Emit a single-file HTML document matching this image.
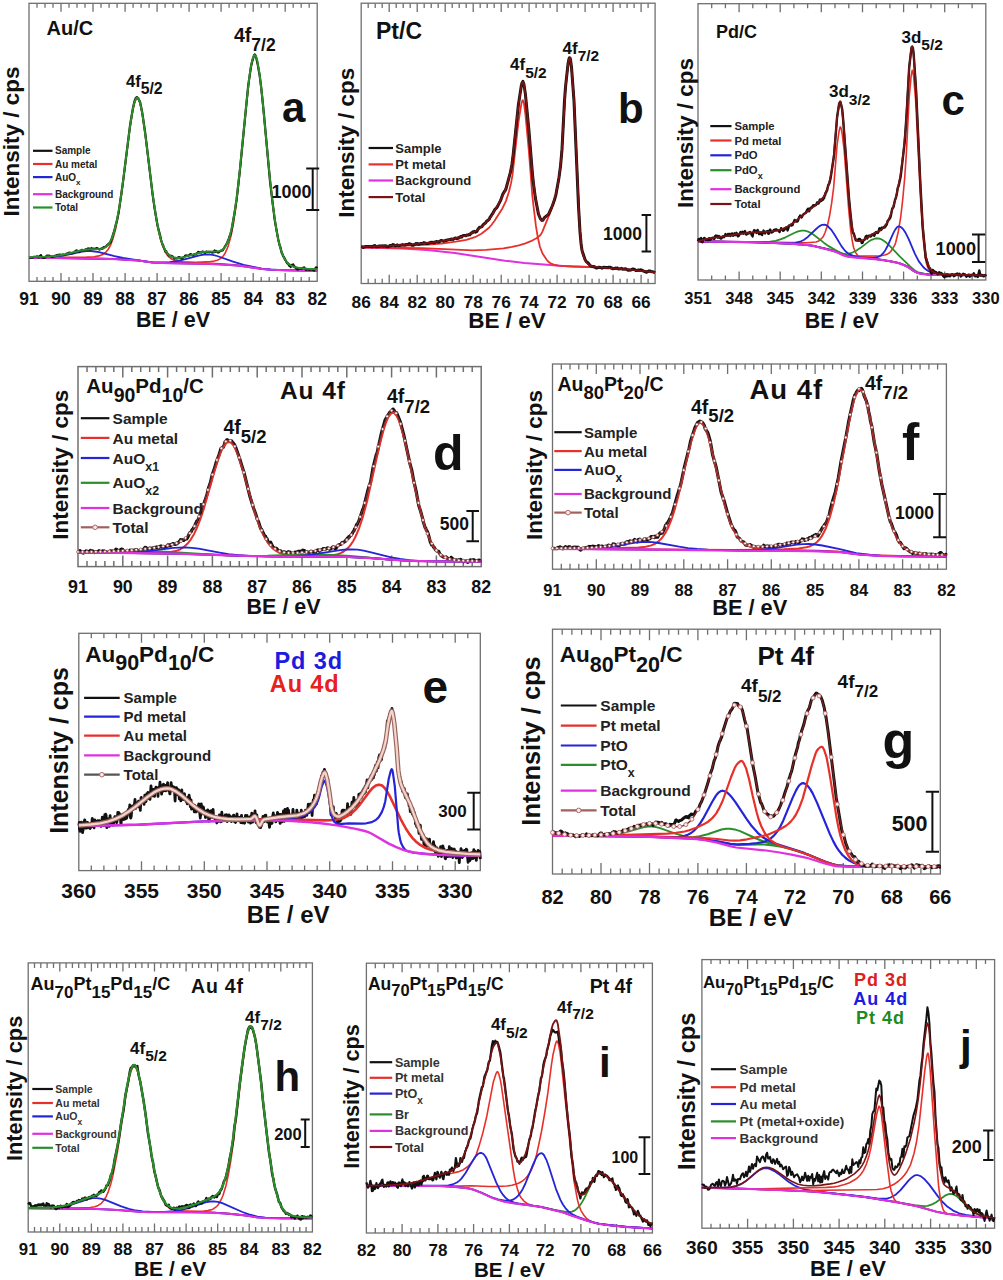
<!DOCTYPE html>
<html><head><meta charset="utf-8"><style>
html,body{margin:0;padding:0;background:#fff;}
svg{display:block;font-family:"Liberation Sans", sans-serif;}
</style></head><body>
<svg width="1003" height="1280" viewBox="0 0 1003 1280">
<rect width="1003" height="1280" fill="#fff"/>
<rect x="29.0" y="3.3" width="288.2" height="278.0" fill="none" stroke="#6f6f6f" stroke-width="1.3"/>
<path d="M309.2,281.3v-4.4M309.2,3.3v4.4M301.2,281.3v-4.4M301.2,3.3v4.4M293.2,281.3v-4.4M293.2,3.3v4.4M285.2,281.3v-8.4M285.2,3.3v8.4M277.2,281.3v-4.4M277.2,3.3v4.4M269.2,281.3v-4.4M269.2,3.3v4.4M261.2,281.3v-4.4M261.2,3.3v4.4M253.2,281.3v-8.4M253.2,3.3v8.4M245.1,281.3v-4.4M245.1,3.3v4.4M237.1,281.3v-4.4M237.1,3.3v4.4M229.1,281.3v-4.4M229.1,3.3v4.4M221.1,281.3v-8.4M221.1,3.3v8.4M213.1,281.3v-4.4M213.1,3.3v4.4M205.1,281.3v-4.4M205.1,3.3v4.4M197.1,281.3v-4.4M197.1,3.3v4.4M189.1,281.3v-8.4M189.1,3.3v8.4M181.1,281.3v-4.4M181.1,3.3v4.4M173.1,281.3v-4.4M173.1,3.3v4.4M165.1,281.3v-4.4M165.1,3.3v4.4M157.1,281.3v-8.4M157.1,3.3v8.4M149.1,281.3v-4.4M149.1,3.3v4.4M141.1,281.3v-4.4M141.1,3.3v4.4M133.1,281.3v-4.4M133.1,3.3v4.4M125.1,281.3v-8.4M125.1,3.3v8.4M117.1,281.3v-4.4M117.1,3.3v4.4M109.1,281.3v-4.4M109.1,3.3v4.4M101.0,281.3v-4.4M101.0,3.3v4.4M93.0,281.3v-8.4M93.0,3.3v8.4M85.0,281.3v-4.4M85.0,3.3v4.4M77.0,281.3v-4.4M77.0,3.3v4.4M69.0,281.3v-4.4M69.0,3.3v4.4M61.0,281.3v-8.4M61.0,3.3v8.4M53.0,281.3v-4.4M53.0,3.3v4.4M45.0,281.3v-4.4M45.0,3.3v4.4M37.0,281.3v-4.4M37.0,3.3v4.4" stroke="#6f6f6f" stroke-width="1.3" fill="none"/>
<text x="317.2" y="305.4" font-size="17.5" fill="#111" text-anchor="middle" font-weight="bold" >82</text>
<text x="285.2" y="305.4" font-size="17.5" fill="#111" text-anchor="middle" font-weight="bold" >83</text>
<text x="253.2" y="305.4" font-size="17.5" fill="#111" text-anchor="middle" font-weight="bold" >84</text>
<text x="221.1" y="305.4" font-size="17.5" fill="#111" text-anchor="middle" font-weight="bold" >85</text>
<text x="189.1" y="305.4" font-size="17.5" fill="#111" text-anchor="middle" font-weight="bold" >86</text>
<text x="157.1" y="305.4" font-size="17.5" fill="#111" text-anchor="middle" font-weight="bold" >87</text>
<text x="125.1" y="305.4" font-size="17.5" fill="#111" text-anchor="middle" font-weight="bold" >88</text>
<text x="93.0" y="305.4" font-size="17.5" fill="#111" text-anchor="middle" font-weight="bold" >89</text>
<text x="61.0" y="305.4" font-size="17.5" fill="#111" text-anchor="middle" font-weight="bold" >90</text>
<text x="29.0" y="305.4" font-size="17.5" fill="#111" text-anchor="middle" font-weight="bold" >91</text>
<path d="M29.0 257.6l86.1 1.3l23.0 1.4l15.0 2.0l20.5 .4l23.5-0.3l13.5-0.8l3.5-0.5l3.0-0.8l2.5-1.2l2.0-1.4l2.0-2.2l1.5-2.3l3.0-6.8l3.0-10.9l2.5-13.0l2.5-17.0l2.5-21.1l8.1-82.4l2.5-22.6l1.5-10.6l1.5-7.8l1.5-4.3l1.0-0.9l1.0 .9l1.5 4.3l2.5 14.7l2.5 21.8l7.0 74.4l3.5 32.5l2.0 15.2l2.0 12.4l2.0 10.0l2.0 7.6l2.0 5.7l2.5 4.9l2.5 3.2l3.5 2.6l3.5 1.3l5.0 1.0l7.5 .7l10.0 .4" stroke="#e8302a" stroke-width="1.60" fill="none" stroke-linejoin="round" />
<path d="M29.0 257.4l45.0-0.0l12.5-0.3l7.5-0.4l5.0-0.8l3.6-1.3l3.0-2.1l2.5-3.0l2.5-4.5l2.5-6.6l2.5-9.4l2.0-9.6l4.0-25.2l7.5-59.7l2.5-17.4l1.5-8.3l1.5-6.0l1.5-3.5l1.0-0.8l1.0 .6l1.5 3.1l1.5 5.9l1.5 8.2l3.0 21.4l7.5 61.1l2.5 16.8l2.0 11.1l2.5 11.1l2.5 8.2l3.0 6.6l1.5 2.3l2.0 2.2l2.5 1.9l3.0 1.4l3.5 .9l5.0 .6l35.5 1.8l16.0 1.2l10.5 1.3l17.1 2.6l8.0 .7l14.5 .6l32.5 .4" stroke="#e8302a" stroke-width="1.60" fill="none" stroke-linejoin="round" />
<path d="M29.0 257.5l16.0-0.1l10.5-0.7l9.0-1.3l17.5-3.8l4.5-0.5l4.5-0.1l8.0 1.2l15.6 4.0l8.5 1.8l29.5 4.6l15.0 .6l52.5 1.1l18.0 1.3l24.1 3.4l7.0 .6l15.0 .7l33.0 .3" stroke="#2424d8" stroke-width="1.80" fill="none" stroke-linejoin="round" />
<path d="M29.0 257.7l86.1 1.3l23.0 1.5l14.0 1.9l10.0 .1l7.5-0.3l7.0-1.0l7.0-1.5l16.0-4.4l4.5-0.8l4.0-0.1l4.5 .5l4.5 1.1l16.0 5.7l10.5 3.1l18.6 4.0l8.5 .7l11.0 .6l35.5 .4" stroke="#2424d8" stroke-width="1.80" fill="none" stroke-linejoin="round" />
<path d="M29.0 257.7l62.0 .8l26.1 .7l21.0 1.4l16.0 2.2l15.5 .5l42.0 .7l18.0 .9l12.5 1.2l20.6 3.0l9.0 .7l13.0 .5l32.5 .3" stroke="#e030e0" stroke-width="2.00" fill="none" stroke-linejoin="round" />
<path d="M29.0 257.5l.5 .0l.5-0.5l.5 .1l.5 .6l1.0-0.3l.5 .3l1.5-0.9l1.5 .1l2.0-0.5l1.0 1.2l1.0-1.6l.5 .1l1.0-1.0l1.0 2.5l1.0-0.3l.5 .6l.5 .2l.5-0.6l.5 .2l2.0-2.1l.5-0.1l.5 .5l1.0-0.5l1.0 .7l.5-0.2l1.0 .8l.5 .0l.5-0.3l.5 .4l1.5-1.1l.5 .6l1.5-1.2l.5 .4l1.0-0.7l1.0 .0l1.0-0.3l.5 .5l1.0-0.3l.5 .5l1.0-0.9l.5 .7l.5-0.1l1.0-0.3l1.5-1.2l1.5-0.2l.5-0.5l.5 .3l1.0-0.5l1.0 .9l1.0-0.3l.5 .2l1.0-0.6l.5 .1l.5-1.3l1.0-0.3l1.0-1.0l1.0 .7l.5-0.2l.5 .7l1.0 .5l1.0-1.4l.5 .3l1.0-1.1l1.0 .6l.5-0.4l1.0 .1l.5-0.3l.5 .1l.5-0.7l1.0 .6l.5-0.3l.5-1.2l1.0 1.3l.5-1.0l.5 .1l.5 1.1l1.0-1.7l1.0 .9l.5-0.4l1.0 .5l3.0-1.2l.5 .6l1.0 .3l1.0 .8l.5-0.7l1.0 .2l.6-0.7l.5 .4l.5-0.3l1.0-1.3l1.0 .1l.5-0.5l.5 .1l1.5-1.8l.5-0.2l.5-0.8l.5 .2l1.0-1.3l.5-0.1l.5-0.6l4.0-12.6l1.5-6.5l.5-1.2l2.0-9.2l4.5-31.6l7.0-56.3l3.0-17.7l1.5-6.4l1.0-2.5l1.0-1.2l.5 .1l1.0 .9l2.0 3.9l2.0 9.6l3.0 20.2l7.5 62.5l2.0 13.9l3.0 17.5l2.5 9.5l1.0 4.8l1.5 4.5l.5 .4l.5 2.0l1.5 3.3l.5 1.8l.5-1.0l1.0 2.4l1.0 .6l.5 1.3l.5-0.1l1.5 1.0l.5-0.5l.5 .5l.5-0.2l1.0 .9l.5 .9l1.0 .8l.5-0.6l1.0 .6l1.0-0.4l.5 .2l1.0-1.4l1.0 .2l.5 .6l1.5 .6l1.0-0.2l1.5-1.4l.5-0.0l.5-1.2l.5 .1l.5-0.4l.5 .5l1.0 .0l.5-0.4l.5 .3l1.5-1.5l1.0-0.0l1.0 .9l1.0 .3l1.5-1.3l1.0 .3l1.5-1.3l.5-0.1l.5-1.2l.5 .5l.5-0.1l.5 .5l.5-0.3l1.5 .1l1.0-1.1l1.0 .8l1.0-0.2l.5 .8l.5-0.7l.5-0.0l.5-0.6l.5 .4l1.0 .1l.5-0.2l1.0 .3l1.0-0.3l1.5 .8l.5-0.8l1.0 .6l1.0-2.0l1.0 1.4l.5-0.8l1.5 1.4l.5-0.4l.5 .5l1.5-1.6l.5 .2l1.0-0.6l1.0-0.0l1.0-1.7l.5-0.3l.5-1.5l2.5-4.0l1.0-2.9l.5-0.3l.5-2.3l1.5-3.6l1.0-4.2l3.0-17.3l2.0-13.0l3.5-31.1l8.1-82.6l3.0-20.3l1.5-5.8l1.5-4.6l.5-0.6l.5 .4l1.0 2.6l1.5 7.0l2.0 11.5l1.5 11.4l2.5 24.3l6.5 71.6l4.5 36.5l3.5 19.5l1.5 6.4l.5 .7l1.5 6.7l.5 .4l1.0 2.9l1.0 1.0l1.0 2.7l.5 .2l.5 1.5l1.0 1.5l.5 .4l.5-0.2l1.0 2.4l.5-0.3l.5 .2l.5 1.4l1.0-2.2l1.0 .0l.5-0.5l1.0 1.9l1.0 .7l.5 1.1l2.0 1.5l.5-1.0l1.0-0.4l.5 .5l1.5-0.3l.5 .5l1.0-1.1l.5 .2l.5-0.5l.5-0.1l.5 .9l1.5 1.6l1.0-1.0l1.5 .8l.5-0.2l.5 .3l.5-0.4l.5 .3l1.0-0.7l.5 .2l.5 .7l.5-0.4l.5 .3l.5 .8l1.5-2.9l.5-0.4l.5 .2l.5 1.0" stroke="#111" stroke-width="2.20" fill="none" stroke-linejoin="round" />
<path d="M29.0 257.1l15.5-0.3l10.5-0.7l9.5-1.6l15.0-3.7l5.5-1.0l5.0-0.6l11.0-0.3l2.6-0.7l2.0-1.0l2.0-1.8l1.5-1.9l2.5-4.7l2.0-5.5l2.0-7.3l2.0-9.2l2.0-11.3l2.5-16.9l7.0-55.3l2.5-17.3l1.5-8.2l1.5-6.0l1.5-3.4l1.0-0.8l1.0 .6l1.5 3.2l1.5 5.8l1.5 8.2l3.0 21.5l7.0 57.3l4.0 26.2l2.0 10.0l2.0 8.1l2.0 6.2l2.5 5.5l2.5 3.6l3.0 2.5l3.0 1.2l4.0 .4l7.0-1.0l13.5-3.7l5.0-1.1l4.5-0.4l8.0-0.1l3.0-0.2l2.5-0.9l2.0-1.3l1.5-1.6l1.5-2.3l1.5-3.0l1.5-4.1l2.5-9.3l2.5-13.1l2.5-17.2l2.5-21.3l7.6-76.7l2.5-22.4l1.5-10.5l1.5-7.6l1.5-4.3l1.0-0.8l1.0 .9l1.5 4.4l2.5 14.7l2.5 21.9l7.0 74.5l3.5 32.6l3.5 24.8l2.0 10.6l2.0 8.1l2.0 6.2l2.5 5.4l3.0 4.0l3.0 2.3l3.5 1.5l5.0 1.1l7.5 .7l10.5 .6" stroke="#2a8f2a" stroke-width="2.00" fill="none" stroke-linejoin="round" />
<line x1="33.0" y1="150.8" x2="52.5" y2="150.8" stroke="#111" stroke-width="2.2"/>
<text x="55.0" y="154.4" font-size="10.0" font-weight="bold" fill="#222">Sample</text>
<line x1="33.0" y1="164.0" x2="52.5" y2="164.0" stroke="#e8302a" stroke-width="2.2"/>
<text x="55.0" y="167.6" font-size="10.0" font-weight="bold" fill="#222">Au metal</text>
<line x1="33.0" y1="177.1" x2="52.5" y2="177.1" stroke="#2424d8" stroke-width="2.2"/>
<text x="55.0" y="180.7" font-size="10.0" font-weight="bold" fill="#222">AuO<tspan dy="4.5" font-size="8.0">x</tspan></text>
<line x1="33.0" y1="194.2" x2="52.5" y2="194.2" stroke="#e030e0" stroke-width="2.2"/>
<text x="55.0" y="197.8" font-size="10.0" font-weight="bold" fill="#222">Background</text>
<line x1="33.0" y1="207.5" x2="52.5" y2="207.5" stroke="#2a8f2a" stroke-width="2.2"/>
<text x="55.0" y="211.1" font-size="10.0" font-weight="bold" fill="#222">Total</text>
<text x="46.6" y="35.3" font-size="20.0" fill="#111" text-anchor="start" font-weight="bold" >Au/C</text>
<text x="126.0" y="87.2" font-weight="bold" fill="#111"><tspan dy="0.0" font-size="16.5">4f</tspan><tspan dy="7.2" font-size="15.8">5/2</tspan></text>
<text x="234.0" y="42.0" font-weight="bold" fill="#111"><tspan dy="0.0" font-size="19.5">4f</tspan><tspan dy="8.6" font-size="17.5">7/2</tspan></text>
<text x="282.0" y="121.8" font-size="42.0" fill="#111" text-anchor="start" font-weight="bold" >a</text>
<path d="M312.7,168.5V209.9M306.2,168.5h13.0M306.2,209.9h13.0" stroke="#111" stroke-width="2.0" fill="none"/>
<text x="311.5" y="198.2" font-size="18.0" fill="#111" text-anchor="end" font-weight="bold" >1000</text>
<text transform="translate(18.6,141.5) rotate(-90)" x="0" y="0" font-size="22.5" font-weight="bold" fill="#111" text-anchor="middle">Intensity / cps</text>
<text x="173.0" y="327.3" font-size="21.5" fill="#111" text-anchor="middle" font-weight="bold" >BE / eV</text>
<rect x="361.2" y="3.2" width="293.9" height="280.3" fill="none" stroke="#6f6f6f" stroke-width="1.3"/>
<path d="M648.1,283.5v-4.8M648.1,3.2v4.8M641.1,283.5v-8.8M641.1,3.2v8.8M634.1,283.5v-4.8M634.1,3.2v4.8M627.1,283.5v-4.8M627.1,3.2v4.8M620.1,283.5v-4.8M620.1,3.2v4.8M613.1,283.5v-8.8M613.1,3.2v8.8M606.1,283.5v-4.8M606.1,3.2v4.8M599.1,283.5v-4.8M599.1,3.2v4.8M592.1,283.5v-4.8M592.1,3.2v4.8M585.1,283.5v-8.8M585.1,3.2v8.8M578.1,283.5v-4.8M578.1,3.2v4.8M571.1,283.5v-4.8M571.1,3.2v4.8M564.1,283.5v-4.8M564.1,3.2v4.8M557.1,283.5v-8.8M557.1,3.2v8.8M550.1,283.5v-4.8M550.1,3.2v4.8M543.1,283.5v-4.8M543.1,3.2v4.8M536.1,283.5v-4.8M536.1,3.2v4.8M529.1,283.5v-8.8M529.1,3.2v8.8M522.1,283.5v-4.8M522.1,3.2v4.8M515.1,283.5v-4.8M515.1,3.2v4.8M508.1,283.5v-4.8M508.1,3.2v4.8M501.2,283.5v-8.8M501.2,3.2v8.8M494.2,283.5v-4.8M494.2,3.2v4.8M487.2,283.5v-4.8M487.2,3.2v4.8M480.2,283.5v-4.8M480.2,3.2v4.8M473.2,283.5v-8.8M473.2,3.2v8.8M466.2,283.5v-4.8M466.2,3.2v4.8M459.2,283.5v-4.8M459.2,3.2v4.8M452.2,283.5v-4.8M452.2,3.2v4.8M445.2,283.5v-8.8M445.2,3.2v8.8M438.2,283.5v-4.8M438.2,3.2v4.8M431.2,283.5v-4.8M431.2,3.2v4.8M424.2,283.5v-4.8M424.2,3.2v4.8M417.2,283.5v-8.8M417.2,3.2v8.8M410.2,283.5v-4.8M410.2,3.2v4.8M403.2,283.5v-4.8M403.2,3.2v4.8M396.2,283.5v-4.8M396.2,3.2v4.8M389.2,283.5v-8.8M389.2,3.2v8.8M382.2,283.5v-4.8M382.2,3.2v4.8M375.2,283.5v-4.8M375.2,3.2v4.8M368.2,283.5v-4.8M368.2,3.2v4.8" stroke="#6f6f6f" stroke-width="1.3" fill="none"/>
<text x="641.1" y="307.9" font-size="17.3" fill="#111" text-anchor="middle" font-weight="bold" >66</text>
<text x="613.1" y="307.9" font-size="17.3" fill="#111" text-anchor="middle" font-weight="bold" >68</text>
<text x="585.1" y="307.9" font-size="17.3" fill="#111" text-anchor="middle" font-weight="bold" >70</text>
<text x="557.1" y="307.9" font-size="17.3" fill="#111" text-anchor="middle" font-weight="bold" >72</text>
<text x="529.1" y="307.9" font-size="17.3" fill="#111" text-anchor="middle" font-weight="bold" >74</text>
<text x="501.2" y="307.9" font-size="17.3" fill="#111" text-anchor="middle" font-weight="bold" >76</text>
<text x="473.2" y="307.9" font-size="17.3" fill="#111" text-anchor="middle" font-weight="bold" >78</text>
<text x="445.2" y="307.9" font-size="17.3" fill="#111" text-anchor="middle" font-weight="bold" >80</text>
<text x="417.2" y="307.9" font-size="17.3" fill="#111" text-anchor="middle" font-weight="bold" >82</text>
<text x="389.2" y="307.9" font-size="17.3" fill="#111" text-anchor="middle" font-weight="bold" >84</text>
<text x="361.2" y="307.9" font-size="17.3" fill="#111" text-anchor="middle" font-weight="bold" >86</text>
<path d="M361.2 247.6l40.6 1.0l25.5 1.3l27.5 3.1l50.1 7.7l19.5 2.3l38.6 3.0l34.0 1.3l18.0 1.1l20.1 1.7l20.0 2.2" stroke="#e030e0" stroke-width="2.00" fill="none" stroke-linejoin="round" />
<path d="M361.2 247.5l60.6 .6l51.1 2.2l13.0-0.4l17.5-1.6l8.5-1.4l7.0-1.6l6.5-1.9l5.5-2.2l5.5-2.9l3.0-2.2l1.5-1.7l1.5-2.8l9.1-22.3l4.0-13.3l2.5-12.1l2.0-13.9l1.5-14.1l4.0-68.6l2.5-22.8l1.0-5.4l.5-1.2l.5 .1l.5 1.8l1.0 7.8l2.5 33.0l5.5 124.0l2.0 22.8l1.0 5.5l1.5 4.6l1.5 3.2l2.0 2.8l2.5 1.9l2.5 1.0l6.5 1.0l27.6 2.0l28.5 2.9" stroke="#e8302a" stroke-width="1.80" fill="none" stroke-linejoin="round" />
<path d="M361.2 246.9l35.0-0.8l32.1-1.4l13.0-1.1l14.5-1.9l10.5-1.9l8.6-2.6l6.5-3.5l7.0-5.4l3.0-3.3l3.0-4.0l8.0-12.6l3.5-7.3l3.0-9.1l2.0-8.1l1.5-8.2l6.0-53.3l3.0-18.7l1.0-3.2l.5-0.3l.5 .9l.5 2.0l1.5 11.1l3.5 37.3l3.5 45.1l3.5 29.3l2.0 11.9l2.0 9.0l2.5 6.5l4.1 6.2l2.0 2.3l2.0 1.6l4.5 1.6l3.5 .7l13.0 .8l26.0 .9l15.5 .9l21.1 1.7l21.0 2.3" stroke="#e8302a" stroke-width="1.80" fill="none" stroke-linejoin="round" />
<path d="M361.2 246.5l1.5 .4l.5 .5l.5-0.5l1.0-0.0l1.0-0.5l6.0 .1l.5 .4l1.0-0.9l1.0-0.1l.5-0.4l1.5 1.3l1.5-0.2l1.0-0.6l.5-0.0l.5 .4l.5-0.4l1.5 .1l.5-0.4l.5 .4l.5-0.2l.5 .3l1.5-0.5l.5 .6l1.0-0.3l.5 .8l.5-0.0l1.5-0.6l.5-0.6l1.0-0.1l.5 .3l1.5-1.2l.5 .3l.5-0.2l1.5 1.1l1.0-0.2l1.0-0.8l.5 .5l1.6 .2l3.5-0.9l1.5 .5l1.0-0.0l.5-0.5l2.5-0.4l1.0-0.5l2.0 .7l.5 .8l1.5 .0l1.5-1.0l.5 .1l.5-0.8l.5 .4l1.0-0.4l1.0 .8l1.0-0.4l.5 .2l.5-0.5l2.5-0.2l1.0-0.8l2.5 .9l1.0 .1l.5-0.3l.5 .2l1.5-0.9l1.5-0.4l.5 .3l.5-0.3l.5 .3l.5-0.2l.5 .5l.5-0.5l.5 .2l.5-0.6l1.0-0.3l2.5 .3l1.5-0.8l.5-0.7l2.0 .4l.5 .5l1.5-0.4l1.0-0.6l1.0 .2l.5-0.5l2.5-0.4l.5-0.3l.5 .2l.5-0.4l2.0 .3l1.0-0.9l1.5-0.5l1.0 .6l1.0-0.6l.5 .3l1.5-1.3l.5 .3l.5-0.7l.5 .6l.5-0.2l1.0-1.2l1.5-0.4l1.5 .4l1.5-0.9l1.0 .1l.5-0.6l1.0 .4l1.0-1.5l.5 .2l1.6-1.6l.5 .4l1.0-1.0l1.0 1.0l1.5-0.8l.5-1.3l2.0-2.9l.5 .2l2.0-0.9l1.5-2.2l2.0-1.3l1.5-2.2l1.0-0.4l1.5-1.6l.5-1.3l2.5-3.7l2.5-4.5l1.5-1.3l1.0-1.5l3.0-5.7l2.5-6.9l1.5-2.6l.5-0.3l1.0-2.1l4.5-16.6l1.5-7.6l1.0-7.5l5.5-52.6l3.0-19.4l.5-2.0l1.0-1.9l1.0 2.7l1.5 10.0l3.5 36.1l3.5 43.1l1.0 9.8l2.0 15.0l3.0 15.8l2.0 4.9l1.5 1.6l1.0-0.2l1.5-2.5l4.1-3.4l4.0-8.8l2.0-5.7l1.5-5.5l3.0-16.9l1.5-11.1l1.5-16.9l2.5-48.7l1.0-13.6l2.5-23.0l1.0-5.3l.5-1.1l.5 .3l.5 1.7l1.0 7.5l2.5 33.7l4.5 105.2l1.5 25.8l1.0 11.3l1.0 7.2l3.0 9.0l1.5 2.5l1.0 .4l3.0 3.6l2.5 .7l1.0-0.2l.5 .6l.5-0.0l.5 .6l.5-0.0l.5 .5l2.5-0.8l1.5 .2l1.5 .7l2.0-1.0l1.5 .2l.5 .3l1.5-0.3l.5 .4l.5-0.6l1.5 .2l.5-0.2l1.0 1.0l.5-0.1l1.0 .6l1.5-0.1l1.0-0.6l.5 .3l1.5-0.2l.5 .7l1.1 .1l1.0-0.1l1.5-0.5l1.0 .9l3.0-0.5l2.5 1.6l3.0-0.4l1.5-0.8l1.0 .0l1.0 .3l1.5 1.2l2.5-0.6l1.5 .2l.5-0.4l.5 .1l2.5 1.3l3.0 1.1l2.5-1.4l1.0 .1l1.5 .8l1.5 .0l2.0 .8" stroke="#111" stroke-width="3.00" fill="none" stroke-linejoin="round" />
<path d="M361.2 246.8l29.0-1.1l21.1-1.3l20.0-1.7l15.0-2.3l14.5-3.4l5.5-1.7l5.0-2.0l3.6-1.8l3.5-2.2l3.5-2.9l3.5-3.3l3.5-3.8l3.0-4.1l7.0-12.0l5.5-11.1l2.0-5.4l2.0-6.5l2.5-10.7l1.5-8.6l5.5-51.6l3.5-23.6l1.0-3.6l.5-0.5l.5 .7l.5 1.7l1.5 10.5l3.5 35.7l3.5 43.2l3.0 23.9l2.0 11.3l2.0 8.1l1.0 2.4l1.0 1.1l1.0 .1l1.0-0.6l5.1-5.7l1.5-2.7l2.0-4.7l3.5-11.0l1.5-6.4l1.5-8.4l1.5-10.8l1.5-14.1l4.0-68.6l2.5-22.8l1.0-5.4l.5-1.2l.5 .1l.5 1.8l1.0 7.8l2.5 33.0l5.5 124.0l2.0 22.8l1.0 5.5l1.5 4.6l1.5 3.2l2.0 2.8l2.5 1.9l2.5 1.0l6.5 1.0l27.6 2.0l28.5 2.9" stroke="#7a1414" stroke-width="1.80" fill="none" stroke-linejoin="round" />
<line x1="368.6" y1="148.0" x2="393.0" y2="148.0" stroke="#111" stroke-width="2.2"/>
<text x="395.3" y="152.7" font-size="13.0" font-weight="bold" fill="#222">Sample</text>
<line x1="368.6" y1="164.4" x2="393.0" y2="164.4" stroke="#e8302a" stroke-width="2.2"/>
<text x="395.3" y="169.1" font-size="13.0" font-weight="bold" fill="#222">Pt metal</text>
<line x1="368.6" y1="180.5" x2="393.0" y2="180.5" stroke="#e030e0" stroke-width="2.2"/>
<text x="395.3" y="185.2" font-size="13.0" font-weight="bold" fill="#222">Background</text>
<line x1="368.6" y1="197.1" x2="393.0" y2="197.1" stroke="#7a1414" stroke-width="2.2"/>
<text x="395.3" y="201.8" font-size="13.0" font-weight="bold" fill="#222">Total</text>
<text x="376.0" y="39.2" font-size="23.0" fill="#111" text-anchor="start" font-weight="bold" >Pt/C</text>
<text x="510.0" y="70.0" font-weight="bold" fill="#111"><tspan dy="0.0" font-size="17.0">4f</tspan><tspan dy="7.5" font-size="15.5">5/2</tspan></text>
<text x="562.5" y="53.8" font-weight="bold" fill="#111"><tspan dy="0.0" font-size="17.0">4f</tspan><tspan dy="7.5" font-size="15.5">7/2</tspan></text>
<text x="618.0" y="123.2" font-size="42.0" fill="#111" text-anchor="start" font-weight="bold" >b</text>
<path d="M646.4,215.0V251.5M641.6,215.0h9.5M641.6,251.5h9.5" stroke="#111" stroke-width="2.0" fill="none"/>
<text x="641.9" y="239.7" font-size="17.5" fill="#111" text-anchor="end" font-weight="bold" >1000</text>
<text transform="translate(353.5,142.7) rotate(-90)" x="0" y="0" font-size="22.5" font-weight="bold" fill="#111" text-anchor="middle">Intensity / cps</text>
<text x="507.0" y="328.2" font-size="22.5" fill="#111" text-anchor="middle" font-weight="bold" >BE / eV</text>
<rect x="698.0" y="3.7" width="287.8" height="276.3" fill="none" stroke="#6f6f6f" stroke-width="1.3"/>
<path d="M972.1,280.0v-4.5M972.1,3.7v4.5M958.4,280.0v-4.5M958.4,3.7v4.5M944.7,280.0v-8.5M944.7,3.7v8.5M931.0,280.0v-4.5M931.0,3.7v4.5M917.3,280.0v-4.5M917.3,3.7v4.5M903.6,280.0v-8.5M903.6,3.7v8.5M889.9,280.0v-4.5M889.9,3.7v4.5M876.2,280.0v-4.5M876.2,3.7v4.5M862.5,280.0v-8.5M862.5,3.7v8.5M848.8,280.0v-4.5M848.8,3.7v4.5M835.0,280.0v-4.5M835.0,3.7v4.5M821.3,280.0v-8.5M821.3,3.7v8.5M807.6,280.0v-4.5M807.6,3.7v4.5M793.9,280.0v-4.5M793.9,3.7v4.5M780.2,280.0v-8.5M780.2,3.7v8.5M766.5,280.0v-4.5M766.5,3.7v4.5M752.8,280.0v-4.5M752.8,3.7v4.5M739.1,280.0v-8.5M739.1,3.7v8.5M725.4,280.0v-4.5M725.4,3.7v4.5M711.7,280.0v-4.5M711.7,3.7v4.5" stroke="#6f6f6f" stroke-width="1.3" fill="none"/>
<text x="985.8" y="304.3" font-size="16.5" fill="#111" text-anchor="middle" font-weight="bold" >330</text>
<text x="944.7" y="304.3" font-size="16.5" fill="#111" text-anchor="middle" font-weight="bold" >333</text>
<text x="903.6" y="304.3" font-size="16.5" fill="#111" text-anchor="middle" font-weight="bold" >336</text>
<text x="862.5" y="304.3" font-size="16.5" fill="#111" text-anchor="middle" font-weight="bold" >339</text>
<text x="821.3" y="304.3" font-size="16.5" fill="#111" text-anchor="middle" font-weight="bold" >342</text>
<text x="780.2" y="304.3" font-size="16.5" fill="#111" text-anchor="middle" font-weight="bold" >345</text>
<text x="739.1" y="304.3" font-size="16.5" fill="#111" text-anchor="middle" font-weight="bold" >348</text>
<text x="698.0" y="304.3" font-size="16.5" fill="#111" text-anchor="middle" font-weight="bold" >351</text>
<path d="M698.0 241.4l58.6 .9l31.0 1.3l17.5 1.2l6.5 .8l17.5 3.7l7.0 1.9l9.1 3.7l2.0 .4l5.0 .5l10.5 .3l16.5-0.1l5.5-1.0l3.0-1.1l1.5-0.9l1.5-1.5l2.0-2.8l2.0-3.6l1.0-2.6l2.5-10.5l2.5-14.9l2.0-17.4l2.0-21.9l1.5-21.7l3.0-59.0l2.0-21.7l1.0-5.1l.5 .3l1.0 6.5l2.0 24.2l5.0 100.3l2.0 32.1l2.5 23.7l1.0 5.1l1.5 4.7l1.5 3.3l1.5 2.0l3.0 1.5l2.5 .7l49.6 .8" stroke="#e8302a" stroke-width="1.60" fill="none" stroke-linejoin="round" />
<path d="M698.0 241.4l108.6 1.3l9.5-0.7l2.0-0.7l2.0-1.3l3.0-3.2l2.0-4.3l2.5-7.7l2.0-9.3l2.0-12.1l2.0-15.5l3.5-42.9l2.0-14.1l1.0-3.8l.5-0.1l.5 1.2l1.1 5.6l2.0 16.9l4.5 58.8l2.0 21.0l1.5 10.1l1.5 7.4l2.0 4.6l2.0 2.9l2.0 1.3l4.0 1.2l10.5 .9l9.5 1.3l8.5 1.4l7.0 1.7l4.0 1.4l4.5 2.1l5.5 3.9l3.0 1.6l2.0 .8l4.0 .7l5.5 .7l6.5 .2l51.6 .8" stroke="#e8302a" stroke-width="1.60" fill="none" stroke-linejoin="round" />
<path d="M698.0 241.4l57.6 .9l31.5 1.2l17.0 1.1l5.5 .5l5.5 1.1l20.0 4.8l8.1 2.7l3.0 .4l4.5-0.9l5.0-2.2l4.5-2.9l8.5-6.5l3.0-1.8l3.5-1.3l3.0-0.1l2.0 .5l2.0 .9l4.0 2.8l3.5 3.3l10.0 10.4l13.0 12.5l3.0 2.3l2.5 1.2l6.0 1.4l7.0 .7l54.6 1.0" stroke="#2a8f2a" stroke-width="1.80" fill="none" stroke-linejoin="round" />
<path d="M698.0 241.4l61.1 .7l11.0-0.4l5.5-0.9l5.5-1.6l4.5-1.9l8.5-4.3l4.0-1.6l3.5-0.7l3.0 .0l3.5 .9l3.0 1.4l3.5 2.5l9.5 7.4l5.0 3.5l13.6 7.9l4.5 1.8l7.0 1.1l24.0 2.1l9.5 1.5l7.5 1.4l5.5 1.5l5.0 2.1l3.0 1.6l5.0 3.6l3.0 1.5l2.0 .7l4.5 .8l5.0 .5l7.5 .2l50.1 .8" stroke="#2a8f2a" stroke-width="1.80" fill="none" stroke-linejoin="round" />
<path d="M698.0 241.4l59.1 .9l31.0 1.3l17.5 1.2l7.5 1.1l17.5 4.2l5.5 1.7l7.6 3.4l3.5 1.1l14.0 1.4l12.5 .3l3.0-0.5l2.5-1.0l2.0-1.3l2.0-2.0l2.0-2.8l2.0-3.6l6.0-13.4l2.0-3.8l2.0-2.6l1.0-0.6l1.0-0.1l1.5 .7l1.5 1.2l1.5 1.8l2.0 3.1l3.0 6.0l6.0 14.3l4.0 7.7l4.5 5.9l2.5 2.3l2.5 1.7l2.5 1.2l3.0 1.0l7.6 1.1l44.5 1.1" stroke="#2424d8" stroke-width="1.80" fill="none" stroke-linejoin="round" />
<path d="M698.0 241.4l46.0 .5l41.6 1.2l9.5-0.3l5.0-1.1l4.0-1.9l4.0-3.1l8.0-7.7l3.0-2.6l3.0-1.6l2.5-0.2l1.5 .5l1.5 .9l3.5 3.6l3.5 5.2l7.0 11.6l3.6 4.6l3.5 2.9l4.5 2.0l7.0 1.5l13.5 1.3l10.0 1.4l13.5 2.6l4.5 1.4l5.0 2.1l2.5 1.5l4.5 3.3l3.0 1.5l2.0 .7l4.0 .7l5.5 .6l7.0 .2l50.6 .8" stroke="#2424d8" stroke-width="1.80" fill="none" stroke-linejoin="round" />
<path d="M698.0 241.4l33.0 .4l28.6 .6l31.0 1.3l17.5 1.4l6.5 1.1l17.0 4.3l4.5 1.4l7.6 3.5l3.5 1.1l6.5 .8l24.0 2.1l11.0 1.6l8.0 1.7l4.0 1.1l4.0 1.6l3.5 1.7l6.5 4.5l3.0 1.4l3.0 .6l6.0 .8l6.0 .3l53.1 .8" stroke="#e030e0" stroke-width="2.20" fill="none" stroke-linejoin="round" />
<path d="M698.0 241.2l.5-2.0l.5 1.4l1.0-1.8l.5-0.0l.5-0.7l.5 3.7l1.0 .4l.5-2.7l1.0-1.4l.5-0.2l1.5 2.0l.5-0.6l1.5 .8l.5-0.4l.5-1.3l.5-0.1l.5 1.6l.5-0.1l1.5-1.9l1.0-0.2l.5 1.0l.5 .2l.5-0.3l.5-2.4l.5 .6l.5-1.2l.5 .7l.5-0.6l1.0 2.0l1.0-1.6l.5 .2l.5 1.7l1.0 .6l.5-0.3l1.5-2.0l1.0 .9l.5-1.1l.5-0.3l.5-1.7l.5 1.0l1.0 .6l1.0-1.7l.5 1.6l.5-1.6l1.0-0.1l.5 2.1l1.5-2.6l1.0 2.4l.5-1.2l.5 .6l.5-1.9l.5 1.7l.5-0.3l.5 .4l.5-2.3l1.0 1.8l.5 1.7l1.0-0.8l1.5-3.4l.5 1.4l.5-0.5l.5 .1l.5-1.3l1.0 1.9l1.0-2.1l.5-0.5l1.1 3.4l.5 .1l.5-1.1l1.0-0.8l.5 .8l.5-0.9l.5 .3l.5-0.8l.5 .9l.5 .1l.5 1.8l1.0 1.5l.5-3.3l1.0-2.9l.5 1.8l.5-1.4l.5 1.3l1.0 1.0l1.0-2.9l1.0 2.1l.5 2.0l1.0-0.1l.5-1.3l.5 1.3l.5 .0l.5 .9l.5-2.1l.5-0.6l.5-1.6l.5 1.8l1.0 1.0l.5-1.5l2.0-0.8l.5 2.2l.5 .5l.5-0.8l.5-2.6l.5-0.8l1.5 3.0l1.0-0.8l.5-0.0l.5-1.4l.5-0.5l.5-0.1l.5 .4l.5-0.1l.5-0.8l.5 .2l.5 .9l1.5-0.0l1.0 1.7l.5-2.2l.5 .0l.5-1.7l.5 1.4l.5-0.2l1.0 1.4l.5-0.7l.5 .2l.5-1.2l1.5-1.7l.5 1.4l.5-0.1l.5 1.7l1.5-4.8l.5 .2l1.0-0.6l.5-0.8l.5 1.2l.5-1.1l.5 .4l.5-2.0l.5-0.6l1.0-2.4l1.5 1.7l1.0-0.0l.5-0.4l.5-0.7l1.0-3.5l.5 .0l.5-1.4l.5 1.2l.5-0.9l.5 1.6l2.0-3.5l.5 .1l.5-0.6l1.0-0.5l1.0-1.5l.5-1.7l.5 .0l.5-1.1l.5 1.9l.5 .7l1.5-3.5l.5 .3l.5-0.1l1.5-2.6l.5-0.2l.5 .9l.5-1.0l1.0 .1l.5-0.3l1.0-2.4l.5-0.1l.5 1.3l.5-0.3l.5-0.9l.5-2.3l.5-0.7l.5 1.8l1.0-0.5l.5-1.8l.5-0.4l.5 1.0l.5-1.5l.5-0.2l.5-2.5l.5-0.2l.5-2.4l.5-0.0l.5-1.8l.5-0.4l1.0-5.0l1.5-3.0l1.0-4.3l3.5-23.4l3.0-37.9l2.0-13.1l.5-1.3l1.0-0.1l1.6 6.7l.5 4.6l6.5 86.7l2.5 24.8l1.0 6.9l.5 1.0l.5-0.0l2.0 7.0l.5-0.3l.5 .6l.5-0.3l.5 .4l1.0-1.6l1.0-0.1l1.5 1.7l.5 2.5l.5 .0l.5-0.6l.5-1.7l.5-0.7l1.0-0.4l1.0-3.1l.5-0.6l.5-0.2l.5 2.8l.5-1.3l1.5-1.7l.5 .7l.5-0.4l.5 .6l.5-0.5l.5-1.3l.5 .3l.5-0.8l.5 .1l.5-0.5l.5 2.0l1.5-3.5l.5-0.3l.5 .7l.5-0.7l.5 .9l1.0-1.3l.5-2.9l.5-0.4l1.0 1.8l.5-0.2l.5-2.3l1.0 .6l1.5-1.5l.5 .8l.5-1.7l.5 .4l1.0-1.5l1.0-3.8l.5-0.3l.5-0.9l.5-0.2l.5-1.4l.5-0.2l.5-1.5l1.5-7.6l.5-0.9l.5-0.2l.5-1.4l1.5-7.2l.5-0.7l1.0-3.6l1.0-6.8l1.0-2.2l2.0-9.4l4.0-34.2l2.0-29.9l2.5-45.3l2.0-16.7l.5-3.1l.5-0.1l.5 .5l.5 2.2l.5 4.4l2.5 37.8l4.0 88.5l2.5 45.8l3.0 31.2l2.0 5.8l.5 2.3l1.0 2.2l1.0 .7l1.0 4.8l.5 .4l.5-0.8l.5-3.0l1.0 .9l1.0 1.8l.5-0.9l.5 .9l.5-0.3l1.5 1.9l.6-0.1l.5-1.5l.5-0.3l.5 1.1l.5 .1l.5-0.5l.5-0.1l1.5 2.0l.5 1.4l1.0 .7l.5-0.5l1.0 .1l.5-1.7l1.0-0.7l.5 2.0l.5-0.5l.5 .4l.5-0.9l.5 1.1l.5-0.2l1.5-1.8l.5 .3l.5-0.2l.5 .5l.5 1.3l1.0-0.5l.5-1.4l.5 .7l.5-0.8l1.0-0.8l.5 1.2l.5 .5l.5-0.3l.5-1.0l.5 .4l1.0 2.2l.5-0.2l1.0-1.6l1.0-0.8l.5 .9l.5 .2l.5-0.7l1.5 2.5l1.0-1.5l.5 .8l.5-1.3l.5 .9l.5-0.8l.5 1.9l.5-1.1l.5 .1l.5-1.0l.5 .6l1.0-0.5l1.0-1.5l1.5 3.1l.5-0.1l.5-1.0l.5-0.1l.5 .5l.5 1.3l1.5-6.5l1.0 4.4l.5 .6l1.0-0.6l1.0 .4l.5 1.0l.5 .1l.5-0.9l.5 .0l.5-0.6l.5 1.4" stroke="#111" stroke-width="2.40" fill="none" stroke-linejoin="round" />
<path d="M698.0 241.3l9.5-2.6l17.0-2.3l13.5-2.4l15.1-1.6l17.5-0.7l5.0-0.8l5.0-1.3l6.0-2.5l5.5-3.3l25.5-20.4l5.5-5.8l1.5-2.4l3.5-8.5l2.0-7.9l2.0-10.5l1.5-10.4l3.5-40.6l2.0-13.2l1.0-2.9l.5 .4l1.0 4.9l2.1 18.8l4.5 63.4l2.0 24.1l2.0 14.8l1.5 7.3l1.5 3.3l1.5 2.0l1.5 1.0l2.0-0.1l3.5-1.3l7.5-4.9l8.0-3.9l3.0-2.0l2.5-2.7l2.5-3.9l2.0-4.1l2.0-5.3l4.5-14.6l4.5-21.6l3.0-22.6l2.5-26.3l3.5-60.8l2.0-17.8l.5-2.4l.5-0.8l.5 1.3l1.0 8.4l2.0 27.8l5.0 107.8l1.5 27.3l1.5 18.7l1.5 14.2l1.0 5.9l1.5 5.6l1.5 4.1l1.5 2.6l3.0 2.5l3.0 1.2l4.6 .6l7.0 .4l37.5 .8" stroke="#7a1414" stroke-width="1.80" fill="none" stroke-linejoin="round" />
<line x1="710.3" y1="126.1" x2="731.5" y2="126.1" stroke="#111" stroke-width="2.2"/>
<text x="734.4" y="130.2" font-size="11.3" font-weight="bold" fill="#222">Sample</text>
<line x1="710.3" y1="140.5" x2="731.5" y2="140.5" stroke="#e8302a" stroke-width="2.2"/>
<text x="734.4" y="144.6" font-size="11.3" font-weight="bold" fill="#222">Pd metal</text>
<line x1="710.3" y1="155.3" x2="731.5" y2="155.3" stroke="#2424d8" stroke-width="2.2"/>
<text x="734.4" y="159.4" font-size="11.3" font-weight="bold" fill="#222">PdO</text>
<line x1="710.3" y1="170.2" x2="731.5" y2="170.2" stroke="#2a8f2a" stroke-width="2.2"/>
<text x="734.4" y="174.3" font-size="11.3" font-weight="bold" fill="#222">PdO<tspan dy="5.1" font-size="9.0">x</tspan></text>
<line x1="710.3" y1="189.2" x2="731.5" y2="189.2" stroke="#e030e0" stroke-width="2.2"/>
<text x="734.4" y="193.3" font-size="11.3" font-weight="bold" fill="#222">Background</text>
<line x1="710.3" y1="204.0" x2="731.5" y2="204.0" stroke="#7a1414" stroke-width="2.2"/>
<text x="734.4" y="208.1" font-size="11.3" font-weight="bold" fill="#222">Total</text>
<text x="716.0" y="37.7" font-size="18.0" fill="#111" text-anchor="start" font-weight="bold" >Pd/C</text>
<text x="829.0" y="97.4" font-weight="bold" fill="#111"><tspan dy="0.0" font-size="17.0">3d</tspan><tspan dy="7.2" font-size="15.5">3/2</tspan></text>
<text x="901.5" y="43.3" font-weight="bold" fill="#111"><tspan dy="0.0" font-size="17.0">3d</tspan><tspan dy="7.0" font-size="15.5">5/2</tspan></text>
<text x="941.5" y="115.0" font-size="42.0" fill="#111" text-anchor="start" font-weight="bold" >c</text>
<path d="M978.6,234.4V261.9M972.0,234.4h13.2M972.0,261.9h13.2" stroke="#111" stroke-width="2.0" fill="none"/>
<text x="976.0" y="254.7" font-size="18.2" fill="#111" text-anchor="end" font-weight="bold" >1000</text>
<text transform="translate(692.5,133.0) rotate(-90)" x="0" y="0" font-size="22.5" font-weight="bold" fill="#111" text-anchor="middle">Intensity / cps</text>
<text x="841.8" y="327.7" font-size="21.5" fill="#111" text-anchor="middle" font-weight="bold" >BE / eV</text>
<rect x="78.0" y="366.6" width="403.2" height="200.0" fill="none" stroke="#6f6f6f" stroke-width="1.5"/>
<path d="M472.2,566.6v-5.5M472.2,366.6v5.5M463.3,566.6v-5.5M463.3,366.6v5.5M454.3,566.6v-5.5M454.3,366.6v5.5M445.4,566.6v-5.5M445.4,366.6v5.5M436.4,566.6v-11.0M436.4,366.6v11.0M427.4,566.6v-5.5M427.4,366.6v5.5M418.5,566.6v-5.5M418.5,366.6v5.5M409.5,566.6v-5.5M409.5,366.6v5.5M400.6,566.6v-5.5M400.6,366.6v5.5M391.6,566.6v-11.0M391.6,366.6v11.0M382.6,566.6v-5.5M382.6,366.6v5.5M373.7,566.6v-5.5M373.7,366.6v5.5M364.7,566.6v-5.5M364.7,366.6v5.5M355.8,566.6v-5.5M355.8,366.6v5.5M346.8,566.6v-11.0M346.8,366.6v11.0M337.8,566.6v-5.5M337.8,366.6v5.5M328.9,566.6v-5.5M328.9,366.6v5.5M319.9,566.6v-5.5M319.9,366.6v5.5M311.0,566.6v-5.5M311.0,366.6v5.5M302.0,566.6v-11.0M302.0,366.6v11.0M293.0,566.6v-5.5M293.0,366.6v5.5M284.1,566.6v-5.5M284.1,366.6v5.5M275.1,566.6v-5.5M275.1,366.6v5.5M266.2,566.6v-5.5M266.2,366.6v5.5M257.2,566.6v-11.0M257.2,366.6v11.0M248.2,566.6v-5.5M248.2,366.6v5.5M239.3,566.6v-5.5M239.3,366.6v5.5M230.3,566.6v-5.5M230.3,366.6v5.5M221.4,566.6v-5.5M221.4,366.6v5.5M212.4,566.6v-11.0M212.4,366.6v11.0M203.4,566.6v-5.5M203.4,366.6v5.5M194.5,566.6v-5.5M194.5,366.6v5.5M185.5,566.6v-5.5M185.5,366.6v5.5M176.6,566.6v-5.5M176.6,366.6v5.5M167.6,566.6v-11.0M167.6,366.6v11.0M158.6,566.6v-5.5M158.6,366.6v5.5M149.7,566.6v-5.5M149.7,366.6v5.5M140.7,566.6v-5.5M140.7,366.6v5.5M131.8,566.6v-5.5M131.8,366.6v5.5M122.8,566.6v-11.0M122.8,366.6v11.0M113.8,566.6v-5.5M113.8,366.6v5.5M104.9,566.6v-5.5M104.9,366.6v5.5M95.9,566.6v-5.5M95.9,366.6v5.5M87.0,566.6v-5.5M87.0,366.6v5.5" stroke="#6f6f6f" stroke-width="1.5" fill="none"/>
<text x="481.2" y="592.5" font-size="17.8" fill="#111" text-anchor="middle" font-weight="bold" >82</text>
<text x="436.4" y="592.5" font-size="17.8" fill="#111" text-anchor="middle" font-weight="bold" >83</text>
<text x="391.6" y="592.5" font-size="17.8" fill="#111" text-anchor="middle" font-weight="bold" >84</text>
<text x="346.8" y="592.5" font-size="17.8" fill="#111" text-anchor="middle" font-weight="bold" >85</text>
<text x="302.0" y="592.5" font-size="17.8" fill="#111" text-anchor="middle" font-weight="bold" >86</text>
<text x="257.2" y="592.5" font-size="17.8" fill="#111" text-anchor="middle" font-weight="bold" >87</text>
<text x="212.4" y="592.5" font-size="17.8" fill="#111" text-anchor="middle" font-weight="bold" >88</text>
<text x="167.6" y="592.5" font-size="17.8" fill="#111" text-anchor="middle" font-weight="bold" >89</text>
<text x="122.8" y="592.5" font-size="17.8" fill="#111" text-anchor="middle" font-weight="bold" >90</text>
<text x="78.0" y="592.5" font-size="17.8" fill="#111" text-anchor="middle" font-weight="bold" >91</text>
<path d="M78.0 551.9l.5 .2l.5-0.1l1.0-1.4l.5 .7l.5 .1l.5 .7l.5 .1l.5 .7l.5-0.6l.5 .7l.5-1.2l.5 .3l.5-0.3l.5 .2l.5-1.1l.5 .5l1.0-0.2l.5 .8l.5-0.4l.5 .2l.5-0.4l.5 .3l.5-1.3l.5 .5l1.5-0.1l1.0 1.3l1.0 .5l.5-0.7l.5-0.1l2.0-0.0l1.5-1.1l.5 .2l.5 .9l1.5 .4l.5-0.3l.5-0.9l1.0 .6l.5-0.7l.5 .8l1.5 .1l.5 .7l1.0 .0l1.0-0.3l.5-0.6l.5 .1l1.0-0.9l1.0 .9l.5-0.8l.5 .9l.5 .3l1.0-0.7l.5 .4l.5-1.3l1.0-1.4l1.0 .6l.5 1.5l1.0 .9l1.0-0.5l.5-1.5l1.5-1.0l1.0 .2l.5 1.0l2.0 1.5l.5-0.5l1.5-0.3l1.5 .5l1.0-0.5l.5-0.8l.5 .3l.5-0.2l1.0 .2l.5 .4l.5-0.6l.5 .4l.5-0.1l.5-0.6l.5 .1l.5-0.5l1.0-0.1l1.0 .9l.5 1.4l.5-0.6l1.0 .5l.5-0.2l.5-0.9l1.0 .1l1.0-0.7l.5 .2l2.0-2.8l1.0 .2l1.0 1.9l.5-0.0l.5-0.5l.5 .3l1.0-1.3l2.0 .3l.5 .3l1.5-0.9l.5 .2l.5-0.4l.5 .3l1.5-0.8l.5 .3l.5-0.2l.5 .8l.5 .2l1.0-1.6l.5 .6l1.0-1.1l1.0 1.2l.5-0.3l.5 .2l.5 .2l.5 .7l.5-0.2l.5-0.9l1.0-0.3l.5-0.6l.5-0.1l.5 .3l.5-1.4l1.0 .7l1.0-0.7l.5 1.0l.5-1.1l1.5-0.7l.5-0.5l2.5 .9l1.5-0.7l.5-0.9l.5 .2l1.6-1.9l.5-0.2l.5-1.2l.5 .5l.5 .2l.5-0.6l.5 .6l1.0 .1l1.5-1.4l1.0-0.5l.5 .3l1.0-1.2l2.0-4.7l.5-0.6l1.0-0.5l1.0-2.3l1.0-0.9l.5-1.2l.5 .0l.5-0.8l1.0-3.3l.5-0.5l.5-1.5l1.5-1.7l1.0-2.3l2.5-7.1l1.5-3.1l1.5-5.9l.5-0.9l2.0-6.5l1.5-6.3l1.5-4.0l2.5-10.1l1.5-3.8l2.5-8.7l.5-0.6l.5-2.0l1.0-2.2l2.0-6.6l.5-1.3l.5-0.4l1.5-0.4l1.0-2.2l1.0-3.5l2.0-2.1l.5 .9l1.0-0.2l1.0 .8l1.0-0.5l.5 .5l.5-0.3l.5 .9l1.5 1.5l.5 1.1l.5 .3l.5 1.7l.5 .6l4.0 11.5l4.5 14.5l6.0 24.1l3.5 11.1l2.5 6.9l1.0 3.8l1.5 3.1l2.0 6.5l1.0 .8l3.0 6.5l1.0 .6l.5 1.5l.5 .7l.5 .2l1.0 2.9l1.5 1.2l1.0-0.7l2.5 5.3l1.0 .5l.5-0.1l.5 .9l.5 .2l.5-0.6l.5-0.0l2.5 3.4l.5-0.7l1.0-0.3l1.0 1.4l1.0 .4l.5-0.4l.5 .3l.5-0.6l.5 .3l.5-0.1l.5 1.1l1.5-0.6l.5 .1l.5-0.9l.5-0.1l.5 .2l.5 .7l.5-0.4l1.0 1.4l.5-0.5l.5 .2l.5 1.1l1.0-0.9l.5 .0l.5-0.4l.5-0.9l.5 .3l.5-0.5l.5 .1l1.5-0.8l1.5 .1l.5 .4l.5-0.6l1.0 .2l1.0-1.1l.5 .4l.5-0.3l.5 .3l.5-0.1l.5 .8l.5-0.1l1.0 .7l1.0-0.1l.5 1.0l1.0-0.6l.5 .3l1.0-1.3l.5-0.0l1.5 .2l1.0 1.0l.5-0.0l.5-0.7l.5 .6l.5-0.1l1.0-1.9l.5-0.0l.5-0.4l.5-0.1l1.5 1.3l.5-0.9l2.5-0.9l.5-0.7l1.5-0.2l.5 .7l.5 .1l2.0-1.4l2.0 1.4l1.0-0.3l2.5-2.2l1.0 .5l.5 1.0l1.5 .1l1.0-2.0l1.5-1.6l.5 .2l1.0-0.6l.5 .1l.5-0.3l.5-1.2l.5-0.4l2.0-0.5l1.0-0.6l.5-1.1l2.0-2.5l.5 .5l.5-1.5l.5 .4l1.5-2.0l.5 .1l.5-1.2l.5-0.3l1.0-2.2l1.0-1.3l.5-1.6l1.0-1.0l1.0-3.3l.5 .1l2.0-4.2l3.5-10.6l1.0-2.1l4.5-18.3l2.5-7.7l2.5-14.3l3.0-12.0l1.0-2.6l4.1-18.8l4.0-14.2l4.5-7.4l.5 .4l.5-1.2l1.0-0.7l1.0-1.7l.5-0.1l.5 1.3l.5 .1l.5 1.1l1.0 .8l.5-0.0l1.0 1.7l3.0 7.4l3.5 13.2l6.0 28.0l2.0 7.2l2.0 10.8l2.5 10.9l2.5 13.7l2.0 6.3l2.0 7.3l.5 2.7l2.0 6.1l.5 .4l.5 1.8l1.0 1.4l1.0 2.6l2.0 7.6l1.5 3.5l1.0 .3l1.0 2.1l.5-0.1l1.0 2.0l1.5 1.6l1.0 .5l1.0 .0l1.0 2.2l1.5 2.1l.5 .4l.5-0.2l.5 .8l1.5 .6l1.5 .0l.5-0.4l1.0 1.3l.5 .0l1.0 1.9l.5-0.9l1.0 .2l.5-0.4l.5-1.7l.5 .8l1.5 1.0l.5 1.1l1.0 .1l.5-0.4l1.0 .4l.5-0.4l1.5 1.2l.5-1.1l.5 .5l1.0-1.0l.5-0.1l1.0 .9l1.5 .8l.5 .7l1.0-0.9l1.5 .7l.5-0.6l1.0 1.4l1.5-0.8l1.0-1.6l.5-0.2l1.0 .6l1.0-0.2l.5-0.5l.5 .2l.5-0.1l1.0 1.2l1.0-0.0l.5 .4l1.0-1.1l1.0 .4l.5-0.6l1.0 .8l1.0-0.7" stroke="#111" stroke-width="3.20" fill="none" stroke-linejoin="round" />
<path d="M78.0 552.3l93.5 1.2l28.6 .7l42.5 1.6l28.0 .4l38.5-0.0l15.5-0.3l9.5-0.9l3.5-0.8l3.0-1.1l3.0-1.6l2.5-1.8l2.5-2.4l2.0-2.4l2.5-3.7l2.0-3.7l4.0-9.2l4.0-12.2l4.0-14.9l12.0-53.9l4.6-17.7l2.5-7.6l2.0-4.6l2.5-3.5l1.0-0.7l1.0-0.3l1.0 .1l1.0 .6l2.0 2.5l2.0 4.0l2.5 7.1l4.5 17.3l10.5 48.8l5.0 20.7l3.0 10.5l3.0 8.8l3.0 7.1l3.0 5.7l3.0 4.3l3.5 3.7l4.0 2.8l4.5 1.8l5.0 1.2l6.0 .7l22.0 .6" stroke="#e8302a" stroke-width="2.00" fill="none" stroke-linejoin="round" />
<path d="M78.0 552.2l70.5 .6l16.0-0.2l6.0-0.5l5.0-1.0l4.1-1.5l4.0-2.4l3.5-3.1l3.5-4.3l3.5-5.9l3.0-6.4l3.0-7.6l3.5-10.4l11.5-40.2l4.5-13.9l2.5-6.0l2.5-4.3l2.5-2.5l2.0-0.5l2.0 .8l2.5 2.8l2.0 3.6l2.5 6.0l4.5 14.0l12.0 42.6l4.0 11.9l3.5 8.5l3.5 6.9l4.0 5.9l4.0 4.1l2.5 1.8l2.5 1.4l3.5 1.4l4.0 1.0l5.0 .7l6.5 .4l56.5 1.1l17.5 1.0l25.1 2.0l16.5 .9l22.0 .4l46.0 .3" stroke="#e8302a" stroke-width="2.00" fill="none" stroke-linejoin="round" />
<path d="M78.0 552.1l23.0-0.1l35.5-0.8l16.0 .0l18.0 .8l51.6 3.1l20.5 .8l18.5 .4l87.5 .7l21.5 1.1l20.6 1.6l21.0 1.2l22.5 .5l47.0 .2" stroke="#2a8f2a" stroke-width="1.80" fill="none" stroke-linejoin="round" />
<path d="M78.0 552.3l94.5 1.3l76.1 2.3l19.0-0.2l36.5-1.2l17.5-0.0l28.5 1.4l39.6 3.6l20.0 1.3l24.0 .6l47.5 .2" stroke="#2a8f2a" stroke-width="1.80" fill="none" stroke-linejoin="round" />
<path d="M78.0 552.3l37.5 .2l18.0-0.4l14.5-1.0l25.5-3.2l11.6-0.5l6.5 .4l7.0 .9l21.0 3.9l9.0 1.5l10.0 1.0l10.5 .7l19.0 .5l81.0 .7l21.0 1.0l20.6 1.7l21.0 1.2l22.5 .5l47.0 .2" stroke="#2424d8" stroke-width="1.80" fill="none" stroke-linejoin="round" />
<path d="M78.0 552.3l89.5 1.2l32.1 .8l47.5 1.8l34.5 .2l14.5-0.4l11.5-0.8l10.5-1.4l22.0-3.6l6.0-0.6l5.5-0.2l6.0 .4l6.0 .9l7.5 1.7l20.1 5.1l9.0 1.6l9.0 1.2l10.0 .6l12.5 .4l49.5 .4" stroke="#2424d8" stroke-width="1.80" fill="none" stroke-linejoin="round" />
<path d="M78.0 552.3l97.5 1.4l78.1 2.5l95.0 .8l21.5 1.1l20.6 1.6l21.0 1.2l22.5 .5l47.0 .2" stroke="#e030e0" stroke-width="2.20" fill="none" stroke-linejoin="round" />
<path d="M78.0 551.9l21.5-0.2l18.0-0.6l15.5-1.0l14.5-1.5l15.0-2.1l9.5-1.9l6.5-2.2l3.1-1.5l2.5-1.7l3.5-3.1l3.5-4.4l3.0-4.8l3.0-5.9l3.0-7.2l3.5-9.9l11.5-38.2l4.5-13.2l2.5-5.6l2.0-3.4l2.5-2.6l2.0-0.7l2.0 .7l2.0 1.9l2.0 3.2l2.0 4.3l2.5 6.7l2.5 7.9l11.0 39.5l5.5 17.1l3.0 7.6l3.5 7.3l3.5 5.6l3.5 4.0l4.0 3.2l5.0 2.3l5.5 1.2l7.0 .3l12.0-0.8l14.0-1.9l11.5-2.4l8.0-2.6l3.0-1.5l3.0-2.0l2.5-2.1l2.5-2.7l4.5-6.6l4.5-9.4l4.0-11.2l4.0-14.0l4.0-16.2l8.5-37.1l4.6-16.8l2.5-7.2l2.0-4.2l1.5-2.2l1.0-0.9l1.0-0.6l1.0-0.1l1.0 .3l1.0 .7l2.0 2.7l2.0 4.3l2.5 7.3l4.5 17.7l10.5 49.3l5.0 20.8l3.0 10.5l2.5 7.5l3.0 7.5l3.0 5.9l3.0 4.6l3.5 3.8l4.0 3.0l4.5 2.0l5.0 1.3l6.0 .7l22.5 .7" stroke="#7a3030" stroke-width="1.20" fill="none" stroke-linejoin="round" />
<g fill="#fff6f4" stroke="#8a4040" stroke-width="0.70"><circle cx="78.0" cy="551.9" r="1.4"/><circle cx="82.5" cy="551.9" r="1.4"/><circle cx="87.0" cy="551.9" r="1.4"/><circle cx="91.4" cy="551.8" r="1.4"/><circle cx="95.9" cy="551.8" r="1.4"/><circle cx="100.4" cy="551.7" r="1.4"/><circle cx="104.9" cy="551.6" r="1.4"/><circle cx="109.4" cy="551.4" r="1.4"/><circle cx="113.8" cy="551.2" r="1.4"/><circle cx="118.3" cy="551.0" r="1.4"/><circle cx="122.8" cy="550.8" r="1.4"/><circle cx="127.3" cy="550.5" r="1.4"/><circle cx="131.8" cy="550.2" r="1.4"/><circle cx="136.2" cy="549.8" r="1.4"/><circle cx="140.7" cy="549.4" r="1.4"/><circle cx="145.2" cy="548.9" r="1.4"/><circle cx="149.7" cy="548.4" r="1.4"/><circle cx="154.2" cy="547.8" r="1.4"/><circle cx="158.6" cy="547.1" r="1.4"/><circle cx="163.1" cy="546.4" r="1.4"/><circle cx="167.6" cy="545.6" r="1.4"/><circle cx="172.1" cy="544.6" r="1.4"/><circle cx="176.6" cy="543.2" r="1.4"/><circle cx="181.0" cy="541.2" r="1.4"/><circle cx="185.5" cy="538.0" r="1.4"/><circle cx="190.0" cy="533.2" r="1.4"/><circle cx="194.5" cy="526.2" r="1.4"/><circle cx="199.0" cy="516.5" r="1.4"/><circle cx="203.4" cy="504.3" r="1.4"/><circle cx="207.9" cy="489.9" r="1.4"/><circle cx="212.4" cy="474.6" r="1.4"/><circle cx="216.9" cy="460.0" r="1.4"/><circle cx="221.4" cy="448.3" r="1.4"/><circle cx="225.8" cy="441.5" r="1.4"/><circle cx="230.3" cy="440.7" r="1.4"/><circle cx="234.8" cy="446.4" r="1.4"/><circle cx="239.3" cy="457.6" r="1.4"/><circle cx="243.8" cy="472.5" r="1.4"/><circle cx="248.2" cy="488.9" r="1.4"/><circle cx="252.7" cy="504.9" r="1.4"/><circle cx="257.2" cy="519.0" r="1.4"/><circle cx="261.7" cy="530.5" r="1.4"/><circle cx="266.2" cy="539.1" r="1.4"/><circle cx="270.6" cy="545.1" r="1.4"/><circle cx="275.1" cy="548.9" r="1.4"/><circle cx="279.6" cy="551.2" r="1.4"/><circle cx="284.1" cy="552.4" r="1.4"/><circle cx="288.6" cy="552.9" r="1.4"/><circle cx="293.0" cy="553.0" r="1.4"/><circle cx="297.5" cy="552.8" r="1.4"/><circle cx="302.0" cy="552.5" r="1.4"/><circle cx="306.5" cy="552.0" r="1.4"/><circle cx="311.0" cy="551.5" r="1.4"/><circle cx="315.4" cy="550.9" r="1.4"/><circle cx="319.9" cy="550.1" r="1.4"/><circle cx="324.4" cy="549.3" r="1.4"/><circle cx="328.9" cy="548.4" r="1.4"/><circle cx="333.4" cy="547.2" r="1.4"/><circle cx="337.8" cy="545.6" r="1.4"/><circle cx="342.3" cy="543.4" r="1.4"/><circle cx="346.8" cy="540.0" r="1.4"/><circle cx="351.3" cy="534.9" r="1.4"/><circle cx="355.8" cy="527.4" r="1.4"/><circle cx="360.2" cy="516.8" r="1.4"/><circle cx="364.7" cy="502.9" r="1.4"/><circle cx="369.2" cy="485.7" r="1.4"/><circle cx="373.7" cy="466.3" r="1.4"/><circle cx="378.2" cy="446.6" r="1.4"/><circle cx="382.6" cy="429.1" r="1.4"/><circle cx="387.1" cy="416.3" r="1.4"/><circle cx="391.6" cy="410.6" r="1.4"/><circle cx="396.1" cy="413.2" r="1.4"/><circle cx="400.6" cy="423.9" r="1.4"/><circle cx="405.0" cy="440.8" r="1.4"/><circle cx="409.5" cy="461.3" r="1.4"/><circle cx="414.0" cy="482.8" r="1.4"/><circle cx="418.5" cy="502.9" r="1.4"/><circle cx="423.0" cy="520.1" r="1.4"/><circle cx="427.4" cy="533.7" r="1.4"/><circle cx="431.9" cy="543.6" r="1.4"/><circle cx="436.4" cy="550.5" r="1.4"/><circle cx="440.9" cy="554.9" r="1.4"/><circle cx="445.4" cy="557.5" r="1.4"/><circle cx="449.8" cy="559.1" r="1.4"/><circle cx="454.3" cy="559.9" r="1.4"/><circle cx="458.8" cy="560.4" r="1.4"/><circle cx="463.3" cy="560.7" r="1.4"/><circle cx="467.8" cy="560.8" r="1.4"/><circle cx="472.2" cy="560.9" r="1.4"/><circle cx="476.7" cy="561.0" r="1.4"/></g>
<line x1="80.8" y1="418.2" x2="109.4" y2="418.2" stroke="#111" stroke-width="2.2"/>
<text x="112.6" y="423.8" font-size="15.5" font-weight="bold" fill="#222">Sample</text>
<line x1="80.8" y1="437.9" x2="109.4" y2="437.9" stroke="#e8302a" stroke-width="2.2"/>
<text x="112.6" y="443.5" font-size="15.5" font-weight="bold" fill="#222">Au metal</text>
<line x1="80.8" y1="458.0" x2="109.4" y2="458.0" stroke="#2424d8" stroke-width="2.2"/>
<text x="112.6" y="463.6" font-size="15.5" font-weight="bold" fill="#222">AuO<tspan dy="7.0" font-size="12.4">x1</tspan></text>
<line x1="80.8" y1="482.8" x2="109.4" y2="482.8" stroke="#2a8f2a" stroke-width="2.2"/>
<text x="112.6" y="488.4" font-size="15.5" font-weight="bold" fill="#222">AuO<tspan dy="7.0" font-size="12.4">x2</tspan></text>
<line x1="80.8" y1="508.0" x2="109.4" y2="508.0" stroke="#e030e0" stroke-width="2.2"/>
<text x="112.6" y="513.6" font-size="15.5" font-weight="bold" fill="#222">Background</text>
<line x1="80.8" y1="527.3" x2="109.4" y2="527.3" stroke="#a06060" stroke-width="2.2"/>
<circle cx="95.1" cy="527.3" r="2.3" fill="#fbeaea" stroke="#b06868" stroke-width="1"/>
<text x="112.6" y="532.9" font-size="15.5" font-weight="bold" fill="#222">Total</text>
<text x="86.3" y="393.4" font-weight="bold" fill="#111"><tspan dy="0.0" font-size="20.5">Au</tspan><tspan dy="9.0" font-size="19.5">90</tspan><tspan dy="-9.0" font-size="20.5">Pd</tspan><tspan dy="9.0" font-size="19.5">10</tspan><tspan dy="-9.0" font-size="20.5">/C</tspan></text>
<text x="280.0" y="399.2" font-size="24.5" fill="#111" text-anchor="start" font-weight="bold" letter-spacing="0.9">Au 4f</text>
<text x="223.4" y="434.4" font-weight="bold" fill="#111"><tspan dy="0.0" font-size="19.5">4f</tspan><tspan dy="8.3" font-size="18.5">5/2</tspan></text>
<text x="387.0" y="403.2" font-weight="bold" fill="#111"><tspan dy="0.0" font-size="19.5">4f</tspan><tspan dy="10.0" font-size="18.5">7/2</tspan></text>
<text x="433.0" y="469.7" font-size="50.0" fill="#111" text-anchor="start" font-weight="bold" >d</text>
<path d="M472.7,510.9V541.3M466.4,510.9h12.6M466.4,541.3h12.6" stroke="#111" stroke-width="2.0" fill="none"/>
<text x="469.0" y="530.3" font-size="17.5" fill="#111" text-anchor="end" font-weight="bold" >500</text>
<text transform="translate(67.5,464.7) rotate(-90)" x="0" y="0" font-size="22.5" font-weight="bold" fill="#111" text-anchor="middle">Intensity / cps</text>
<text x="283.6" y="613.9" font-size="21.5" fill="#111" text-anchor="middle" font-weight="bold" >BE / eV</text>
<rect x="552.5" y="364.0" width="393.9" height="205.2" fill="none" stroke="#6f6f6f" stroke-width="1.3"/>
<path d="M937.6,569.2v-5.5M937.6,364.0v5.5M928.9,569.2v-5.5M928.9,364.0v5.5M920.1,569.2v-5.5M920.1,364.0v5.5M911.4,569.2v-5.5M911.4,364.0v5.5M902.6,569.2v-10.0M902.6,364.0v10.0M893.9,569.2v-5.5M893.9,364.0v5.5M885.1,569.2v-5.5M885.1,364.0v5.5M876.4,569.2v-5.5M876.4,364.0v5.5M867.6,569.2v-5.5M867.6,364.0v5.5M858.9,569.2v-10.0M858.9,364.0v10.0M850.1,569.2v-5.5M850.1,364.0v5.5M841.4,569.2v-5.5M841.4,364.0v5.5M832.6,569.2v-5.5M832.6,364.0v5.5M823.9,569.2v-5.5M823.9,364.0v5.5M815.1,569.2v-10.0M815.1,364.0v10.0M806.3,569.2v-5.5M806.3,364.0v5.5M797.6,569.2v-5.5M797.6,364.0v5.5M788.8,569.2v-5.5M788.8,364.0v5.5M780.1,569.2v-5.5M780.1,364.0v5.5M771.3,569.2v-10.0M771.3,364.0v10.0M762.6,569.2v-5.5M762.6,364.0v5.5M753.8,569.2v-5.5M753.8,364.0v5.5M745.1,569.2v-5.5M745.1,364.0v5.5M736.3,569.2v-5.5M736.3,364.0v5.5M727.6,569.2v-10.0M727.6,364.0v10.0M718.8,569.2v-5.5M718.8,364.0v5.5M710.1,569.2v-5.5M710.1,364.0v5.5M701.3,569.2v-5.5M701.3,364.0v5.5M692.6,569.2v-5.5M692.6,364.0v5.5M683.8,569.2v-10.0M683.8,364.0v10.0M675.0,569.2v-5.5M675.0,364.0v5.5M666.3,569.2v-5.5M666.3,364.0v5.5M657.5,569.2v-5.5M657.5,364.0v5.5M648.8,569.2v-5.5M648.8,364.0v5.5M640.0,569.2v-10.0M640.0,364.0v10.0M631.3,569.2v-5.5M631.3,364.0v5.5M622.5,569.2v-5.5M622.5,364.0v5.5M613.8,569.2v-5.5M613.8,364.0v5.5M605.0,569.2v-5.5M605.0,364.0v5.5M596.3,569.2v-10.0M596.3,364.0v10.0M587.5,569.2v-5.5M587.5,364.0v5.5M578.8,569.2v-5.5M578.8,364.0v5.5M570.0,569.2v-5.5M570.0,364.0v5.5M561.3,569.2v-5.5M561.3,364.0v5.5" stroke="#6f6f6f" stroke-width="1.3" fill="none"/>
<text x="946.4" y="595.6" font-size="16.5" fill="#111" text-anchor="middle" font-weight="bold" >82</text>
<text x="902.6" y="595.6" font-size="16.5" fill="#111" text-anchor="middle" font-weight="bold" >83</text>
<text x="858.9" y="595.6" font-size="16.5" fill="#111" text-anchor="middle" font-weight="bold" >84</text>
<text x="815.1" y="595.6" font-size="16.5" fill="#111" text-anchor="middle" font-weight="bold" >85</text>
<text x="771.3" y="595.6" font-size="16.5" fill="#111" text-anchor="middle" font-weight="bold" >86</text>
<text x="727.6" y="595.6" font-size="16.5" fill="#111" text-anchor="middle" font-weight="bold" >87</text>
<text x="683.8" y="595.6" font-size="16.5" fill="#111" text-anchor="middle" font-weight="bold" >88</text>
<text x="640.0" y="595.6" font-size="16.5" fill="#111" text-anchor="middle" font-weight="bold" >89</text>
<text x="596.3" y="595.6" font-size="16.5" fill="#111" text-anchor="middle" font-weight="bold" >90</text>
<text x="552.5" y="595.6" font-size="16.5" fill="#111" text-anchor="middle" font-weight="bold" >91</text>
<path d="M552.5 548.0l1.0 .6l.5-0.2l1.5 .3l1.0-0.3l.5 .3l1.0-1.2l.5 .4l.5-0.0l.5-0.8l.5-0.3l1.5 1.0l.5 .0l1.0 .9l.5-0.8l1.5-0.4l.5-0.8l.5 .6l1.0 .3l.5-0.3l.5 .3l1.0-0.9l1.0 .2l1.0 1.2l1.5-0.3l1.0-0.6l1.0-0.2l1.0 .6l.5-0.4l.5 .9l1.0-0.3l.5-0.7l.5 .9l.5-0.0l.5 1.2l1.0 .9l1.0-0.6l.5-0.9l.5 .2l1.0-0.7l1.0 .4l.5-0.6l1.5 .1l.5-0.5l.5 .4l1.5-1.5l.5 .6l.5-0.4l1.0 .1l.5 .5l1.0-1.1l.5 .6l1.0-0.4l1.0 .6l.5-0.3l.5 .9l2.0-1.2l.5-0.7l1.5 .9l2.1-0.4l.5 .1l.5 .9l.5 .3l.5-0.7l.5 .7l.5 .0l.5-1.1l1.0 .6l.5-0.9l1.5-0.9l1.5 .7l.5 .9l1.0-0.9l.5-0.1l1.0-1.7l.5 .3l1.0-0.2l1.0 .9l3.0 .7l1.0-0.4l1.0-1.5l1.0 .1l1.0 .4l.5-0.5l1.0 .3l.5-1.0l1.0 .8l1.0-2.0l1.0 .0l.5-0.4l.5 .5l1.0-0.1l.5-1.0l1.5 .8l1.5-0.6l1.5-1.6l.5 1.0l.5 .2l.5-0.2l1.0 1.4l.5-1.6l.5-0.6l1.0-0.0l.5-0.6l2.0 1.9l1.0-0.6l.5 .9l1.0-2.1l1.0 .5l.5-0.7l.5 .4l1.5-0.3l.5 .2l1.0-0.5l.5-0.6l.5 .3l1.0-1.9l1.0 .4l1.0-0.6l1.0 1.1l1.0-1.2l.5 .8l.5 .1l.5-0.2l1.0 .2l1.5-2.9l1.0-1.4l.5 .6l.5-0.5l1.0 .2l.5-0.5l2.0-4.4l1.0-3.1l.5 .4l1.0-2.6l.5-0.2l.5-0.7l1.5-2.8l3.0-6.8l4.5-16.4l3.5-11.0l4.0-19.0l4.5-17.8l1.5-7.2l4.5-13.9l2.5-4.6l2.0-1.4l.5 .6l.6-0.4l.5 .3l1.0 1.1l.5-0.1l1.5 2.6l1.0 3.5l2.5 3.7l1.0 3.1l1.5 5.3l2.5 14.2l3.5 12.2l5.0 25.2l3.0 8.6l3.5 12.7l3.5 10.7l2.5 4.9l1.0 .6l.5 .8l1.0 2.4l1.0 3.7l.5 .5l1.5 .7l1.5 2.4l1.0 .9l1.5 .3l1.0 1.0l1.5 2.5l1.5-0.1l.5 .4l1.0-0.4l1.0 .4l.5-0.8l.5 1.0l1.0-0.2l1.0 1.4l.5-0.3l1.0 .9l.5-0.6l.5-0.1l1.5 .7l1.0-0.4l1.0 .3l1.0-0.2l.5 .5l1.5-0.7l.5 .0l1.0-0.8l.5-0.9l.5 .9l1.0 .5l.5-0.5l.5 .6l.5-0.0l.5-0.7l.5-0.1l.5 .6l1.0-0.5l1.0 .6l.5-0.1l1.5 1.0l.5-0.0l1.5-1.5l.5-0.1l.5-0.5l.5 .6l1.0-0.5l.5-0.8l.5 .0l.5-0.5l1.0-0.0l.5 .9l1.0-0.7l.5 .5l1.0-0.3l1.0 .5l.5-0.4l.5 .7l.5-0.5l1.0-0.0l1.0-1.8l1.5 .2l.5 .7l.5 .0l2.0-1.9l2.0 .1l1.5 .6l1.0-1.4l.5-0.0l1.0 .2l1.0 1.5l.6-0.6l.5-0.2l1.5-2.0l.5 .2l.5-0.3l.5-1.4l1.0 .6l1.0-0.2l.5 1.0l2.5-1.4l.5 .7l1.5-1.8l.5 .4l.5-0.8l1.5 .5l.5-1.6l1.0-0.2l1.0-1.0l.5 .1l1.0-0.7l1.0 1.2l1.0 .3l5.0-8.9l.5-0.3l1.0-1.8l2.0-2.5l3.0-7.8l1.0-5.1l2.5-9.4l2.5-8.0l3.0-14.1l2.5-15.2l5.5-27.9l2.5-14.1l4.5-20.7l1.5-5.1l1.0-1.2l.5-1.5l1.5-2.2l.5-0.2l.5 .5l1.0-0.5l.5-0.8l1.0-0.8l1.0 1.1l2.0 6.7l2.0 4.7l1.5 5.4l1.0 6.1l1.0 3.9l.5 4.1l1.5 6.0l2.5 16.1l2.5 11.9l2.5 16.5l2.5 13.5l7.0 31.4l1.5 5.8l1.0 1.7l2.5 7.4l1.5 2.0l.5 1.6l.5 .4l1.6 5.2l1.5 2.4l1.0 .2l3.5 6.0l.5-0.7l.5-0.1l1.5 .5l2.5 2.8l1.0 .3l.5 .6l1.0-0.3l1.0 1.7l1.0-0.7l.5 .5l.5-0.4l1.5 .7l.5-0.3l.5 .6l1.0-0.3l.5 .3l1.0-0.6l.5 .3l.5 1.2l1.5 .3l1.0-1.0l1.0 .1l.5-0.3l1.0 .2l.5-0.3l2.5 1.7l2.0-1.0l.5 .3l.5-0.5l1.5 .6l.5-0.2l.5 1.1l1.0-0.9l.5-0.1l.5 .4l.5-0.1l1.5 .8l1.0-1.9l1.5-1.3l.5 .1l1.5 1.8l.5 .2l.5 1.0l.5 .2l.5-0.3l.5 .4l.5-0.3l.5-1.2l.5 .7" stroke="#111" stroke-width="3.20" fill="none" stroke-linejoin="round" />
<path d="M552.5 548.7l180.2 1.2l28.0-0.1l23.5-0.5l14.0-0.8l8.1-1.2l3.0-0.8l3.0-1.3l2.5-1.5l2.5-2.0l2.5-2.7l2.0-2.8l4.0-7.7l4.0-11.1l3.5-12.7l3.5-15.7l11.5-63.0l4.0-19.2l2.0-7.5l2.0-5.5l2.0-3.3l1.0-0.8l1.0-0.1l1.5 .9l2.0 3.4l1.5 4.1l2.0 7.2l4.0 19.1l9.5 54.3l5.0 25.0l3.0 12.2l2.5 8.5l2.5 7.1l3.0 6.6l3.1 5.0l3.5 4.0l3.5 2.7l4.5 2.2l5.0 1.3l6.5 .9l9.5 .6l14.0 .6" stroke="#e8302a" stroke-width="2.00" fill="none" stroke-linejoin="round" />
<path d="M552.5 548.5l57.6-0.2l28.5-0.8l7.0-0.7l5.0-1.2l4.5-1.8l3.5-2.4l3.5-3.6l3.5-5.2l3.0-5.9l3.0-7.6l3.0-9.2l3.5-12.9l10.5-45.4l4.0-15.0l2.0-5.9l2.0-4.3l2.0-2.7l1.0-0.6l1.1-0.1l1.0 .4l1.0 .8l2.0 3.1l2.0 4.7l2.0 6.2l3.5 13.5l11.0 47.7l3.5 12.6l3.5 10.5l3.5 8.1l4.0 6.8l4.0 4.5l4.5 3.2l3.5 1.5l3.5 1.0l9.5 1.3l15.5 .8l39.6 1.0l19.5 .9l6.5 .6l15.5 2.0l15.5 1.1l24.1 .8l47.5 .3" stroke="#e8302a" stroke-width="2.00" fill="none" stroke-linejoin="round" />
<path d="M552.5 548.7l28.5-0.0l16.5-0.7l13.6-1.4l24.5-4.0l6.0-0.5l5.5-0.1l5.5 .2l6.0 .8l20.5 3.7l9.0 1.4l9.0 .9l10.6 .7l29.0 .8l81.6 .7l22.0 1.0l19.0 2.3l20.0 1.3l21.6 .5l45.5 .2" stroke="#2424d8" stroke-width="1.80" fill="none" stroke-linejoin="round" />
<path d="M552.5 548.8l193.2 1.5l10.5-0.4l9.5-0.7l9.5-1.1l21.5-3.4l6.6-0.6l5.5-0.1l6.5 .5l7.0 1.0l17.5 3.6l16.5 4.0l14.5 1.9l10.0 .7l15.0 .4l50.6 .4" stroke="#2424d8" stroke-width="1.80" fill="none" stroke-linejoin="round" />
<path d="M552.5 548.8l79.1 .5l107.1 1.3l73.1 .5l28.0 1.1l19.5 2.3l20.0 1.3l21.6 .5l45.5 .2" stroke="#e030e0" stroke-width="2.20" fill="none" stroke-linejoin="round" />
<path d="M552.5 548.3l34.0-0.5l11.0-0.6l9.6-1.1l8.5-1.4l34.5-6.6l5.5-1.8l4.5-2.9l3.5-3.7l3.0-4.4l3.0-6.0l3.0-7.6l3.0-9.2l3.0-10.9l10.0-42.0l3.5-13.1l2.0-6.0l2.0-4.6l2.0-3.0l1.0-0.7l1.0-0.4l1.1 .2l1.0 .7l2.0 2.7l2.0 4.4l2.0 5.9l4.0 15.2l10.5 45.8l3.0 11.2l3.0 9.6l2.5 6.8l3.0 6.5l3.0 5.0l3.0 3.7l2.0 1.9l2.5 1.8l5.0 2.2l6.0 1.1l7.5 .1l10.5-0.9l12.5-2.0l19.6-3.9l4.0-1.1l3.5-1.5l2.5-1.5l2.5-2.0l2.5-2.7l2.0-2.8l4.0-7.8l3.5-9.7l3.5-12.6l3.5-15.4l11.0-59.0l3.5-16.6l2.0-7.7l2.0-5.9l2.0-3.7l1.0-1.0l1.0-0.4l1.5 .6l2.0 2.9l2.0 5.3l2.0 7.3l4.0 19.2l9.5 54.5l4.5 22.8l3.0 12.6l2.5 8.9l3.0 8.6l3.0 6.6l3.1 5.0l3.5 4.1l3.5 2.7l4.5 2.2l5.0 1.3l6.5 .9l9.5 .7l14.0 .5" stroke="#7a3030" stroke-width="1.20" fill="none" stroke-linejoin="round" />
<g fill="#fff6f4" stroke="#8a4040" stroke-width="0.70"><circle cx="552.5" cy="548.3" r="1.4"/><circle cx="556.9" cy="548.3" r="1.4"/><circle cx="561.3" cy="548.3" r="1.4"/><circle cx="565.6" cy="548.2" r="1.4"/><circle cx="570.0" cy="548.2" r="1.4"/><circle cx="574.4" cy="548.1" r="1.4"/><circle cx="578.8" cy="548.1" r="1.4"/><circle cx="583.1" cy="548.0" r="1.4"/><circle cx="587.5" cy="547.8" r="1.4"/><circle cx="591.9" cy="547.6" r="1.4"/><circle cx="596.3" cy="547.3" r="1.4"/><circle cx="600.6" cy="546.9" r="1.4"/><circle cx="605.0" cy="546.4" r="1.4"/><circle cx="609.4" cy="545.8" r="1.4"/><circle cx="613.8" cy="545.1" r="1.4"/><circle cx="618.1" cy="544.2" r="1.4"/><circle cx="622.5" cy="543.4" r="1.4"/><circle cx="626.9" cy="542.4" r="1.4"/><circle cx="631.3" cy="541.6" r="1.4"/><circle cx="635.7" cy="540.7" r="1.4"/><circle cx="640.0" cy="540.0" r="1.4"/><circle cx="644.4" cy="539.2" r="1.4"/><circle cx="648.8" cy="538.4" r="1.4"/><circle cx="653.2" cy="537.2" r="1.4"/><circle cx="657.5" cy="535.2" r="1.4"/><circle cx="661.9" cy="531.7" r="1.4"/><circle cx="666.3" cy="525.8" r="1.4"/><circle cx="670.7" cy="516.9" r="1.4"/><circle cx="675.0" cy="504.4" r="1.4"/><circle cx="679.4" cy="488.5" r="1.4"/><circle cx="683.8" cy="470.2" r="1.4"/><circle cx="688.2" cy="451.4" r="1.4"/><circle cx="692.6" cy="435.2" r="1.4"/><circle cx="696.9" cy="424.5" r="1.4"/><circle cx="701.3" cy="422.1" r="1.4"/><circle cx="705.7" cy="428.6" r="1.4"/><circle cx="710.1" cy="442.5" r="1.4"/><circle cx="714.4" cy="460.8" r="1.4"/><circle cx="718.8" cy="480.4" r="1.4"/><circle cx="723.2" cy="498.7" r="1.4"/><circle cx="727.6" cy="514.2" r="1.4"/><circle cx="731.9" cy="526.1" r="1.4"/><circle cx="736.3" cy="534.5" r="1.4"/><circle cx="740.7" cy="540.0" r="1.4"/><circle cx="745.1" cy="543.4" r="1.4"/><circle cx="749.4" cy="545.3" r="1.4"/><circle cx="753.8" cy="546.3" r="1.4"/><circle cx="758.2" cy="546.6" r="1.4"/><circle cx="762.6" cy="546.7" r="1.4"/><circle cx="767.0" cy="546.4" r="1.4"/><circle cx="771.3" cy="546.0" r="1.4"/><circle cx="775.7" cy="545.5" r="1.4"/><circle cx="780.1" cy="544.8" r="1.4"/><circle cx="784.5" cy="544.0" r="1.4"/><circle cx="788.8" cy="543.2" r="1.4"/><circle cx="793.2" cy="542.3" r="1.4"/><circle cx="797.6" cy="541.5" r="1.4"/><circle cx="802.0" cy="540.6" r="1.4"/><circle cx="806.3" cy="539.7" r="1.4"/><circle cx="810.7" cy="538.3" r="1.4"/><circle cx="815.1" cy="536.2" r="1.4"/><circle cx="819.5" cy="532.5" r="1.4"/><circle cx="823.9" cy="526.4" r="1.4"/><circle cx="828.2" cy="516.7" r="1.4"/><circle cx="832.6" cy="502.7" r="1.4"/><circle cx="837.0" cy="484.1" r="1.4"/><circle cx="841.4" cy="461.7" r="1.4"/><circle cx="845.7" cy="437.5" r="1.4"/><circle cx="850.1" cy="414.7" r="1.4"/><circle cx="854.5" cy="397.2" r="1.4"/><circle cx="858.9" cy="388.8" r="1.4"/><circle cx="863.2" cy="391.8" r="1.4"/><circle cx="867.6" cy="405.7" r="1.4"/><circle cx="872.0" cy="427.4" r="1.4"/><circle cx="876.4" cy="452.6" r="1.4"/><circle cx="880.7" cy="477.8" r="1.4"/><circle cx="885.1" cy="500.0" r="1.4"/><circle cx="889.5" cy="517.9" r="1.4"/><circle cx="893.9" cy="531.2" r="1.4"/><circle cx="898.3" cy="540.2" r="1.4"/><circle cx="902.6" cy="546.1" r="1.4"/><circle cx="907.0" cy="549.6" r="1.4"/><circle cx="911.4" cy="551.7" r="1.4"/><circle cx="915.8" cy="552.9" r="1.4"/><circle cx="920.1" cy="553.6" r="1.4"/><circle cx="924.5" cy="554.0" r="1.4"/><circle cx="928.9" cy="554.4" r="1.4"/><circle cx="933.3" cy="554.6" r="1.4"/><circle cx="937.6" cy="554.8" r="1.4"/><circle cx="942.0" cy="555.0" r="1.4"/></g>
<line x1="554.3" y1="432.2" x2="581.7" y2="432.2" stroke="#111" stroke-width="2.2"/>
<text x="583.9" y="437.6" font-size="15.0" font-weight="bold" fill="#222">Sample</text>
<line x1="554.3" y1="451.1" x2="581.7" y2="451.1" stroke="#e8302a" stroke-width="2.2"/>
<text x="583.9" y="456.5" font-size="15.0" font-weight="bold" fill="#222">Au metal</text>
<line x1="554.3" y1="469.9" x2="581.7" y2="469.9" stroke="#2424d8" stroke-width="2.2"/>
<text x="583.9" y="475.3" font-size="15.0" font-weight="bold" fill="#222">AuO<tspan dy="6.8" font-size="12.0">x</tspan></text>
<line x1="554.3" y1="494.0" x2="581.7" y2="494.0" stroke="#e030e0" stroke-width="2.2"/>
<text x="583.9" y="499.4" font-size="15.0" font-weight="bold" fill="#222">Background</text>
<line x1="554.3" y1="512.6" x2="581.7" y2="512.6" stroke="#a06060" stroke-width="2.2"/>
<circle cx="568.0" cy="512.6" r="2.3" fill="#fbeaea" stroke="#b06868" stroke-width="1"/>
<text x="583.9" y="518.0" font-size="15.0" font-weight="bold" fill="#222">Total</text>
<text x="557.5" y="390.8" font-weight="bold" fill="#111"><tspan dy="0.0" font-size="19.5">Au</tspan><tspan dy="8.2" font-size="18.5">80</tspan><tspan dy="-8.2" font-size="19.5">Pt</tspan><tspan dy="8.2" font-size="18.5">20</tspan><tspan dy="-8.2" font-size="19.5">/C</tspan></text>
<text x="749.5" y="399.2" font-size="27.5" fill="#111" text-anchor="start" font-weight="bold" letter-spacing="1.0">Au 4f</text>
<text x="691.0" y="413.8" font-weight="bold" fill="#111"><tspan dy="0.0" font-size="19.5">4f</tspan><tspan dy="8.1" font-size="18.5">5/2</tspan></text>
<text x="865.0" y="390.1" font-weight="bold" fill="#111"><tspan dy="0.0" font-size="19.5">4f</tspan><tspan dy="8.8" font-size="18.5">7/2</tspan></text>
<text x="902.0" y="460.3" font-size="52.0" fill="#111" text-anchor="start" font-weight="bold" >f</text>
<path d="M939.6,494.0V537.2M933.1,494.0h13.0M933.1,537.2h13.0" stroke="#111" stroke-width="2.0" fill="none"/>
<text x="934.0" y="518.8" font-size="17.5" fill="#111" text-anchor="end" font-weight="bold" >1000</text>
<text transform="translate(541.5,465.0) rotate(-90)" x="0" y="0" font-size="22.5" font-weight="bold" fill="#111" text-anchor="middle">Intensity / cps</text>
<text x="749.7" y="614.6" font-size="21.8" fill="#111" text-anchor="middle" font-weight="bold" >BE / eV</text>
<rect x="78.8" y="633.3" width="401.5" height="237.3" fill="none" stroke="#6f6f6f" stroke-width="1.3"/>
<path d="M467.8,870.6v-5.0M467.8,633.3v5.0M455.2,870.6v-9.4M455.2,633.3v9.4M442.7,870.6v-5.0M442.7,633.3v5.0M430.1,870.6v-5.0M430.1,633.3v5.0M417.6,870.6v-5.0M417.6,633.3v5.0M405.0,870.6v-5.0M405.0,633.3v5.0M392.5,870.6v-9.4M392.5,633.3v9.4M379.9,870.6v-5.0M379.9,633.3v5.0M367.4,870.6v-5.0M367.4,633.3v5.0M354.8,870.6v-5.0M354.8,633.3v5.0M342.3,870.6v-5.0M342.3,633.3v5.0M329.7,870.6v-9.4M329.7,633.3v9.4M317.2,870.6v-5.0M317.2,633.3v5.0M304.6,870.6v-5.0M304.6,633.3v5.0M292.1,870.6v-5.0M292.1,633.3v5.0M279.6,870.6v-5.0M279.6,633.3v5.0M267.0,870.6v-9.4M267.0,633.3v9.4M254.5,870.6v-5.0M254.5,633.3v5.0M241.9,870.6v-5.0M241.9,633.3v5.0M229.4,870.6v-5.0M229.4,633.3v5.0M216.8,870.6v-5.0M216.8,633.3v5.0M204.3,870.6v-9.4M204.3,633.3v9.4M191.7,870.6v-5.0M191.7,633.3v5.0M179.2,870.6v-5.0M179.2,633.3v5.0M166.6,870.6v-5.0M166.6,633.3v5.0M154.1,870.6v-5.0M154.1,633.3v5.0M141.5,870.6v-9.4M141.5,633.3v9.4M129.0,870.6v-5.0M129.0,633.3v5.0M116.4,870.6v-5.0M116.4,633.3v5.0M103.9,870.6v-5.0M103.9,633.3v5.0M91.3,870.6v-5.0M91.3,633.3v5.0" stroke="#6f6f6f" stroke-width="1.3" fill="none"/>
<text x="455.2" y="898.4" font-size="21.0" fill="#111" text-anchor="middle" font-weight="bold" >330</text>
<text x="392.5" y="898.4" font-size="21.0" fill="#111" text-anchor="middle" font-weight="bold" >335</text>
<text x="329.7" y="898.4" font-size="21.0" fill="#111" text-anchor="middle" font-weight="bold" >340</text>
<text x="267.0" y="898.4" font-size="21.0" fill="#111" text-anchor="middle" font-weight="bold" >345</text>
<text x="204.3" y="898.4" font-size="21.0" fill="#111" text-anchor="middle" font-weight="bold" >350</text>
<text x="141.5" y="898.4" font-size="21.0" fill="#111" text-anchor="middle" font-weight="bold" >355</text>
<text x="78.8" y="898.4" font-size="21.0" fill="#111" text-anchor="middle" font-weight="bold" >360</text>
<path d="M78.8 825.8l.5-3.4l.2 6.7l.6 2.2l.2-1.9l.3-0.1l.7-7.1l.2 .3l1.1 10.1l.2-2.2l.2 .1l.8-8.3l.3 2.1l.5-4.5l.2 .1l.2 1.2l.3 5.1l.2 .0l.3 2.0l.3-1.7l.2 .8l.3-0.8l.2 1.5l.7-5.7l.3 2.0l.3 .4l.2-0.3l.3 2.3l.2-0.7l.2 1.3l.3-2.8l.2 3.6l.3-0.1l.3 .5l.5-5.1l.2 .1l.5 3.7l1.0-8.7l.5 5.4l1.3 3.9l.2-2.3l.3 .2l.2-5.7l.2 2.8l.3-0.9l.2 2.2l.6-3.1l.2 .2l.3 2.0l.2-1.5l.2 1.6l.3-2.0l.2 1.0l.3-1.6l.3 3.9l.2-2.1l.5-0.2l.2 1.4l.5-3.1l.6 4.1l.2-2.1l.3 .8l.2-0.3l.2 3.3l.3-2.3l.2 1.2l.8-8.2l.7 6.1l.6 1.6l.2-1.3l.3 2.2l.7-11.0l.2 1.6l.6-2.1l.5 1.0l.7 12.4l.8-8.5l.2 1.1l.3-1.4l.2 2.5l.2-1.0l.8 6.1l.8-10.7l.4 5.4l.3-0.3l.5 2.1l.5 .7l.3-3.2l.2 2.0l.2-0.7l.3 3.3l.2-2.5l.3 1.9l.5-2.0l1.0-5.7l.2 .9l.3-0.8l.3 4.2l.2-1.6l.3 1.1l.4 .5l.3 1.7l.2-3.2l.3 .7l.5-7.8l.3 .2l.2 3.1l.2-1.2l.3 .2l.2-2.0l.3 5.1l.5-0.4l.3-2.4l.2-0.4l.5 9.4l.2 .4l.6-6.3l.2-0.7l.3 .8l.4-0.6l.5-3.1l.8 5.0l.5-0.6l.2 .2l.3-3.7l.2 2.1l.3 .1l.3 1.3l.5-4.0l.4 3.5l.8-2.8l.5-4.7l.5-1.3l.2 .8l.3-1.4l.2 3.7l.8-7.9l.7 13.0l.3 .2l.5-2.0l.3-5.6l.5-3.8l.2 2.2l.2-2.9l.5 3.6l.8-2.8l.3 .5l.9-7.8l.8 9.0l.5-5.0l.2-0.6l.3 3.0l.5-2.7l.8 2.9l.4-4.9l.5 5.9l.3 .2l.3-5.1l.2 1.0l.5 7.3l.7-12.3l.3-0.7l.5 5.0l.5-2.9l.5 .3l.2 1.0l.3-0.7l.8 4.3l.7-9.2l.2 3.4l.3-1.5l.7 4.5l.8-8.0l.5 4.0l.7-5.3l.5 5.3l.3-0.2l.2 1.2l.3-4.7l.7 5.5l1.0-13.6l.8 8.8l.2-0.5l.5 1.8l.3-0.3l.5-6.3l.7 6.5l.3-0.1l.2 .6l.5-7.3l.3 2.3l.7-4.2l.8 2.4l.2 .4l.3-0.3l.7 6.7l.5-9.0l.8 3.1l.7-8.2l.5 6.3l.6-3.2l.5 8.8l.2-5.7l.5-2.7l.2 5.8l.8-7.1l.3-0.2l.4 5.8l.5 .6l.8-5.3l.7 5.5l.5-1.3l1.1-6.8l.4 7.2l.5-0.8l.3 .2l.3 2.1l.2-1.0l.5 3.5l.2-0.1l1.1-11.2l.7 6.5l.5-3.1l.5 4.5l.3-0.4l.2 .4l.3-1.0l.2 .4l.5-2.8l.8 13.9l.5-10.5l.4 .5l.5-3.3l.3 1.3l.3-0.4l.9 6.2l.8-4.9l.5 9.0l.3-0.4l.4-7.3l.8 9.6l.5-7.4l.5-3.4l.2 3.3l.8 2.3l.5 3.9l.5-1.2l.2-3.2l.5-1.3l.3 2.9l.3 .8l.2-0.0l.3 2.9l.2-0.5l.2 1.5l.3-1.3l.2 .2l.8 3.6l.7-6.7l.3 1.4l.8-3.4l.2 2.2l.3 .1l.7 9.2l.8-6.7l.4 9.2l.5-1.9l.3 1.0l.2-0.5l.6-2.4l.2 3.2l.2-1.2l.5 1.3l.3 3.1l.5-6.3l.7 6.3l.3-2.6l.2 2.0l.3-1.6l.2 2.2l.6-2.9l.2 1.1l.2-2.5l.3 .6l.2-2.2l.3-0.0l.5-2.0l1.5 14.1l.2-3.3l.3 .7l.5-11.6l.7 7.8l.8 1.5l.5-6.2l.2 .5l.5 6.6l.8-2.9l.7 6.5l.8-6.8l.2 .0l.8 1.6l.5-2.6l1.0 11.4l.5-4.6l.2 2.4l.5-2.3l.3-5.5l.8 1.7l.4-2.2l.3 1.9l.2-1.3l.3 6.2l.2-4.9l.3 .6l.3-3.8l.4 7.4l.3 .5l.2-0.3l.8 1.7l.5-1.5l.2 1.1l.3-0.0l1.0 4.7l.3-3.4l.2-0.1l.2-1.1l.8 3.1l1.0-6.5l1.0 6.2l.2-1.4l.3 2.1l.5-0.3l.5-9.5l.5 6.4l.2-0.3l.3 .3l.3-1.3l.2 .8l.2-0.4l.5 1.5l1.1-4.1l.4 3.7l.3 .6l.2 .0l.3-4.2l.2-0.5l.8 7.0l1.2-6.5l.3 2.6l.3-2.9l.2 4.3l.2-1.6l.5 2.3l.3-1.0l.3 .2l.2-2.3l.7 4.8l.5-2.4l.3 .6l.3-0.8l.2 .9l.2-0.7l.5-4.0l.3 .0l.5 6.4l.3-4.5l.2 .4l.3-0.2l.4 5.3l.3-1.8l.2-0.3l.3 .2l.7-6.7l.5 6.5l.3-0.3l.2 .8l.3-0.9l.2 .3l.3-0.6l.5-2.2l.2-0.0l.5 2.6l.3-1.0l.5 3.5l.7-7.1l.8 7.3l.2-0.5l.3 .6l.2-3.4l.5-0.9l.5 3.8l.3-0.3l.3 1.1l.9-7.9l.3 4.4l.2-1.2l.3 .9l.7-4.1l.8 6.1l.2-0.4l.3 1.1l.5-3.4l.5 1.2l.5-3.0l.8 6.3l.7-7.6l.2 .4l.3-2.8l.2 5.2l.6 3.7l.2-3.9l.2 .7l.3-1.2l.2 1.6l.8-0.8l.3-5.4l.2 1.5l.2-3.8l1.0 11.7l.8-7.6l.2 6.3l.5 2.2l.5-2.3l.3 1.1l.3-1.1l.2 3.6l.2-1.2l.3 3.6l.2-3.7l.3 1.7l.2-1.4l.6 4.0l.7-4.9l.2 2.9l.3-2.9l.2 .1l.3-3.0l.3-0.2l.4-3.3l.3 3.8l.2-1.2l.3 2.7l.2-2.8l.3 2.8l.3-4.8l.4-1.4l.3 1.3l.5-1.6l.5 5.6l.7-1.8l.5 3.0l.3-1.5l.2 .2l.3-0.8l.3 2.6l.2-0.6l.2 1.2l.5 4.3l.5-3.9l.3-5.7l.3 1.9l.2-1.1l.2 4.5l.3-3.1l.7 3.5l.3-4.9l1.0-5.7l.2 5.5l.6 .6l.2-3.7l.3 4.1l.4-3.3l.3-0.2l.5 5.9l.5-4.3l.3-0.6l.2 2.2l.7-6.7l.6 1.6l.4 6.7l.3-0.2l.5-6.0l.2 .6l.6 8.3l.5-8.9l.4 4.6l.5-2.3l.3 .5l.2 4.5l1.5-11.0l.8 10.5l.7-12.0l.5 7.1l.6 .2l.4-7.0l.3-0.2l.5 2.8l.2-3.9l.3 3.3l.2-1.3l.3 3.9l.2-4.0l.8 7.5l.2 .8l.3-0.8l.3 .5l.2 2.1l.2-4.0l.3 1.4l.2-2.3l.3 .7l.2-1.3l.8 3.0l.7-8.5l.8 8.9l.5-3.9l.2 1.9l.3 .2l.5-2.3l.8 5.0l.4-2.7l.3-6.3l.5 3.0l.2 4.3l.3-1.2l.7 4.6l1.0-7.3l.8 4.9l.2-0.4l.8-7.9l1.2 7.4l.8-5.0l.2 2.9l.6-3.1l.2 .4l.5 4.0l.7-6.5l.8 4.6l.2-0.5l.3 1.1l.2-2.3l.3 .2l1.0-9.2l.7 8.5l.5-1.9l.6-4.2l.2-0.0l.2-2.6l.3 1.9l.2-1.2l.3 .7l.8 10.2l.7-11.8l.5-3.9l.2 1.1l.3-1.3l.3 .3l.4-4.8l.5 3.7l.3-1.7l.5 .1l.3 6.0l.4 .6l.8-10.4l.2-0.9l.6 .2l.2 3.1l.2-1.7l.3 .1l.5-8.4l.5-1.2l.2 2.6l.3-3.8l.2-1.5l.3 .1l.2-2.5l.3-0.2l.2-3.3l.3 3.1l.3-1.9l.2 2.1l.7-7.1l.3-0.6l.2 2.9l1.0-5.2l.3 3.0l.2-0.8l.3 3.1l.2-0.2l.3 1.0l.3-1.6l.2 1.2l.7 9.2l.3-1.2l.2 1.1l.3-5.1l.2 3.4l.3 .2l.2 8.9l.3-1.1l.2 .9l.3-1.1l1.7 24.2l.3 .6l.2-6.3l.3-0.2l.7 6.2l.3-4.9l.2-0.3l.3-2.8l.3 5.2l.4 .6l.3 1.9l.2-0.9l.3 2.7l.2-0.5l.3 2.2l.5-4.3l.2-0.4l.3 .3l.5 1.9l.2 6.8l.6 2.4l.2-4.4l.5 2.4l.5-5.1l.2 1.0l.3-0.1l.3 1.7l.2-0.8l.2 .2l.3 1.7l.7-5.7l.3 3.9l.3-2.9l.2-0.2l.2-5.2l.3 1.1l.2-2.1l.3-0.0l.5 7.7l.3 .1l.4-7.8l.5 5.5l.3-3.0l.5-1.8l.3 4.5l.4-3.1l.8 1.7l.8-10.2l.2 4.8l.5 1.8l.2-1.3l.3-0.0l.5 1.5l.3 2.1l.7-5.4l.5 7.2l.5-2.7l.3-5.8l.4-3.7l.3 3.2l.2-0.3l.3 .3l.2 1.4l.3-1.2l.5-8.3l.2 4.4l.3 .2l.2 2.4l.3-3.8l.2 1.4l.3-0.3l.3 1.6l.2 .1l.2 3.0l.8-5.7l.2-0.3l.6 3.7l.2-0.7l.2 2.4l.3-3.7l.2 1.4l.3-9.0l.5-0.4l.3 3.6l.2 .7l.2-0.5l.3 .7l.8-5.5l.5 4.5l1.2-6.9l.8-0.4l.2-1.5l.5 4.9l.8-7.3l.4 5.5l.5-6.5l.3-1.2l.2-0.1l.6-4.1l.2 5.3l.5 2.6l.2-3.7l.5-0.7l.6-3.2l.2-0.9l.5 2.6l.2-1.6l.3 .5l.8-5.4l.5 4.2l.2-3.4l.2 .4l.3-0.1l.2 1.8l.6-2.9l.2 2.7l.7-4.8l.3 1.8l.8-7.5l.4-2.3l.8 6.0l.8-5.1l.2-4.3l.2 2.9l.3-2.1l.2 5.2l.8-10.7l.3 1.3l.4-3.7l.5 1.4l.5 4.5l.6-4.6l.2-0.4l.2 3.8l.5-5.3l.3 .4l.8-4.5l.2 2.0l.7-6.7l.3 1.2l.2-0.2l.3 1.9l.3-4.7l.4-1.9l.3 2.4l.2-5.8l.8-5.9l.5-11.6l.7 3.4l.5-3.7l.3 3.6l.7-9.9l.3 4.3l.2-0.4l.8-7.2l.5-0.9l.2 .2l.3-0.5l.2-1.2l.8 8.8l.3-1.2l.2 .2l1.0 4.6l.8 14.2l.2-0.5l1.0 6.0l.8 16.4l1.2 15.1l.5 .4l.5 2.5l1.2 8.9l.3 .3l.3-2.8l.4 1.3l1.0 8.4l.6-2.4l.4 3.0l.3-2.1l.2 .5l.3-1.6l1.0 8.8l.2-0.2l.3 .8l.2-3.1l.3 .3l.2-0.5l.6 2.4l.2-3.2l.5 3.8l.2 .9l.3-0.4l.2 1.1l.6 6.7l.4-3.0l.8 8.6l.2-2.7l.3 1.5l.2-0.8l.3 2.2l.2-3.0l.3 3.3l.2-0.1l.3 2.2l.5-5.8l.7 7.4l.8-3.3l.5 4.9l.5 2.0l.2 4.7l.3-1.1l.2 .7l.3-0.8l.2 3.0l.6 1.3l.7-3.7l.2 2.9l.3-0.9l.7 8.0l.3-3.1l.2-0.3l.3-2.1l.2 .3l.3-3.1l1.2 14.2l.3-1.7l.5 1.8l.7-5.2l1.0 10.0l.3-0.6l1.0 3.6l.2-0.1l.3 .3l.8-8.7l.4 5.4l.5-4.4l.3 .5l.2 5.6l.3-3.6l.3 2.6l.4-1.4l.5-4.3l.3 5.4l.5 3.7l.3-0.1l.2-1.2l.2 2.0l.5 .4l.5-2.4l.3 .9l.5-3.9l.7-2.3l.8 8.4l.5-4.3l.7 6.6l.3-2.0l.2 2.4l.3-2.1l.7-2.8l.3 2.8l.2-1.2l.5 3.0l.3 4.0l1.0-6.2l.2 2.7l.3-0.8l.2 2.9l.6-8.3l.9 9.9l1.3-10.6l.2 .2l.5 7.5l.5-4.8l.3 2.0l.3 .2l.4 6.8l.5 .9l.3-2.7l.2 .1l1.0-2.6l.3-3.2l.2 .3l.5 5.9l.3-2.1l.3 .7l.2-3.3l.2 1.3l.3-6.6l.8 9.9l.2-3.1l.5 1.2l.5-6.0l.2-0.1l.3 5.4l.2-0.3l.3 1.5l.2-1.4l.3 3.9l.2-1.2l.3-0.0l.5-7.0l.2 1.0l.3-1.4l.7 4.8l.3 .0l.2-2.5l.3 .1l.2 5.7l.3 .9l.7-5.9l.5 .5l.6 3.7l.5-3.9l.7 10.3l.5-8.7l.2-2.0l.3 4.7l.2-1.5l.3-0.1l.2-6.5l.3 1.6l.2-0.1l.3 4.4l.5 3.0l.5-4.1l.2 2.5l.3 .3l.5-5.3l.5 .8l.2-1.4l.3 1.6l.2 .1l.3 2.5l.2-1.4l.3 .7l.3-0.0l.2-4.7l.2 .6l.3-0.1l1.3 12.8l.9-8.0l.8 6.3l.3-1.8l.2 1.0l.2-4.3l.3 1.2l.2-4.0l.3 3.3l.2-1.9l.3 4.0l.3-5.5l.2 4.1l.2-2.3l.3 4.1l1.0-8.9l.3 2.7l.2-1.6l.5 .2l.5 7.0l.5-2.6l.5 4.9l.7-8.4l.3 3.4l.2-0.2l.6-4.8l.2 .6l.2 4.2l.3-2.2l.2 3.0l.5-1.1l.3-3.3l.5 7.6" stroke="#111" stroke-width="2.80" fill="none" stroke-linejoin="round" />
<path d="M78.8 825.3l12.0-0.8l9.5-1.2l8.0-1.9l7.5-2.6l6.5-3.2l6.5-4.1l6.0-4.4l13.0-10.3l6.0-4.2l3.5-1.9l3.0-1.2l3.0-0.8l3.0-0.4l2.5 .2l2.5 .6l2.5 1.1l3.0 1.7l5.0 3.8l13.5 11.4l8.0 5.4l7.0 3.2l8.0 2.2l8.0 1.0l11.0 .5l39.5-0.1l48.0 1.1l6.0-0.2l5.0-0.5l4.5-0.9l4.0-1.3l4.0-2.0l3.5-2.5l3.5-3.2l3.5-3.9l10.0-13.5l3.0-3.6l2.0-1.8l2.0-1.4l2.0-0.7l1.5-0.2l2.0 .5l1.5 1.0l1.5 1.4l2.0 2.6l4.0 7.0l10.5 22.1l5.0 9.2l3.5 5.4l3.0 3.9l3.5 3.6l3.5 2.9l4.0 2.4l4.5 2.0l5.0 1.6l6.0 1.2l8.0 1.1l10.5 .9l23.0 1.1" stroke="#e8302a" stroke-width="2.60" fill="none" stroke-linejoin="round" />
<path d="M78.8 826.2l61.5-1.6l64.0-3.2l29.0-0.7l33.5-0.3l13.0-1.9l14.0-0.9l4.5-0.5l5.5-1.5l3.5-1.8l4.0-2.9l3.0-3.3l2.0-3.2l1.5-3.3l1.0-2.9l3.0-12.0l2.0-4.6l.5-0.7l.5-0.1l1.0 1.9l1.5 5.4l2.0 11.8l2.0 14.6l1.5 4.7l1.5 2.7l2.5 1.6l2.0 .6l10.0-0.8l13.0 .4l4.5-0.4l5.5-1.2l4.0-2.1l3.0-2.9l3.0-5.0l2.0-5.2l1.5-5.7l3.5-22.7l2.0-7.7l.5-1.2l.5-0.4l.5 .9l.5 2.1l2.0 14.1l3.5 42.8l.5 3.6l1.5 7.7l1.0 3.2l2.0 3.8l2.0 2.6l1.5 1.0l7.0 1.6l14.5 1.6l23.5 1.1l28.5 .5" stroke="#2424d8" stroke-width="2.20" fill="none" stroke-linejoin="round" />
<path d="M78.8 826.2l58.0-1.4l62.0-3.2l30.5-0.8l43.5-0.4l15.0 .5l20.0 1.1l13.0 1.3l16.0 2.1l19.0 3.5l9.0 2.1l3.5 1.1l3.0 1.4l17.5 10.1l7.5 3.6l7.5 2.9l9.5 2.4l10.0 1.3l14.0 1.0l24.0 .8l19.0 .2" stroke="#e030e0" stroke-width="2.40" fill="none" stroke-linejoin="round" />
<path d="M78.8 825.3l11.8-0.8l9.5-1.2l8.0-1.8l7.5-2.6l6.5-3.2l6.7-4.2l6.0-4.4l13.2-10.5l6.3-4.3l3.3-1.7l3.2-1.3l3.0-0.7l3.0-0.3l2.3 .2l2.2 .6l5.0 2.5l5.0 3.6l10.7 9.3l5.3 4.1l6.0 3.9l5.8 2.7l5.5 1.8l6.0 1.2l6.7 .8l8.8 .3l14.0-0.1l1.7-0.7l2.5-2.3l.7-0.1l1.3 1.6l2.5 7.0l.5 .7l.5 .0l.8-0.8l2.0-3.9l1.5-1.3l16.0-2.4l17.2-1.6l6.3-2.0l4.0-2.5l2.5-2.3l2.0-2.5l2.0-3.1l2.0-3.9l2.4-7.0l2.3-10.5l1.3-4.3l1.5-3.6l.9-1.4l.6 .2l.5 1.0l1.7 6.4l2.3 13.8l1.5 11.9l1.4 5.6l1.3 2.9l1.0 1.1l2.5 1.3l2.3-0.0l4.2-2.2l4.2-3.1l4.6-4.1l3.9-4.6l3.5-4.8l3.6-5.6l9.2-17.8l6.7-14.1l4.0-10.5l2.3-9.3l2.0-14.7l1.3-6.8l1.7-6.4l.5-1.2l.5-0.4l.5 .9l.5 2.1l1.5 9.6l2.3 23.5l1.7 23.5l1.0 6.5l1.3 5.8l.7 2.4l2.5 5.8l6.3 13.0l9.4 25.2l2.6 5.4l2.5 4.5l2.9 4.2l3.3 3.2l3.8 2.3l4.4 1.7l6.6 1.3l9.4 1.1l12.3 1.0l13.0 .5" stroke="#9a645c" stroke-width="4.60" fill="none" stroke-linejoin="round" />
<path d="M78.8 825.3l11.8-0.8l9.5-1.2l8.0-1.8l7.5-2.6l6.5-3.2l6.7-4.2l6.0-4.4l13.2-10.5l6.3-4.3l3.3-1.7l3.2-1.3l3.0-0.7l3.0-0.3l2.3 .2l2.2 .6l5.0 2.5l5.0 3.6l10.7 9.3l5.3 4.1l6.0 3.9l5.8 2.7l5.5 1.8l6.0 1.2l6.7 .8l8.8 .3l14.0-0.1l1.7-0.7l2.5-2.3l.7-0.1l1.3 1.6l2.5 7.0l.5 .7l.5 .0l.8-0.8l2.0-3.9l1.5-1.3l16.0-2.4l17.2-1.6l6.3-2.0l4.0-2.5l2.5-2.3l2.0-2.5l2.0-3.1l2.0-3.9l2.4-7.0l2.3-10.5l1.3-4.3l1.5-3.6l.9-1.4l.6 .2l.5 1.0l1.7 6.4l2.3 13.8l1.5 11.9l1.4 5.6l1.3 2.9l1.0 1.1l2.5 1.3l2.3-0.0l4.2-2.2l4.2-3.1l4.6-4.1l3.9-4.6l3.5-4.8l3.6-5.6l9.2-17.8l6.7-14.1l4.0-10.5l2.3-9.3l2.0-14.7l1.3-6.8l1.7-6.4l.5-1.2l.5-0.4l.5 .9l.5 2.1l1.5 9.6l2.3 23.5l1.7 23.5l1.0 6.5l1.3 5.8l.7 2.4l2.5 5.8l6.3 13.0l9.4 25.2l2.6 5.4l2.5 4.5l2.9 4.2l3.3 3.2l3.8 2.3l4.4 1.7l6.6 1.3l9.4 1.1l12.3 1.0l13.0 .5" stroke="#f2d4cd" stroke-width="2.30" fill="none" stroke-linejoin="round" />
<line x1="84.1" y1="697.9" x2="119.7" y2="697.9" stroke="#111" stroke-width="2.2"/>
<text x="123.6" y="703.3" font-size="15.0" font-weight="bold" fill="#222">Sample</text>
<line x1="84.1" y1="716.6" x2="119.7" y2="716.6" stroke="#2424d8" stroke-width="2.2"/>
<text x="123.6" y="722.0" font-size="15.0" font-weight="bold" fill="#222">Pd metal</text>
<line x1="84.1" y1="735.6" x2="119.7" y2="735.6" stroke="#e8302a" stroke-width="2.2"/>
<text x="123.6" y="741.0" font-size="15.0" font-weight="bold" fill="#222">Au metal</text>
<line x1="84.1" y1="755.4" x2="119.7" y2="755.4" stroke="#e030e0" stroke-width="2.2"/>
<text x="123.6" y="760.8" font-size="15.0" font-weight="bold" fill="#222">Background</text>
<line x1="84.1" y1="774.7" x2="119.7" y2="774.7" stroke="#555" stroke-width="2.2"/>
<circle cx="101.9" cy="774.7" r="2.3" fill="#fbeaea" stroke="#b06868" stroke-width="1"/>
<text x="123.6" y="780.1" font-size="15.0" font-weight="bold" fill="#222">Total</text>
<text x="85.2" y="661.5" font-weight="bold" fill="#111"><tspan dy="0.0" font-size="22.5">Au</tspan><tspan dy="8.5" font-size="21.5">90</tspan><tspan dy="-8.5" font-size="22.5">Pd</tspan><tspan dy="8.5" font-size="21.5">10</tspan><tspan dy="-8.5" font-size="22.5">/C</tspan></text>
<text x="274.5" y="669.3" font-size="23.5" fill="#1c1ce0" text-anchor="start" font-weight="bold" letter-spacing="0.9">Pd 3d</text>
<text x="269.8" y="692.1" font-size="23.5" fill="#e82020" text-anchor="start" font-weight="bold" letter-spacing="0.9">Au 4d</text>
<text x="422.5" y="703.0" font-size="46.0" fill="#111" text-anchor="start" font-weight="bold" >e</text>
<path d="M473.7,792.8V829.4M467.2,792.8h13.0M467.2,829.4h13.0" stroke="#111" stroke-width="2.0" fill="none"/>
<text x="466.6" y="817.4" font-size="17.0" fill="#111" text-anchor="end" font-weight="bold" >300</text>
<text transform="translate(67.5,750.5) rotate(-90)" x="0" y="0" font-size="25.0" font-weight="bold" fill="#111" text-anchor="middle">Intensity / cps</text>
<text x="288.2" y="923.4" font-size="24.0" fill="#111" text-anchor="middle" font-weight="bold" >BE / eV</text>
<rect x="552.5" y="629.2" width="387.8" height="244.8" fill="none" stroke="#6f6f6f" stroke-width="1.3"/>
<path d="M930.6,874.0v-5.5M930.6,629.2v5.5M920.9,874.0v-5.5M920.9,629.2v5.5M911.2,874.0v-5.5M911.2,629.2v5.5M901.5,874.0v-5.5M901.5,629.2v5.5M891.8,874.0v-11.0M891.8,629.2v11.0M882.1,874.0v-5.5M882.1,629.2v5.5M872.4,874.0v-5.5M872.4,629.2v5.5M862.7,874.0v-5.5M862.7,629.2v5.5M853.0,874.0v-5.5M853.0,629.2v5.5M843.3,874.0v-11.0M843.3,629.2v11.0M833.7,874.0v-5.5M833.7,629.2v5.5M824.0,874.0v-5.5M824.0,629.2v5.5M814.3,874.0v-5.5M814.3,629.2v5.5M804.6,874.0v-5.5M804.6,629.2v5.5M794.9,874.0v-11.0M794.9,629.2v11.0M785.2,874.0v-5.5M785.2,629.2v5.5M775.5,874.0v-5.5M775.5,629.2v5.5M765.8,874.0v-5.5M765.8,629.2v5.5M756.1,874.0v-5.5M756.1,629.2v5.5M746.4,874.0v-11.0M746.4,629.2v11.0M736.7,874.0v-5.5M736.7,629.2v5.5M727.0,874.0v-5.5M727.0,629.2v5.5M717.3,874.0v-5.5M717.3,629.2v5.5M707.6,874.0v-5.5M707.6,629.2v5.5M697.9,874.0v-11.0M697.9,629.2v11.0M688.2,874.0v-5.5M688.2,629.2v5.5M678.5,874.0v-5.5M678.5,629.2v5.5M668.8,874.0v-5.5M668.8,629.2v5.5M659.1,874.0v-5.5M659.1,629.2v5.5M649.5,874.0v-11.0M649.5,629.2v11.0M639.8,874.0v-5.5M639.8,629.2v5.5M630.1,874.0v-5.5M630.1,629.2v5.5M620.4,874.0v-5.5M620.4,629.2v5.5M610.7,874.0v-5.5M610.7,629.2v5.5M601.0,874.0v-11.0M601.0,629.2v11.0M591.3,874.0v-5.5M591.3,629.2v5.5M581.6,874.0v-5.5M581.6,629.2v5.5M571.9,874.0v-5.5M571.9,629.2v5.5M562.2,874.0v-5.5M562.2,629.2v5.5" stroke="#6f6f6f" stroke-width="1.3" fill="none"/>
<text x="940.3" y="904.0" font-size="20.0" fill="#111" text-anchor="middle" font-weight="bold" >66</text>
<text x="891.8" y="904.0" font-size="20.0" fill="#111" text-anchor="middle" font-weight="bold" >68</text>
<text x="843.3" y="904.0" font-size="20.0" fill="#111" text-anchor="middle" font-weight="bold" >70</text>
<text x="794.9" y="904.0" font-size="20.0" fill="#111" text-anchor="middle" font-weight="bold" >72</text>
<text x="746.4" y="904.0" font-size="20.0" fill="#111" text-anchor="middle" font-weight="bold" >74</text>
<text x="697.9" y="904.0" font-size="20.0" fill="#111" text-anchor="middle" font-weight="bold" >76</text>
<text x="649.5" y="904.0" font-size="20.0" fill="#111" text-anchor="middle" font-weight="bold" >78</text>
<text x="601.0" y="904.0" font-size="20.0" fill="#111" text-anchor="middle" font-weight="bold" >80</text>
<text x="552.5" y="904.0" font-size="20.0" fill="#111" text-anchor="middle" font-weight="bold" >82</text>
<path d="M552.5 835.7l42.0 .0l15.5-0.6l6.5-0.8l6.1-1.2l20.5-5.8l5.0-0.7l4.5 .0l3.5 .5l4.0 1.0l16.0 5.8l9.0 2.5l32.0 5.1l14.0 2.7l7.5 .7l18.1-0.5l7.5 .2l9.0 .9l9.5 1.6l8.5 2.1l9.5 2.9l8.0 2.9l16.0 6.8l8.5 2.7l4.5 1.0l10.5 .8l12.0 .4l80.1 .1" stroke="#2a8f2a" stroke-width="2.00" fill="none" stroke-linejoin="round" />
<path d="M552.5 835.7l74.6 .6l24.5 .5l23.0 1.0l11.5-0.0l7.0-0.6l6.5-1.0l8.0-2.0l14.0-4.7l4.5-0.8l4.0 .0l4.5 .7l5.5 1.7l16.1 7.4l8.0 3.2l7.5 2.3l17.5 4.4l9.0 2.8l10.0 3.5l16.5 7.0l8.0 2.6l4.0 1.0l10.0 .9l12.5 .4l81.1 .2" stroke="#2a8f2a" stroke-width="2.00" fill="none" stroke-linejoin="round" />
<path d="M552.5 835.7l87.6 .8l13.5 .3l40.0 1.8l11.5 1.0l12.5 1.8l13.0 2.4l6.0 .6l13.1-0.5l7.0-0.7l5.0-0.8l4.5-1.3l4.0-2.2l3.5-3.0l3.5-4.3l3.0-4.9l3.0-6.0l9.5-23.1l3.5-7.5l2.0-3.4l1.5-1.8l2.0-1.5l1.5-0.3l2.0 .7l2.5 2.0l2.5 3.3l2.5 4.3l4.5 9.7l12.5 30.5l3.5 7.5l3.0 5.5l2.5 3.8l3.5 4.3l3.5 3.3l3.5 2.6l4.0 2.0l4.5 1.5l5.5 1.0l6.5 .7l20.1 .5l50.5 .3" stroke="#2424d8" stroke-width="2.20" fill="none" stroke-linejoin="round" />
<path d="M552.5 835.6l75.6 .6l23.0 .4l20.5 .6l7.0-0.2l5.5-0.9l3.5-1.2l3.5-1.9l3.0-2.4l3.0-3.2l3.0-4.0l3.0-4.7l9.0-16.7l3.5-5.9l2.0-2.6l1.5-1.4l2.0-1.1l1.5-0.3l2.0 .5l2.0 1.0l2.0 1.6l2.5 2.6l4.5 5.9l11.1 16.9l5.0 6.9l6.0 6.7l6.0 5.0l4.5 2.7l5.5 2.5l30.5 9.9l22.0 9.2l7.0 2.2l4.0 1.0l13.5 1.0l24.0 .3l65.6 .1" stroke="#2424d8" stroke-width="2.20" fill="none" stroke-linejoin="round" />
<path d="M552.5 835.7l62.0 .4l56.6 1.3l27.5 .1l18.5 1.5l12.5 1.5l5.0 .2l5.5-0.4l7.1-1.0l20.0-4.4l11.5-4.9l6.5-3.7l3.0-2.3l2.5-2.4l2.5-3.0l2.5-3.6l3.0-5.9l4.0-10.5l9.0-33.0l4.0-12.4l1.0-2.2l1.5-2.0l2.0-1.8l1.5-0.5l1.0 .5l1.5 2.9l2.0 6.0l1.0 4.4l2.5 14.1l6.5 41.1l2.0 10.8l2.0 8.6l2.5 8.3l2.5 6.6l3.0 5.5l3.5 4.6l4.0 3.1l3.5 1.8l4.0 1.0l5.0 .6l72.1 .2" stroke="#e8302a" stroke-width="2.20" fill="none" stroke-linejoin="round" />
<path d="M552.5 835.7l44.0-0.2l38.1-0.9l32.5-1.0l9.0-0.8l8.5-1.3l4.5-1.2l7.0-2.6l7.0-3.1l5.0-2.9l4.5-3.9l3.5-4.2l3.0-5.2l3.5-7.4l8.5-24.0l4.0-9.8l1.5-2.5l2.0-2.1l1.5-1.2l1.5-0.5l1.0 .6l1.0 1.5l2.5 5.4l3.1 11.4l3.5 16.3l4.0 16.4l2.0 7.0l2.5 6.5l3.5 7.0l3.5 4.7l3.5 3.3l5.5 3.5l6.5 2.5l13.5 4.0l9.0 3.0l19.5 8.1l7.5 2.4l4.5 1.0l10.5 .8l12.0 .4l80.1 .1" stroke="#e8302a" stroke-width="2.20" fill="none" stroke-linejoin="round" />
<path d="M552.5 835.7l56.0 .4l36.6 .6l52.0 2.5l7.5 1.0l11.5 2.2l15.0 4.0l5.0 1.1l30.1 3.0l13.5 2.0l13.0 2.3l14.0 3.0l18.0 5.7l8.5 2.1l4.0 .7l16.5 .5l86.6-0.0" stroke="#e030e0" stroke-width="2.20" fill="none" stroke-linejoin="round" />
<path d="M552.5 832.1l1.0-0.5l.5 .6l1.0 .2l.5 .6l.5 .2l1.0-0.5l1.0 .5l.5-0.6l1.5-0.7l.5-0.8l.5 .5l.5-0.2l1.5 2.3l.5-0.8l.5 .4l1.0 .0l.5-0.4l.5 .9l1.0-0.3l1.5 .9l.5 .8l.5 .1l.5-0.4l1.0 .5l.5-0.7l1.0 .8l.5-0.6l1.0 .8l.5-0.2l.5 .2l.5 .9l.5-0.8l.5 .0l.5 .5l.5-0.8l.5-0.1l1.5 1.0l2.0-0.7l.5-1.0l1.0-0.1l1.0 .8l1.0-0.1l.5 .3l1.0-1.7l1.0 1.2l.5-0.0l.5 .6l1.5 .0l.5-0.4l1.5 .3l.5-0.7l1.5-0.5l2.0 1.4l1.5-0.3l.5 .2l.5-0.8l.5 .3l1.0-1.9l.5-0.3l1.0-0.0l.5 1.4l.5 .4l.5-0.1l1.0 .4l.5-0.9l1.5 .7l.5-0.6l1.0-0.0l.5-0.7l.5-0.2l2.0 .7l.5-0.4l.5 .2l.5-1.1l.5-0.6l.5 .0l.5-0.6l1.0 .2l.5 .7l.5-0.6l.5 1.0l1.0-0.4l.6 .1l.5 .7l1.0-0.7l.5 .4l.5-0.9l2.5-1.0l.5-1.0l.5 .5l.5-0.2l.5 .5l1.0 .2l1.5-1.6l1.0-0.3l1.0-0.9l.5 .5l1.0-0.8l1.0 1.1l.5-1.3l1.0-0.0l1.0-1.4l.5 .3l1.0-0.3l.5 .7l2.0-1.9l1.5 .0l1.0 .4l.5-0.8l.5 .2l1.0-0.5l.5 .0l.5 .5l1.0 .0l1.0-0.9l1.5-0.4l1.0 1.0l1.5-0.3l.5 .3l.5-0.8l1.0-0.2l1.0 .6l.5 1.1l1.0-1.6l.5 .0l1.0-1.6l.5 .8l.5 .1l.5-1.1l.5 .6l.5 .1l.5-0.4l1.0 1.3l.5-0.6l1.0-0.2l.5-0.5l1.0 1.2l1.5 .9l1.0-0.7l1.0 .1l1.0 1.0l.5 1.1l.5-0.5l.5 .6l1.0-0.3l.5-1.3l.5 .3l1.5-0.3l1.0 .8l1.5-2.0l1.0-2.8l.5-0.5l.5 1.0l1.0-0.1l1.0 .8l1.0-1.2l1.0 .1l1.5-0.9l.5-0.7l.5-0.1l.5-0.8l.5-0.0l.5-0.8l.5 .1l1.0-0.8l.5 .1l.5 .8l.5-0.3l1.0 .7l.5-1.8l.5-0.6l.5-0.1l.5-0.4l.5-0.8l.5 .6l.5-0.4l.5 .1l1.0-0.2l.5 .2l.5-0.6l1.0-2.5l.5-0.1l.5-0.9l1.5-0.6l2.0-5.5l1.5-2.6l3.0-8.2l3.5-11.1l2.5-9.5l1.5-3.6l2.0-8.4l1.0-2.3l2.0-7.5l1.0-5.1l1.5-4.3l1.0-1.8l.5-1.9l.5-0.5l1.5-6.6l4.0-12.7l1.0-1.7l2.5-5.8l.5-0.2l.5-0.7l1.5-2.8l1.0-3.4l.5-0.3l.5 .5l.5-0.4l.5-0.0l.5 .4l.5-0.3l.5 .2l1.0 2.3l1.5 .9l.5-0.3l.5 .3l1.5 4.2l2.0 8.8l2.6 9.2l5.5 35.4l2.5 12.4l2.5 14.5l3.0 11.6l.5-0.0l1.5 3.6l1.0 3.4l1.0 1.2l.5 1.2l1.0 .6l1.0 1.3l1.0 .2l1.0 1.4l.5-0.2l1.0 .7l1.0-0.5l1.0 .6l.5-0.4l.5 .2l1.5-2.1l1.5-1.4l2.0-3.3l2.0-4.4l1.5-4.8l.5-0.2l2.5-8.3l2.0-5.4l2.0-8.2l.5-0.9l.5-2.1l1.5-4.1l3.5-15.8l2.5-8.4l.5-3.3l1.5-4.7l.5-2.8l.5-0.9l1.0-4.4l2.0-5.9l2.0-8.2l2.0-5.8l1.5-2.7l2.0-7.4l1.0-2.3l1.5-1.6l1.5-2.6l1.0-1.1l.5 .1l1.5 1.2l1.0 .4l1.5 1.7l1.5 3.7l2.0 7.5l2.0 10.7l2.0 13.8l8.0 65.2l5.5 32.5l1.0 3.7l1.5 3.6l1.5 5.9l3.0 7.9l1.0 1.7l.5 .4l.5-0.2l2.5 3.8l1.0 .4l.5-0.4l3.0 5.4l.5-1.0l.5 .1l1.5 1.9l.5 1.7l1.5 .7l1.0-1.0l1.0 1.1l.5-0.2l1.5 .8l.5-0.6l.5 .7l1.0-0.3l.5-0.5l.5 .4l1.5-0.5l.5 .2l1.0-1.5l1.0 1.6l1.0 .1l.5 1.0l.5-0.5l.6 .3l.5-0.5l2.0-0.7l.5 .4l2.0 .2l.5-0.3l1.0 .6l1.0 1.4l1.5 .7l1.0-2.0l1.0 .1l1.0-1.4l.5-0.2l.5 .2l.5-0.4l.5 .2l1.0 1.5l.5-0.3l.5 .4l1.0-0.5l.5-0.6l.5 .6l1.5-0.1l.5 .3l1.0-0.8l1.0-0.1l.5 1.1l.5 .1l1.5 2.1l1.0-1.5l.5 .5l1.5-0.7l.5 .8l1.5 .3l1.5-1.8l1.0-0.0l.5 .6l.5-0.8l.5 .2l1.0-0.8l.5-0.1l.5 .5l.5-1.0l1.5 1.6l1.0 1.7l2.0-3.3l1.0-0.1l.5 .5l1.5 .1l.5 .7l.5-0.2l.5 .4l1.0-1.0l.5 .2l2.0 3.2l1.0-0.4l1.5-1.6l.5 .3l.5-0.7l1.0-0.4l.5-0.0l.5 .8l1.0 .1l1.0 1.0l.5-1.3l.5-0.0l.5 .4l1.0-0.3l.5 1.0l1.5-0.8l.5 .5l.5-1.3l1.0-0.2l.5 .4l.5-0.3l.5 1.3l.5-0.4" stroke="#111" stroke-width="3.00" fill="none" stroke-linejoin="round" />
<path d="M552.5 832.5l4.0 .4l9.5 1.8l6.5 .7l13.0-0.0l15.5-0.6l10.0-1.0l8.6-1.6l7.0-2.0l14.5-5.0l7.5-1.7l4.5-0.2l4.0 .2l14.0 2.6l5.5 .5l3.0-0.1l3.0-0.6l2.5-0.9l2.0-1.2l3.5-3.1l3.5-4.5l3.5-6.0l3.5-7.8l3.0-7.9l3.5-10.6l12.5-43.7l6.0-18.6l3.5-8.9l2.0-4.1l2.5-3.4l1.0-0.9l1.0-0.4l1.5 .6l1.5 1.1l1.5 1.7l1.0 1.6l1.5 4.1l2.0 7.5l2.1 9.8l5.5 33.6l3.0 16.6l2.5 12.1l2.5 9.0l3.0 8.0l2.5 4.3l2.0 2.0l1.5 .8l1.5 .1l1.5-0.5l3.0-2.5l2.5-3.4l2.5-5.0l2.5-6.3l5.5-17.6l12.0-46.1l6.5-22.6l3.0-8.7l2.0-4.8l3.0-4.4l1.5-0.9l1.0 .6l1.5 1.4l2.0 2.9l1.5 3.6l1.5 6.2l3.0 16.7l8.0 63.9l2.5 17.8l2.0 11.8l3.0 13.5l2.5 8.8l3.0 7.7l3.5 6.4l4.0 4.6l3.5 2.7l4.5 1.8l5.0 1.1l19.1 .7l52.5 .3" stroke="#7a2020" stroke-width="1.40" fill="none" stroke-linejoin="round" />
<g fill="#fbeaea" stroke="#b06868" stroke-width="0.90"><circle cx="552.5" cy="832.5" r="2.0"/><circle cx="558.6" cy="833.2" r="2.0"/><circle cx="564.6" cy="834.4" r="2.0"/><circle cx="570.7" cy="835.2" r="2.0"/><circle cx="576.7" cy="835.5" r="2.0"/><circle cx="582.8" cy="835.4" r="2.0"/><circle cx="588.9" cy="835.3" r="2.0"/><circle cx="594.9" cy="835.1" r="2.0"/><circle cx="601.0" cy="834.8" r="2.0"/><circle cx="607.0" cy="834.3" r="2.0"/><circle cx="613.1" cy="833.5" r="2.0"/><circle cx="619.2" cy="832.3" r="2.0"/><circle cx="625.2" cy="830.7" r="2.0"/><circle cx="631.3" cy="828.6" r="2.0"/><circle cx="637.3" cy="826.4" r="2.0"/><circle cx="643.4" cy="824.5" r="2.0"/><circle cx="649.5" cy="823.4" r="2.0"/><circle cx="655.5" cy="823.4" r="2.0"/><circle cx="661.6" cy="824.2" r="2.0"/><circle cx="667.6" cy="825.5" r="2.0"/><circle cx="673.7" cy="826.5" r="2.0"/><circle cx="679.7" cy="826.5" r="2.0"/><circle cx="685.8" cy="824.6" r="2.0"/><circle cx="691.9" cy="819.2" r="2.0"/><circle cx="697.9" cy="809.5" r="2.0"/><circle cx="704.0" cy="794.9" r="2.0"/><circle cx="710.0" cy="775.7" r="2.0"/><circle cx="716.1" cy="754.4" r="2.0"/><circle cx="722.2" cy="733.7" r="2.0"/><circle cx="728.2" cy="716.1" r="2.0"/><circle cx="734.3" cy="705.0" r="2.0"/><circle cx="740.3" cy="706.9" r="2.0"/><circle cx="746.4" cy="726.2" r="2.0"/><circle cx="752.5" cy="762.7" r="2.0"/><circle cx="758.5" cy="794.1" r="2.0"/><circle cx="764.6" cy="811.5" r="2.0"/><circle cx="770.6" cy="816.8" r="2.0"/><circle cx="776.7" cy="812.6" r="2.0"/><circle cx="782.8" cy="800.2" r="2.0"/><circle cx="788.8" cy="781.1" r="2.0"/><circle cx="794.9" cy="757.9" r="2.0"/><circle cx="800.9" cy="734.5" r="2.0"/><circle cx="807.0" cy="713.5" r="2.0"/><circle cx="813.1" cy="697.9" r="2.0"/><circle cx="819.1" cy="695.9" r="2.0"/><circle cx="825.2" cy="713.4" r="2.0"/><circle cx="831.2" cy="757.2" r="2.0"/><circle cx="837.3" cy="804.2" r="2.0"/><circle cx="843.3" cy="834.8" r="2.0"/><circle cx="849.4" cy="851.3" r="2.0"/><circle cx="855.5" cy="859.6" r="2.0"/><circle cx="861.5" cy="863.6" r="2.0"/><circle cx="867.6" cy="865.3" r="2.0"/><circle cx="873.6" cy="865.8" r="2.0"/><circle cx="879.7" cy="866.0" r="2.0"/><circle cx="885.8" cy="866.1" r="2.0"/><circle cx="891.8" cy="866.2" r="2.0"/><circle cx="897.9" cy="866.3" r="2.0"/><circle cx="903.9" cy="866.3" r="2.0"/><circle cx="910.0" cy="866.4" r="2.0"/><circle cx="916.1" cy="866.4" r="2.0"/><circle cx="922.1" cy="866.4" r="2.0"/><circle cx="928.2" cy="866.5" r="2.0"/><circle cx="934.2" cy="866.5" r="2.0"/></g>
<line x1="560.8" y1="705.5" x2="596.6" y2="705.5" stroke="#111" stroke-width="2.2"/>
<text x="600.3" y="711.1" font-size="15.5" font-weight="bold" fill="#222">Sample</text>
<line x1="560.8" y1="725.7" x2="596.6" y2="725.7" stroke="#e8302a" stroke-width="2.2"/>
<text x="600.3" y="731.3" font-size="15.5" font-weight="bold" fill="#222">Pt metal</text>
<line x1="560.8" y1="745.5" x2="596.6" y2="745.5" stroke="#2424d8" stroke-width="2.2"/>
<text x="600.3" y="751.1" font-size="15.5" font-weight="bold" fill="#222">PtO</text>
<line x1="560.8" y1="764.8" x2="596.6" y2="764.8" stroke="#2a8f2a" stroke-width="2.2"/>
<text x="600.3" y="770.4" font-size="15.5" font-weight="bold" fill="#222">PtO<tspan dy="7.0" font-size="12.4">x</tspan></text>
<line x1="560.8" y1="790.7" x2="596.6" y2="790.7" stroke="#e030e0" stroke-width="2.2"/>
<text x="600.3" y="796.3" font-size="15.5" font-weight="bold" fill="#222">Background</text>
<line x1="560.8" y1="810.4" x2="596.6" y2="810.4" stroke="#a06060" stroke-width="2.2"/>
<circle cx="578.7" cy="810.4" r="2.3" fill="#fbeaea" stroke="#b06868" stroke-width="1"/>
<text x="600.3" y="816.0" font-size="15.5" font-weight="bold" fill="#222">Total</text>
<text x="559.7" y="661.7" font-weight="bold" fill="#111"><tspan dy="0.0" font-size="22.5">Au</tspan><tspan dy="9.8" font-size="21.5">80</tspan><tspan dy="-9.8" font-size="22.5">Pt</tspan><tspan dy="9.8" font-size="21.5">20</tspan><tspan dy="-9.8" font-size="22.5">/C</tspan></text>
<text x="757.5" y="665.0" font-size="26.0" fill="#111" text-anchor="start" font-weight="bold" >Pt 4f</text>
<text x="741.0" y="692.4" font-weight="bold" fill="#111"><tspan dy="0.0" font-size="19.0">4f</tspan><tspan dy="9.9" font-size="17.0">5/2</tspan></text>
<text x="837.6" y="688.0" font-weight="bold" fill="#111"><tspan dy="0.0" font-size="19.0">4f</tspan><tspan dy="8.8" font-size="17.0">7/2</tspan></text>
<text x="882.5" y="758.0" font-size="52.0" fill="#111" text-anchor="start" font-weight="bold" >g</text>
<path d="M932.4,791.8V851.7M925.8,791.8h13.2M925.8,851.7h13.2" stroke="#111" stroke-width="2.0" fill="none"/>
<text x="927.5" y="831.3" font-size="21.5" fill="#111" text-anchor="end" font-weight="bold" >500</text>
<text transform="translate(539.9,741.0) rotate(-90)" x="0" y="0" font-size="25.4" font-weight="bold" fill="#111" text-anchor="middle">Intensity / cps</text>
<text x="750.9" y="926.0" font-size="24.5" fill="#111" text-anchor="middle" font-weight="bold" >BE / eV</text>
<rect x="28.2" y="962.9" width="284.2" height="269.1" fill="none" stroke="#6f6f6f" stroke-width="1.3"/>
<path d="M306.1,1232.0v-5.0M306.1,962.9v5.0M299.8,1232.0v-5.0M299.8,962.9v5.0M293.5,1232.0v-5.0M293.5,962.9v5.0M287.1,1232.0v-5.0M287.1,962.9v5.0M280.8,1232.0v-8.6M280.8,962.9v8.6M274.5,1232.0v-5.0M274.5,962.9v5.0M268.2,1232.0v-5.0M268.2,962.9v5.0M261.9,1232.0v-5.0M261.9,962.9v5.0M255.6,1232.0v-5.0M255.6,962.9v5.0M249.2,1232.0v-8.6M249.2,962.9v8.6M242.9,1232.0v-5.0M242.9,962.9v5.0M236.6,1232.0v-5.0M236.6,962.9v5.0M230.3,1232.0v-5.0M230.3,962.9v5.0M224.0,1232.0v-5.0M224.0,962.9v5.0M217.7,1232.0v-8.6M217.7,962.9v8.6M211.4,1232.0v-5.0M211.4,962.9v5.0M205.0,1232.0v-5.0M205.0,962.9v5.0M198.7,1232.0v-5.0M198.7,962.9v5.0M192.4,1232.0v-5.0M192.4,962.9v5.0M186.1,1232.0v-8.6M186.1,962.9v8.6M179.8,1232.0v-5.0M179.8,962.9v5.0M173.5,1232.0v-5.0M173.5,962.9v5.0M167.1,1232.0v-5.0M167.1,962.9v5.0M160.8,1232.0v-5.0M160.8,962.9v5.0M154.5,1232.0v-8.6M154.5,962.9v8.6M148.2,1232.0v-5.0M148.2,962.9v5.0M141.9,1232.0v-5.0M141.9,962.9v5.0M135.6,1232.0v-5.0M135.6,962.9v5.0M129.2,1232.0v-5.0M129.2,962.9v5.0M122.9,1232.0v-8.6M122.9,962.9v8.6M116.6,1232.0v-5.0M116.6,962.9v5.0M110.3,1232.0v-5.0M110.3,962.9v5.0M104.0,1232.0v-5.0M104.0,962.9v5.0M97.7,1232.0v-5.0M97.7,962.9v5.0M91.4,1232.0v-8.6M91.4,962.9v8.6M85.0,1232.0v-5.0M85.0,962.9v5.0M78.7,1232.0v-5.0M78.7,962.9v5.0M72.4,1232.0v-5.0M72.4,962.9v5.0M66.1,1232.0v-5.0M66.1,962.9v5.0M59.8,1232.0v-8.6M59.8,962.9v8.6M53.5,1232.0v-5.0M53.5,962.9v5.0M47.1,1232.0v-5.0M47.1,962.9v5.0M40.8,1232.0v-5.0M40.8,962.9v5.0M34.5,1232.0v-5.0M34.5,962.9v5.0" stroke="#6f6f6f" stroke-width="1.3" fill="none"/>
<text x="312.4" y="1255.0" font-size="16.8" fill="#111" text-anchor="middle" font-weight="bold" >82</text>
<text x="280.8" y="1255.0" font-size="16.8" fill="#111" text-anchor="middle" font-weight="bold" >83</text>
<text x="249.2" y="1255.0" font-size="16.8" fill="#111" text-anchor="middle" font-weight="bold" >84</text>
<text x="217.7" y="1255.0" font-size="16.8" fill="#111" text-anchor="middle" font-weight="bold" >85</text>
<text x="186.1" y="1255.0" font-size="16.8" fill="#111" text-anchor="middle" font-weight="bold" >86</text>
<text x="154.5" y="1255.0" font-size="16.8" fill="#111" text-anchor="middle" font-weight="bold" >87</text>
<text x="122.9" y="1255.0" font-size="16.8" fill="#111" text-anchor="middle" font-weight="bold" >88</text>
<text x="91.4" y="1255.0" font-size="16.8" fill="#111" text-anchor="middle" font-weight="bold" >89</text>
<text x="59.8" y="1255.0" font-size="16.8" fill="#111" text-anchor="middle" font-weight="bold" >90</text>
<text x="28.2" y="1255.0" font-size="16.8" fill="#111" text-anchor="middle" font-weight="bold" >91</text>
<path d="M28.2 1208.2l43.0 .3l27.0 .5l17.6 .7l24.5 2.0l12.0 .3l29.5-0.4l22.0-0.6l4.0-0.4l3.0-0.7l2.5-1.0l2.5-1.7l2.0-2.0l2.0-2.8l3.0-6.4l3.0-9.7l2.5-11.2l2.5-14.5l2.5-17.6l8.6-72.7l3.0-22.4l1.5-8.6l1.5-6.5l1.5-3.9l1.0-1.0l.5-0.1l1.0 .8l1.5 3.6l1.5 6.2l1.5 8.5l3.0 22.2l7.0 62.0l3.5 27.4l4.0 24.0l2.0 8.9l2.0 7.0l2.0 5.4l2.5 4.8l3.0 3.8l3.0 2.1l3.5 1.4l4.0 .8l6.0 .5l10.5 .4" stroke="#e8302a" stroke-width="1.60" fill="none" stroke-linejoin="round" />
<path d="M28.2 1208.1l47.5-0.1l14.5-0.5l4.5-0.8l3.5-1.3l3.1-2.1l2.5-2.8l2.5-4.2l2.0-4.7l2.5-7.7l2.0-7.9l4.5-23.4l8.0-53.0l3.0-17.3l1.5-6.8l1.5-5.0l1.5-3.1l1.0-0.9l.5-0.1l.5 .2l1.0 1.0l1.5 3.3l1.5 5.2l1.5 6.9l3.0 17.7l8.0 53.9l2.5 14.1l2.5 11.8l2.5 9.3l3.0 8.2l3.0 5.4l3.0 3.4l2.0 1.5l2.5 1.2l3.0 .9l3.5 .5l45.0 2.1l18.1 1.9l19.0 2.6l18.5 .7l33.0 .1" stroke="#e8302a" stroke-width="1.60" fill="none" stroke-linejoin="round" />
<path d="M28.2 1208.2l21.0-0.3l12.0-1.0l9.5-2.1l17.5-5.7l4.5-0.9l4.0-0.1l4.1 .5l4.5 1.2l16.0 6.5l7.5 2.5l7.0 1.7l7.0 1.0l9.5 .5l40.0 .3l21.5 .4l17.5 1.3l14.6 1.6l11.0 1.7l8.0 .6l16.5 .5l31.0-0.0" stroke="#2424d8" stroke-width="1.80" fill="none" stroke-linejoin="round" />
<path d="M28.2 1208.3l66.5 .7l20.1 .8l26.5 2.0l10.0 .3l13.0-0.2l9.5-0.7l8.0-1.2l7.5-2.0l16.0-5.6l4.5-0.9l4.0-0.2l4.0 .5l4.5 1.3l20.1 8.9l6.5 2.3l8.5 2.3l8.0 1.0l9.5 .5l37.5 .2" stroke="#2424d8" stroke-width="1.80" fill="none" stroke-linejoin="round" />
<path d="M28.2 1208.3l43.0 .3l27.5 .5l15.6 .7l24.5 2.0l10.0 .5l42.0 .0l22.5 .5l18.0 1.2l14.6 1.6l11.5 1.8l8.0 .6l16.0 .4l31.0 .0" stroke="#e030e0" stroke-width="2.00" fill="none" stroke-linejoin="round" />
<path d="M28.2 1202.8l.5 .8l.5-0.6l.5 .7l.5-0.4l.5 1.9l1.0 2.0l.5-0.1l1.0-0.9l.5 .5l1.0-0.5l.5-0.9l.5 1.2l.5-0.9l.5-0.1l.5-0.6l.5 .6l.5-0.8l1.0-0.2l.5 .8l.5-0.3l.5 .2l.5-0.9l.5 1.0l1.0-0.8l.5-0.9l1.5 3.4l1.0-0.0l1.0-3.8l1.0 2.3l.5-0.0l.5-1.4l2.0 3.6l1.0-1.0l.5-1.2l.5 .6l.5-0.5l.5-0.0l1.5 2.9l1.0 .6l.5-0.4l1.0-2.4l.5 .6l.5-0.3l.5 1.4l.5-0.9l.5-0.0l.5-1.4l1.0 .7l.5 1.0l.5-0.8l2.0 .3l.5-0.3l.5 .4l.5-0.8l.5-2.3l1.0 1.5l.5 1.8l.5-1.8l.5 .6l.5-0.5l.5 .1l.5-1.7l1.0-0.7l.5 .2l.5-1.3l1.5-0.1l1.5 .6l1.0-1.5l.5 .6l.5-0.8l.5 .0l.5-0.9l.5 .7l.5-0.0l.5-0.6l.5 .9l.5-0.1l.5-0.3l.5-1.9l.5-0.2l.5 .9l.5-0.4l.5 .1l.5-1.3l1.0 .0l.5 1.6l.5 .2l1.5-2.0l.5 .2l.5-0.8l.5 1.1l.5-0.2l1.0-0.8l.5-1.0l.5 .5l.5-0.9l.5-0.1l.5-0.8l.5 .3l.5 .7l2.0 .1l.5-1.2l1.0-0.3l1.0-2.2l.6-0.4l1.0 .0l.5-1.4l1.5 1.4l.5 .1l1.0-1.7l.5-0.4l.5-1.2l.5-0.2l.5-2.7l1.5-0.3l2.0-5.5l1.0-4.7l1.5-2.5l1.5-7.5l.5-4.2l3.0-13.9l1.5-8.3l2.5-17.0l2.5-13.1l1.5-13.2l3.0-14.5l1.5-9.4l1.0-3.7l1.5-1.1l.5-1.2l.5-0.4l1.0 .8l.5-0.8l1.5 2.1l1.0-1.3l1.5 10.0l1.5 5.7l3.5 20.3l2.0 13.6l2.0 16.7l3.0 17.6l.5 4.6l1.0 5.5l.5 .9l1.5 10.5l1.5 5.3l2.5 11.2l.5 .5l1.0 2.4l1.0 3.9l1.0 2.6l.5 .1l.5 1.8l.5 .1l.5 1.3l.5 .3l1.5 4.2l.5-0.3l.5 .2l.5 .8l1.0-0.3l.5-0.7l.5 2.3l1.0 1.2l1.0 .5l.5-0.3l1.0 .1l1.0-0.8l.5 .1l.5 1.4l.5-0.1l1.5-1.5l1.0 1.1l1.5-2.4l.5 1.4l1.0-0.4l.5-0.9l1.0-0.0l.5-0.3l1.0 .8l.5-0.0l1.0-1.2l1.5-0.9l1.0 .7l.5 2.4l.5-0.7l.5 .6l.5-2.9l.5 .1l.5-0.7l1.0 1.4l.5 .1l1.5-2.4l2.0 2.5l1.0-1.5l.5-1.7l1.0-1.3l.5 1.1l1.0 1.0l.5-1.0l1.5 .8l1.0-1.8l2.5-1.0l1.0-2.5l.5 .7l.5-0.1l.5 1.0l.5-1.0l.5 .8l.5-0.9l.5 .2l1.0-0.1l.5-1.6l1.5-1.1l1.0 .5l.5 .9l1.0-1.2l.5-0.2l.5-0.0l.5 1.1l1.5-3.6l1.0 .5l1.0-3.8l.5 .2l1.0-1.7l2.0-7.2l1.0-1.7l.5-0.3l3.5-14.9l.5-4.4l2.0-9.1l2.0-12.4l1.0-11.7l1.5-7.9l4.0-36.2l4.6-34.3l3.5-19.0l1.5-3.0l.5-0.1l.5 1.2l1.0-0.8l.5 .1l1.0 2.7l2.0 7.1l1.5 8.3l5.0 39.0l1.5 16.8l6.0 50.9l1.5 8.7l1.5 11.9l1.0 5.0l.5 1.3l.5 3.8l1.0 5.1l2.5 7.6l1.5 6.9l.5-0.1l1.0 1.2l1.0 3.9l1.0 1.8l.5 .3l.5 1.3l1.5 1.4l1.0 1.9l1.5-0.7l.5 .7l.5-0.1l.5 1.2l.5-0.5l1.0 .4l.5 .6l.5 1.9l1.0-0.2l.5-0.9l.5 .0l1.5 2.3l.5-1.2l1.0-0.9l.5 .4l.5-1.1l1.5 2.7l.5-0.2l.5 .3l.5 1.0l.5-0.1l.5-2.6l.5-0.7l.5-0.0l.5 2.1l1.0-1.4l.5-0.1l.5 .2l.5 .6l1.0 .3l.5-0.9l.5 .1l.5-0.3l.5 .7l.5-0.1l.5-0.5l.5-0.1l.5-1.2l1.0 .8l.5 1.0l.5 .2" stroke="#111" stroke-width="2.40" fill="none" stroke-linejoin="round" />
<path d="M28.2 1207.9l15.5-0.2l9.0-0.4l7.5-0.8l6.5-1.3l7.0-2.1l13.0-4.9l11.0-3.7l4.1-2.3l3.0-3.2l2.5-4.1l2.0-4.6l2.5-7.8l2.0-7.9l4.0-20.5l7.5-47.7l2.5-14.2l1.5-7.0l1.5-5.3l1.5-3.5l1.5-1.5l.5-0.1l1.0 .7l1.5 2.7l1.5 4.8l2.0 9.0l3.0 17.7l7.5 51.0l4.5 24.6l2.0 8.4l2.0 6.9l2.0 5.3l2.5 5.0l3.0 3.8l3.5 2.5l2.0 .8l2.5 .5l5.5-0.1l6.0-1.2l7.0-2.3l18.0-7.0l3.0-1.5l2.0-1.4l2.0-1.9l2.0-2.6l3.0-6.0l3.0-9.4l2.5-10.9l2.5-14.1l2.5-17.2l8.1-66.2l3.0-21.6l1.5-8.3l1.5-6.1l1.5-3.6l1.0-1.0l.5 .1l1.0 .9l1.5 3.8l1.5 6.3l1.5 8.7l3.0 22.4l7.0 62.3l3.5 27.5l4.0 24.0l2.0 8.9l2.0 7.1l2.0 5.4l2.5 4.9l3.0 3.7l3.0 2.2l3.5 1.4l4.0 .8l6.0 .5l10.5 .4" stroke="#2a8f2a" stroke-width="2.20" fill="none" stroke-linejoin="round" />
<line x1="32.3" y1="1089.0" x2="52.9" y2="1089.0" stroke="#111" stroke-width="2.2"/>
<text x="55.3" y="1092.8" font-size="10.5" font-weight="bold" fill="#333">Sample</text>
<line x1="32.3" y1="1103.0" x2="52.9" y2="1103.0" stroke="#e8302a" stroke-width="2.2"/>
<text x="55.3" y="1106.8" font-size="10.5" font-weight="bold" fill="#333">Au metal</text>
<line x1="32.3" y1="1116.4" x2="52.9" y2="1116.4" stroke="#2424d8" stroke-width="2.2"/>
<text x="55.3" y="1120.2" font-size="10.5" font-weight="bold" fill="#333">AuO<tspan dy="4.7" font-size="8.4">x</tspan></text>
<line x1="32.3" y1="1133.8" x2="52.9" y2="1133.8" stroke="#e030e0" stroke-width="2.2"/>
<text x="55.3" y="1137.6" font-size="10.5" font-weight="bold" fill="#333">Background</text>
<line x1="32.3" y1="1147.8" x2="52.9" y2="1147.8" stroke="#2a8f2a" stroke-width="2.2"/>
<text x="55.3" y="1151.6" font-size="10.5" font-weight="bold" fill="#333">Total</text>
<text x="30.5" y="990.4" font-weight="bold" fill="#111"><tspan dy="0.0" font-size="18.0">Au</tspan><tspan dy="7.2" font-size="17.0">70</tspan><tspan dy="-7.2" font-size="18.0">Pt</tspan><tspan dy="7.2" font-size="17.0">15</tspan><tspan dy="-7.2" font-size="18.0">Pd</tspan><tspan dy="7.2" font-size="17.0">15</tspan><tspan dy="-7.2" font-size="18.0">/C</tspan></text>
<text x="191.0" y="993.2" font-size="19.5" fill="#111" text-anchor="start" font-weight="bold" letter-spacing="0.8">Au 4f</text>
<text x="130.1" y="1054.0" font-weight="bold" fill="#111"><tspan dy="0.0" font-size="17.0">4f</tspan><tspan dy="6.6" font-size="15.5">5/2</tspan></text>
<text x="245.1" y="1022.7" font-weight="bold" fill="#111"><tspan dy="0.0" font-size="17.0">4f</tspan><tspan dy="7.2" font-size="15.5">7/2</tspan></text>
<text x="274.5" y="1090.9" font-size="42.0" fill="#111" text-anchor="start" font-weight="bold" >h</text>
<path d="M305.2,1119.4V1147.0M300.7,1119.4h9.0M300.7,1147.0h9.0" stroke="#111" stroke-width="2.0" fill="none"/>
<text x="301.7" y="1139.8" font-size="16.5" fill="#111" text-anchor="end" font-weight="bold" >200</text>
<text transform="translate(22.3,1088.4) rotate(-90)" x="0" y="0" font-size="21.8" font-weight="bold" fill="#111" text-anchor="middle">Intensity / cps</text>
<text x="170.1" y="1275.6" font-size="21.0" fill="#111" text-anchor="middle" font-weight="bold" >BE / eV</text>
<rect x="366.4" y="963.2" width="286.0" height="269.8" fill="none" stroke="#6f6f6f" stroke-width="1.3"/>
<path d="M643.5,1233.0v-5.0M643.5,963.2v5.0M634.5,1233.0v-5.0M634.5,963.2v5.0M625.6,1233.0v-5.0M625.6,963.2v5.0M616.6,1233.0v-9.0M616.6,963.2v9.0M607.7,1233.0v-5.0M607.7,963.2v5.0M598.8,1233.0v-5.0M598.8,963.2v5.0M589.8,1233.0v-5.0M589.8,963.2v5.0M580.9,1233.0v-9.0M580.9,963.2v9.0M572.0,1233.0v-5.0M572.0,963.2v5.0M563.0,1233.0v-5.0M563.0,963.2v5.0M554.1,1233.0v-5.0M554.1,963.2v5.0M545.1,1233.0v-9.0M545.1,963.2v9.0M536.2,1233.0v-5.0M536.2,963.2v5.0M527.3,1233.0v-5.0M527.3,963.2v5.0M518.3,1233.0v-5.0M518.3,963.2v5.0M509.4,1233.0v-9.0M509.4,963.2v9.0M500.5,1233.0v-5.0M500.5,963.2v5.0M491.5,1233.0v-5.0M491.5,963.2v5.0M482.6,1233.0v-5.0M482.6,963.2v5.0M473.6,1233.0v-9.0M473.6,963.2v9.0M464.7,1233.0v-5.0M464.7,963.2v5.0M455.8,1233.0v-5.0M455.8,963.2v5.0M446.8,1233.0v-5.0M446.8,963.2v5.0M437.9,1233.0v-9.0M437.9,963.2v9.0M429.0,1233.0v-5.0M429.0,963.2v5.0M420.0,1233.0v-5.0M420.0,963.2v5.0M411.1,1233.0v-5.0M411.1,963.2v5.0M402.1,1233.0v-9.0M402.1,963.2v9.0M393.2,1233.0v-5.0M393.2,963.2v5.0M384.3,1233.0v-5.0M384.3,963.2v5.0M375.3,1233.0v-5.0M375.3,963.2v5.0" stroke="#6f6f6f" stroke-width="1.3" fill="none"/>
<text x="652.4" y="1256.1" font-size="17.0" fill="#111" text-anchor="middle" font-weight="bold" >66</text>
<text x="616.6" y="1256.1" font-size="17.0" fill="#111" text-anchor="middle" font-weight="bold" >68</text>
<text x="580.9" y="1256.1" font-size="17.0" fill="#111" text-anchor="middle" font-weight="bold" >70</text>
<text x="545.1" y="1256.1" font-size="17.0" fill="#111" text-anchor="middle" font-weight="bold" >72</text>
<text x="509.4" y="1256.1" font-size="17.0" fill="#111" text-anchor="middle" font-weight="bold" >74</text>
<text x="473.6" y="1256.1" font-size="17.0" fill="#111" text-anchor="middle" font-weight="bold" >76</text>
<text x="437.9" y="1256.1" font-size="17.0" fill="#111" text-anchor="middle" font-weight="bold" >78</text>
<text x="402.1" y="1256.1" font-size="17.0" fill="#111" text-anchor="middle" font-weight="bold" >80</text>
<text x="366.4" y="1256.1" font-size="17.0" fill="#111" text-anchor="middle" font-weight="bold" >82</text>
<path d="M366.4 1185.8l73.0 .2l11.5 .6l13.0 1.2l6.5 1.0l3.5 1.0l8.5 3.4l10.0 4.6l6.0 2.1l7.0 1.9l8.5 1.5l26.5 3.4l14.0 3.2l11.5 1.9l3.5 .2l2.5-0.4l2.5-1.0l2.5-1.9l2.5-2.7l2.5-3.6l2.5-4.4l7.0-14.6l3.0-5.5l1.5-2.1l1.5-1.5l1.5-0.8l1.5-0.0l2.5 .7l3.0 1.7l2.5 1.9l3.0 3.0l5.0 6.1l13.5 18.6l4.0 4.9l3.5 3.7l3.5 3.1l4.0 3.0l3.5 2.1l4.0 1.9" stroke="#2a8f2a" stroke-width="1.80" fill="none" stroke-linejoin="round" />
<path d="M366.4 1185.8l73.0-0.1l20.5 .4l11.5-0.4l17.0 .8l9.0-0.1l9.5-0.4l5.0-0.8l6.0-1.8l3.0-1.4l2.0-1.3l2.0-1.7l2.5-2.8l3.5-5.3l3.0-6.9l2.5-8.4l5.0-23.6l3.5-20.0l3.0-19.3l3.5-27.7l1.5-9.7l2.5-11.0l1.0-2.7l.5-0.6l.5 .2l1.0 2.9l1.5 7.4l1.0 7.3l13.0 121.6l3.5 19.2l1.5 5.8l2.0 4.9l3.0 5.0l2.5 3.0l4.5 3.0l4.0 1.7l10.0 1.7l19.0 2.0l13.0 1.1l15.5 .7" stroke="#e8302a" stroke-width="1.60" fill="none" stroke-linejoin="round" />
<path d="M366.4 1185.7l19.0-0.2l12.5-0.5l6.0-0.5l8.0-1.2l11.0-2.8l8.5-2.7l7.0-1.9l13.5-2.6l6.0-1.4l5.5-2.2l4.5-3.2l3.5-3.6l3.0-4.6l2.0-4.3l2.5-7.4l4.0-14.0l4.0-16.9l6.5-34.0l2.5-7.8l1.0-1.8l.5-0.4l.5 .3l1.0 2.4l1.5 5.7l1.0 5.7l12.0 84.5l1.5 8.8l2.5 9.8l2.0 5.9l1.5 2.7l3.0 3.6l3.5 2.6l5.0 1.9l10.0 1.8l20.0 4.8l25.5 8.8l9.0 2.4l10.0 1.6l19.0 1.9l26.5 1.6" stroke="#e8302a" stroke-width="1.60" fill="none" stroke-linejoin="round" />
<path d="M366.4 1185.8l72.5 .1l9.0 .4l13.0 1.0l8.0 1.1l4.5 1.1l9.0 3.5l8.5 4.0l7.0 2.3l7.0 1.4l5.0-0.1l3.0-0.9l3.0-1.9l2.5-2.4l2.5-3.3l2.0-3.4l2.5-5.2l7.5-18.6l3.0-6.5l1.5-2.5l1.5-1.7l1.5-0.9l1.0-0.1l1.0 .3l1.5 1.5l2.5 4.8l2.5 6.9l7.0 22.1l4.5 11.1l2.5 4.6l2.5 3.6l3.0 3.3l3.0 2.3l5.0 2.6l10.5 4.0l7.0 2.1l5.0 1.2l10.0 1.4l18.5 1.9l25.0 1.5" stroke="#2424d8" stroke-width="1.80" fill="none" stroke-linejoin="round" />
<path d="M366.4 1185.7l76.0-0.1l6.0-0.3l4.0-0.8l4.5-2.0l2.5-1.9l2.0-2.0l4.0-5.3l7.0-12.1l3.0-4.5l3.0-3.0l1.5-0.7l1.5-0.0l1.5 .6l1.0 .9l1.5 2.0l1.5 2.8l9.5 23.5l4.5 9.0l2.0 2.9l2.5 2.9l2.5 2.1l3.0 1.7l3.5 1.2l4.0 .9l23.5 3.6l19.0 4.6l27.0 9.3l10.0 2.6l10.0 1.4l19.0 2.0l25.5 1.5" stroke="#2424d8" stroke-width="1.80" fill="none" stroke-linejoin="round" />
<path d="M366.4 1185.8l73.0 .2l15.5 .9l11.0 1.2l5.0 .9l3.5 1.0l8.0 3.3l9.0 4.3l10.0 3.3l10.0 2.1l26.5 3.6l5.5 1.0l20.0 4.9l8.5 3.2l16.0 5.3l9.0 2.4l10.0 1.6l19.0 1.9l26.5 1.6" stroke="#e030e0" stroke-width="2.00" fill="none" stroke-linejoin="round" />
<path d="M366.4 1182.4l1.5 5.2l.5-0.4l.5-1.3l.5 .1l1.0-5.2l.5 2.6l.5 1.2l.5 6.6l.5-0.8l.5 .4l.5-4.6l.5 .8l.5-1.1l.5 3.2l.5-2.6l.5 1.0l.5-4.5l.5 4.0l.5-0.5l.5 1.7l1.0-3.4l.5 1.6l.5-2.9l.5 2.1l.5-2.6l1.0-2.7l.5-0.6l.5 3.5l.5 .9l.5 2.8l1.5-1.9l.5 1.4l.5 .2l.5-1.2l.5-2.9l.5-0.1l.5 .0l.5 4.1l.5-1.4l.5-0.5l.5-3.2l.5 2.7l.5 1.1l1.0-3.1l.5-0.1l.5 2.8l.5-0.3l.5 .3l.5-2.3l.5 1.9l.5 .7l.5-1.3l.5 3.0l.5-0.4l.5 1.4l.5-4.8l.5-0.7l.5 .8l.5 2.1l1.0 1.0l.5-3.3l1.0-3.4l1.0 4.3l1.0-1.3l.5 .3l.5 3.4l.5-1.4l.5-0.3l.5-1.0l1.0 2.9l.5-2.2l.5 .2l.5-2.3l.5 1.9l.5 .1l1.5 4.4l.5-0.7l1.0-5.4l.5 1.6l.5-1.4l.5 4.8l.5-3.5l.5 1.6l.5-3.6l.5 1.5l.5-1.2l.5 2.8l.5-0.8l.5 .9l.5-3.7l1.0-0.9l.5 3.4l.5 .8l.5-2.4l.5-0.7l.5-4.9l.5 4.3l.5-5.1l.5 3.3l.5-1.2l.5 2.5l.5-1.7l.5 .4l.5-2.8l.5-0.7l.5 .1l.5 1.1l.5 2.3l.5-1.0l.5 .9l.5-0.1l.5-1.2l.5 .3l1.0 2.2l.5 .0l.5-0.5l1.5-7.0l1.5 6.5l1.0-7.4l.5 .4l.5 3.1l1.5 2.2l1.5-5.8l1.0 3.2l.5 3.6l.5 .6l1.0-6.0l1.0-1.3l1.0 .3l.5 2.6l1.0-1.1l1.0 1.2l1.0-5.2l.5-0.3l.5 1.6l.5-0.5l.5-2.8l.5 2.1l.5 .2l.5 1.0l.5-1.8l1.0-1.7l1.0-9.4l1.5 8.6l.5-2.7l.5 .5l.5 1.5l.5-2.9l.5 .6l.5-5.5l.5 1.6l.5-0.7l.5 2.7l1.0-3.2l1.0-0.5l1.5-7.4l.5-0.3l.5-2.6l.5-0.1l1.0-2.7l1.0-4.5l1.0-1.7l.5-0.3l1.5-6.5l.5-3.7l.5-0.5l.5-2.9l.5-0.7l1.0-3.4l1.0-5.1l1.0-1.9l.5-2.2l1.5-11.1l3.0-13.4l.5-0.1l.5-0.6l1.5-9.7l3.0-6.9l1.0-6.4l.5-1.6l1.0-1.1l2.0-15.0l1.0-4.7l.5 2.6l1.0 .3l1.0-3.2l.5 1.4l.5 .0l.5 .8l.5-0.9l1.0 2.8l2.0 7.8l3.0 24.1l.5 1.3l1.0 7.4l3.0 25.3l1.0 4.5l1.5 12.1l1.5 6.6l1.5 14.8l2.0 8.0l.5 .1l1.0 2.4l.5 2.4l.5-0.6l.5 .9l.5 .1l.5 1.8l.5-2.3l.5-0.2l1.0-3.2l.5-0.5l1.0 2.2l1.0-1.8l.5-0.2l.5-0.6l1.0 .0l.5-1.5l3.0-16.6l1.0-1.8l.5-1.9l1.0-6.7l.5 .0l3.0-19.2l.5-1.1l2.0-11.6l1.5-6.1l1.5-12.6l.5-0.6l.5-1.4l.5-2.7l1.0-8.7l1.0-4.1l2.0-5.2l.5-4.6l2.0-7.3l1.5-8.1l.5-0.9l.5-2.0l.5-0.6l.5-2.4l.5 1.2l.5-0.5l.5 1.2l1.5 1.2l2.0-0.9l1.0 4.0l1.0 7.2l.5 .6l1.0 4.9l1.0 12.2l1.5 9.5l1.0 10.1l2.0 24.1l2.0 20.1l1.5 11.9l1.5 19.3l1.5 8.6l1.0 9.9l1.0 6.6l.5 .1l.5 2.1l.5 .2l.5 2.9l.5 .7l.5 3.2l1.5 4.3l1.0 4.3l.5-3.0l1.0-3.2l.5 1.3l1.0-1.0l.5 .8l.5-0.1l1.0-3.8l.5-0.1l.5-1.0l.5 1.3l.5-1.4l.5 .3l1.0-2.1l.5 .2l1.0-4.5l1.0 .6l1.0-2.7l.5-2.3l.5 3.4l.5-0.6l.5 1.3l1.0-5.8l1.0-1.5l.5 1.3l1.5-4.8l.5 .1l1.0 1.7l.5-0.9l.5 2.1l.5-0.5l.5 1.5l.5-2.9l1.0 2.6l.5 2.4l.5-0.8l.5-1.9l.5 .3l.5 1.1l1.0-0.2l.5 .4l1.0 1.9l.5-0.3l.5 2.5l.5-1.2l.5 1.2l.5-0.7l.5 .0l1.0-1.1l.5 3.2l1.0 2.5l.5-0.1l.5 3.3l.5 .4l.5 2.3l1.5-4.3l.5-0.2l.5 1.8l.5 .1l.5 1.0l1.5 6.9l.5 .6l.5-1.0l.5 .9l.5-1.4l.5 2.2l.5-0.4l.5 1.2l1.0 4.3l1.0 1.1l1.0-3.7l.5 .9l1.0 7.4l1.0-2.1l.5 1.3l.5 .2l.5 .6l.5 .1l.5 .7l.5 2.4l.5 .8l.5 3.0l.5-2.3l.5-0.0l.5 .4l1.0 3.4l.5-2.6l.5 .0l.5-2.5l1.0 2.6l.5 2.1l.5-0.2l.5 .4l2.5 5.9l1.0-0.9l.5-1.3l1.5 2.2l.5-0.1l.5-1.2l.5 .9l1.0 3.8l1.0-0.9l.5 .3l.5 1.7l.5-1.1l.5-0.0l.5-1.5l.5 .3" stroke="#111" stroke-width="2.20" fill="none" stroke-linejoin="round" />
<path d="M366.4 1185.6l19.5-0.3l13.5-0.6l6.5-0.7l7.5-1.3l10.0-2.7l9.5-3.2l15.0-4.5l3.0-1.4l2.5-1.5l4.0-3.6l3.0-4.0l3.0-5.6l3.0-7.4l3.0-9.0l5.5-19.9l7.5-32.8l6.0-22.2l3.5-14.2l1.5-4.3l2.0-2.8l1.0-0.8l.5 .0l.5 .4l.5 1.0l2.5 11.3l8.0 58.4l6.0 38.1l1.5 5.0l2.0 4.3l1.5 1.5l.5 .0l1.0-0.5l2.0-2.7l2.5-5.6l2.0-6.1l2.5-9.5l4.5-20.9l5.5-31.9l3.0-15.8l5.0-22.6l3.5-17.7l1.5-5.3l2.0-3.2l1.0-0.9l.5 .2l.5 .7l1.0 3.6l2.5 17.6l7.0 71.5l6.0 56.3l1.0 6.7l1.5 7.2l2.5 8.4l1.0 1.8l1.0 .8l1.5 .1l2.0-0.9l1.5-1.5l1.5-2.0l6.5-11.5l3.0-4.2l1.5-1.2l1.5-0.6l1.5 .2l2.0 .6l2.0 1.1l2.5 1.7l5.0 5.0l4.5 5.7l12.5 17.3l4.0 5.0l3.5 3.7l3.5 3.3l4.0 3.1l4.0 2.4l4.0 1.9" stroke="#7a1414" stroke-width="1.80" fill="none" stroke-linejoin="round" />
<line x1="369.7" y1="1062.2" x2="392.2" y2="1062.2" stroke="#111" stroke-width="2.2"/>
<text x="394.9" y="1066.7" font-size="12.6" font-weight="bold" fill="#333">Sample</text>
<line x1="369.7" y1="1077.8" x2="392.2" y2="1077.8" stroke="#e8302a" stroke-width="2.2"/>
<text x="394.9" y="1082.3" font-size="12.6" font-weight="bold" fill="#333">Pt metal</text>
<line x1="369.7" y1="1093.6" x2="392.2" y2="1093.6" stroke="#2424d8" stroke-width="2.2"/>
<text x="394.9" y="1098.1" font-size="12.6" font-weight="bold" fill="#333">PtO<tspan dy="5.7" font-size="10.1">x</tspan></text>
<line x1="369.7" y1="1114.4" x2="392.2" y2="1114.4" stroke="#2a8f2a" stroke-width="2.2"/>
<text x="394.9" y="1118.9" font-size="12.6" font-weight="bold" fill="#333">Br</text>
<line x1="369.7" y1="1130.9" x2="392.2" y2="1130.9" stroke="#e030e0" stroke-width="2.2"/>
<text x="394.9" y="1135.4" font-size="12.6" font-weight="bold" fill="#333">Background</text>
<line x1="369.7" y1="1147.0" x2="392.2" y2="1147.0" stroke="#7a1414" stroke-width="2.2"/>
<text x="394.9" y="1151.5" font-size="12.6" font-weight="bold" fill="#333">Total</text>
<text x="367.9" y="989.5" font-weight="bold" fill="#111"><tspan dy="0.0" font-size="17.5">Au</tspan><tspan dy="6.8" font-size="16.5">70</tspan><tspan dy="-6.8" font-size="17.5">Pt</tspan><tspan dy="6.8" font-size="16.5">15</tspan><tspan dy="-6.8" font-size="17.5">Pd</tspan><tspan dy="6.8" font-size="16.5">15</tspan><tspan dy="-6.8" font-size="17.5">/C</tspan></text>
<text x="589.7" y="993.1" font-size="19.5" fill="#111" text-anchor="start" font-weight="bold" >Pt 4f</text>
<text x="490.9" y="1029.9" font-weight="bold" fill="#111"><tspan dy="0.0" font-size="17.0">4f</tspan><tspan dy="8.0" font-size="15.5">5/2</tspan></text>
<text x="557.1" y="1012.5" font-weight="bold" fill="#111"><tspan dy="0.0" font-size="17.0">4f</tspan><tspan dy="6.6" font-size="15.5">7/2</tspan></text>
<text x="599.0" y="1076.5" font-size="42.0" fill="#111" text-anchor="start" font-weight="bold" >i</text>
<path d="M644.5,1137.3V1173.9M638.6,1137.3h11.7M638.6,1173.9h11.7" stroke="#111" stroke-width="2.0" fill="none"/>
<text x="638.2" y="1163.2" font-size="16.0" fill="#111" text-anchor="end" font-weight="bold" >100</text>
<text transform="translate(359.0,1096.5) rotate(-90)" x="0" y="0" font-size="21.7" font-weight="bold" fill="#111" text-anchor="middle">Intensity / cps</text>
<text x="509.4" y="1276.8" font-size="20.6" fill="#111" text-anchor="middle" font-weight="bold" >BE / eV</text>
<rect x="701.9" y="959.6" width="292.7" height="268.6" fill="none" stroke="#6f6f6f" stroke-width="1.3"/>
<path d="M985.5,1228.2v-4.5M985.5,959.6v4.5M976.3,1228.2v-9.5M976.3,959.6v9.5M967.2,1228.2v-4.5M967.2,959.6v4.5M958.0,1228.2v-4.5M958.0,959.6v4.5M948.9,1228.2v-4.5M948.9,959.6v4.5M939.7,1228.2v-4.5M939.7,959.6v4.5M930.6,1228.2v-9.5M930.6,959.6v9.5M921.4,1228.2v-4.5M921.4,959.6v4.5M912.3,1228.2v-4.5M912.3,959.6v4.5M903.1,1228.2v-4.5M903.1,959.6v4.5M894.0,1228.2v-4.5M894.0,959.6v4.5M884.8,1228.2v-9.5M884.8,959.6v9.5M875.7,1228.2v-4.5M875.7,959.6v4.5M866.5,1228.2v-4.5M866.5,959.6v4.5M857.4,1228.2v-4.5M857.4,959.6v4.5M848.2,1228.2v-4.5M848.2,959.6v4.5M839.1,1228.2v-9.5M839.1,959.6v9.5M830.0,1228.2v-4.5M830.0,959.6v4.5M820.8,1228.2v-4.5M820.8,959.6v4.5M811.7,1228.2v-4.5M811.7,959.6v4.5M802.5,1228.2v-4.5M802.5,959.6v4.5M793.4,1228.2v-9.5M793.4,959.6v9.5M784.2,1228.2v-4.5M784.2,959.6v4.5M775.1,1228.2v-4.5M775.1,959.6v4.5M765.9,1228.2v-4.5M765.9,959.6v4.5M756.8,1228.2v-4.5M756.8,959.6v4.5M747.6,1228.2v-9.5M747.6,959.6v9.5M738.5,1228.2v-4.5M738.5,959.6v4.5M729.3,1228.2v-4.5M729.3,959.6v4.5M720.2,1228.2v-4.5M720.2,959.6v4.5M711.0,1228.2v-4.5M711.0,959.6v4.5" stroke="#6f6f6f" stroke-width="1.3" fill="none"/>
<text x="976.3" y="1254.2" font-size="19.0" fill="#111" text-anchor="middle" font-weight="bold" >330</text>
<text x="930.6" y="1254.2" font-size="19.0" fill="#111" text-anchor="middle" font-weight="bold" >335</text>
<text x="884.8" y="1254.2" font-size="19.0" fill="#111" text-anchor="middle" font-weight="bold" >340</text>
<text x="839.1" y="1254.2" font-size="19.0" fill="#111" text-anchor="middle" font-weight="bold" >345</text>
<text x="793.4" y="1254.2" font-size="19.0" fill="#111" text-anchor="middle" font-weight="bold" >350</text>
<text x="747.6" y="1254.2" font-size="19.0" fill="#111" text-anchor="middle" font-weight="bold" >355</text>
<text x="701.9" y="1254.2" font-size="19.0" fill="#111" text-anchor="middle" font-weight="bold" >360</text>
<path d="M701.9 1187.8l38.5 .8l46.6 1.7l17.5 .9l18.0 1.2l27.0 2.8l16.0 1.9l49.0 8.0l9.1 1.1l4.0-0.3l4.5-1.5l4.0-2.2l9.5-6.9l3.0-1.2l2.5-0.2l3.0 .8l3.0 1.9l3.0 2.7l9.0 9.3l3.5 2.8l3.0 2.0l3.5 1.6l4.0 1.3l5.0 1.1l6.5 .8" stroke="#2a8f2a" stroke-width="1.80" fill="none" stroke-linejoin="round" />
<path d="M701.9 1187.7l23.5-0.0l5.5-0.5l5.0-1.1l4.5-1.7l4.5-2.7l3.5-2.6l8.0-6.8l3.5-2.5l3.5-1.4l3.5-0.2l3.5 .9l4.0 2.0l4.1 2.8l10.0 7.8l6.0 3.8l6.0 2.6l6.5 1.9l9.0 1.4l49.0 5.6l34.5 5.7l16.0 3.1l20.6 5.9l11.5 2.1l13.0 1.6l34.0 3.1" stroke="#2424d8" stroke-width="1.80" fill="none" stroke-linejoin="round" />
<path d="M701.9 1187.8l41.5 .9l62.6 2.5l21.5 1.6l29.5 3.1l20.5 2.6l7.0 .2l3.0-0.4l3.0-0.8l2.5-1.2l2.5-1.5l5.0-4.6l8.0-9.5l3.0-3.0l3.0-2.1l1.5-0.4l1.5-0.1l1.5 .4l2.0 .9l3.6 2.9l4.5 5.1l9.0 12.2l4.5 5.4l5.0 4.8l5.5 3.8l6.0 2.7l6.5 1.6l9.0 1.3l20.0 2.1" stroke="#2424d8" stroke-width="1.80" fill="none" stroke-linejoin="round" />
<path d="M701.9 1187.8l40.0 .9l58.1 2.2l24.0-0.6l42.5-0.5l10.5-0.3l6.0-0.7l5.0-1.6l6.0-2.9l4.0-2.8l3.5-3.1l3.0-3.4l2.5-3.5l3.5-6.7l3.5-11.4l2.5-11.4l2.5-16.3l5.6-53.6l2.0-14.8l1.0-4.1l.5 .1l.5 2.4l1.5 13.4l4.5 65.4l4.0 51.7l1.5 10.9l1.5 7.2l1.5 5.3l1.5 2.4l2.0 1.4l1.5 .5l12.5 1.6l34.0 3.0" stroke="#e8302a" stroke-width="1.60" fill="none" stroke-linejoin="round" />
<path d="M701.9 1187.8l49.5 1.2l75.1-1.6l7.5-0.5l4.0-0.6l6.5-1.7l5.0-1.9l6.0-3.4l2.5-2.0l2.5-2.5l3.0-4.4l3.0-6.6l2.5-7.9l2.0-8.5l5.5-32.1l2.0-8.1l.5-1.0l.5-0.0l1.0 3.4l1.0 5.7l4.5 39.0l4.0 31.0l1.0 5.1l1.5 4.7l1.5 3.7l1.5 2.2l3.5 1.7l17.5 3.4l18.1 5.2l8.0 1.7l16.5 2.3l35.5 3.2" stroke="#e8302a" stroke-width="1.60" fill="none" stroke-linejoin="round" />
<path d="M701.9 1187.8l38.5 .9l50.6 1.8l23.0 1.3l18.5 1.6l34.0 3.9l35.5 5.9l16.0 3.3l19.1 5.4l10.0 1.9l13.0 1.6l34.5 3.1" stroke="#e030e0" stroke-width="2.00" fill="none" stroke-linejoin="round" />
<path d="M701.9 1183.8l1.0 1.1l1.0-0.2l1.0 3.3l1.0-1.7l1.0 1.2l1.0 2.2l1.0-0.1l1.0-1.3l1.0-3.1l1.0-1.1l1.0-0.3l1.0 1.4l1.0 .7l1.0-3.1l1.0-0.7l1.0 4.4l1.0-7.1l1.0 5.1l1.0 1.6l1.0-4.7l1.1-0.7l1.0 .8l1.0 4.2l1.0-2.8l1.0-5.9l2.0 8.5l1.0-0.5l1.0-1.5l1.0-3.1l1.0-5.6l1.0 6.1l1.0-1.5l1.0 .3l1.0 4.2l1.0-4.8l1.0-0.2l1.0 .5l1.0-3.4l1.0-1.9l1.0-0.9l1.0 4.1l1.0-1.6l1.0-3.9l1.0 4.4l1.0-3.9l1.0-5.8l1.0 5.4l2.0-8.0l1.0 4.9l1.0-3.7l1.0-1.1l1.0 2.3l1.0-9.8l2.0 4.1l1.0 1.5l1.0-3.5l1.0-1.6l1.0-0.5l2.1 5.0l1.0-6.8l1.0-2.0l1.0 5.8l1.0-0.1l1.0-1.5l1.0 5.2l1.0 1.1l1.0-4.0l1.0 1.2l1.0 3.5l2.0-5.0l1.0 4.9l1.0-2.0l1.0 4.7l1.0-1.9l1.0 1.7l1.0 3.0l2.0-2.2l1.0-0.5l1.0 9.4l1.0-1.3l1.0-7.7l1.0 2.1l1.0 5.8l1.0-3.2l2.0 5.5l1.0-1.7l2.0-1.2l2.0 3.5l1.0 4.6l1.0-2.0l1.0-3.8l1.0 3.7l1.0-2.5l1.0-5.0l2.1 8.1l1.0-5.1l1.0 5.0l1.0-4.0l1.0 1.0l1.0-3.9l1.0 10.4l1.0-5.2l1.0 1.7l2.0-8.0l1.0 8.5l1.0-6.3l1.0 7.5l1.0-5.9l1.0 5.6l1.0-7.7l1.0-3.4l1.0 7.8l1.0-2.6l1.0 .1l1.0 3.2l1.0-6.3l1.0-1.5l1.0 .2l1.0-1.8l1.0-0.6l3.0 3.6l1.0-2.7l2.0 5.6l1.0-3.5l1.0 1.6l1.0-4.6l1.0 3.4l1.0 .1l2.0-7.4l1.0 3.7l1.0 .0l1.1 4.0l1.0-6.5l1.0 5.9l1.0-13.6l1.0 5.9l1.0-1.3l1.0-0.5l1.0-1.3l1.0 .6l1.0 4.3l1.0-6.7l1.0 3.0l1.0-5.4l1.0-0.9l1.0-9.7l1.0 5.7l1.0-0.7l1.0-8.0l1.0-1.2l1.0-4.1l1.0 5.5l1.0-14.0l1.0-4.3l1.0-12.1l1.0-2.5l1.0-0.5l2.0-22.6l1.0 1.9l2.0-9.8l1.0 1.4l1.0 3.4l1.0 21.8l1.0 .3l1.0 12.8l1.0 3.7l1.0 10.4l1.0 4.9l1.0 13.0l1.0 4.6l1.1 3.0l1.0-0.7l1.0 9.1l1.0 1.5l1.0 .1l1.0-3.5l1.0 1.2l1.0-0.8l1.0-3.0l1.0 1.1l1.0-7.2l1.0-1.1l1.0-7.7l1.0 8.9l1.0-11.5l1.0 .7l1.0-1.9l1.0-7.5l2.0-1.5l4.0-20.4l2.0-6.2l2.0-9.4l2.0-19.5l1.0-4.6l1.0-11.2l1.0-7.4l1.0-13.0l3.0-26.1l1.0-10.9l1.0 5.1l1.0 10.6l1.0 19.0l1.0 10.8l1.1 16.8l1.0 13.4l1.0 8.9l1.0 24.3l2.0 27.9l1.0 3.9l1.0 14.2l1.0 5.4l1.0-0.4l1.0 10.6l1.0-0.3l1.0 5.3l1.0-5.6l1.0 3.5l1.0 1.5l1.0-1.9l2.0 10.4l1.0-3.4l2.0 6.6l2.0-3.7l1.0-3.8l1.0 8.4l1.0-0.9l1.0 .8l1.0 5.0l1.0 .7l1.0-5.4l1.0 7.0l1.0-0.6l1.0 5.0l1.0-1.7l1.0 4.1l1.0-3.9l1.0 1.8l1.0 .5l1.0 2.0l1.0 .6l1.0 5.3l1.1-6.2l1.0 4.0l1.0-3.4l1.0-0.4l1.0 3.2l1.0-2.5l1.0 5.7l1.0-2.5l1.0 .9l2.0 7.2l1.0-6.4l1.0-4.3l1.0 5.1l1.0 1.4l1.0 3.8l2.0-6.1l1.0 5.9l1.0 .6l1.0-3.9" stroke="#111" stroke-width="2.00" fill="none" stroke-linejoin="round" />
<path d="M701.9 1187.6l24.1 .0l6.0-0.6l5.0-1.3l5.0-2.2l4.0-2.6l11.0-9.4l3.0-2.2l3.0-1.5l3.1-0.5l3.0 .3l4.0 1.4l4.0 2.4l10.0 7.1l5.0 3.1l6.0 2.6l5.0 1.1l5.1 .4l6.0-0.0l7.0-0.6l9.0-1.2l4.0-0.7l4.0-1.1l5.0-1.9l4.0-1.8l7.1-4.5l5.0-4.7l3.0-4.0l2.0-3.9l2.0-4.9l2.0-6.2l2.0-8.1l2.0-10.9l4.0-25.1l2.0-9.0l1.0-2.1l1.0 2.2l1.0 4.8l5.0 39.8l3.0 21.1l1.1 5.3l1.0 3.2l1.0 1.8l1.0 1.3l1.0 .6l1.0-0.3l2.0-2.4l2.0-3.6l3.0-6.7l3.0-7.7l5.0-15.6l4.0-17.3l2.0-10.4l2.0-13.0l2.0-16.6l4.0-39.7l2.0-14.4l1.0-4.3l1.0 2.1l1.0 8.0l5.1 72.2l4.0 52.8l1.0 8.7l3.0 14.1l1.0 2.7l1.0 1.4l2.0 1.6l5.0 2.5l3.0 2.3l4.0 4.2l9.0 10.6l3.0 2.9l3.0 2.4l4.1 2.4l4.0 1.6l5.0 1.2l8.0 1.2" stroke="#7a1414" stroke-width="1.60" fill="none" stroke-linejoin="round" />
<line x1="710.9" y1="1069.2" x2="736.0" y2="1069.2" stroke="#111" stroke-width="2.2"/>
<text x="739.6" y="1074.1" font-size="13.5" font-weight="bold" fill="#333">Sample</text>
<line x1="710.9" y1="1087.2" x2="736.0" y2="1087.2" stroke="#e8302a" stroke-width="2.2"/>
<text x="739.6" y="1092.1" font-size="13.5" font-weight="bold" fill="#333">Pd metal</text>
<line x1="710.9" y1="1104.0" x2="736.0" y2="1104.0" stroke="#2424d8" stroke-width="2.2"/>
<text x="739.6" y="1108.9" font-size="13.5" font-weight="bold" fill="#333">Au metal</text>
<line x1="710.9" y1="1121.4" x2="736.0" y2="1121.4" stroke="#2a8f2a" stroke-width="2.2"/>
<text x="739.6" y="1126.3" font-size="13.5" font-weight="bold" fill="#333">Pt (metal+oxide)</text>
<line x1="710.9" y1="1138.1" x2="736.0" y2="1138.1" stroke="#e030e0" stroke-width="2.2"/>
<text x="739.6" y="1143.0" font-size="13.5" font-weight="bold" fill="#333">Background</text>
<text x="703.0" y="988.1" font-weight="bold" fill="#111"><tspan dy="0.0" font-size="16.8">Au</tspan><tspan dy="6.6" font-size="16.0">70</tspan><tspan dy="-6.6" font-size="16.8">Pt</tspan><tspan dy="6.6" font-size="16.0">15</tspan><tspan dy="-6.6" font-size="16.8">Pd</tspan><tspan dy="6.6" font-size="16.0">15</tspan><tspan dy="-6.6" font-size="16.8">/C</tspan></text>
<text x="854.1" y="985.7" font-size="18.0" fill="#e02020" text-anchor="start" font-weight="bold" letter-spacing="1">Pd 3d</text>
<text x="853.3" y="1005.2" font-size="18.0" fill="#1c1ce0" text-anchor="start" font-weight="bold" letter-spacing="1">Au 4d</text>
<text x="855.9" y="1024.2" font-size="18.0" fill="#1f8a1f" text-anchor="start" font-weight="bold" letter-spacing="1">Pt 4d</text>
<text x="960.0" y="1060.3" font-size="42.0" fill="#111" text-anchor="start" font-weight="bold" >j</text>
<path d="M988.3,1130.5V1159.9M983.1,1130.5h10.4M983.1,1159.9h10.4" stroke="#111" stroke-width="2.0" fill="none"/>
<text x="981.8" y="1153.0" font-size="18.0" fill="#111" text-anchor="end" font-weight="bold" >200</text>
<text transform="translate(695.2,1091.3) rotate(-90)" x="0" y="0" font-size="23.6" font-weight="bold" fill="#111" text-anchor="middle">Intensity / cps</text>
<text x="848.0" y="1275.7" font-size="22.0" fill="#111" text-anchor="middle" font-weight="bold" >BE / eV</text>
</svg>
</body></html>
